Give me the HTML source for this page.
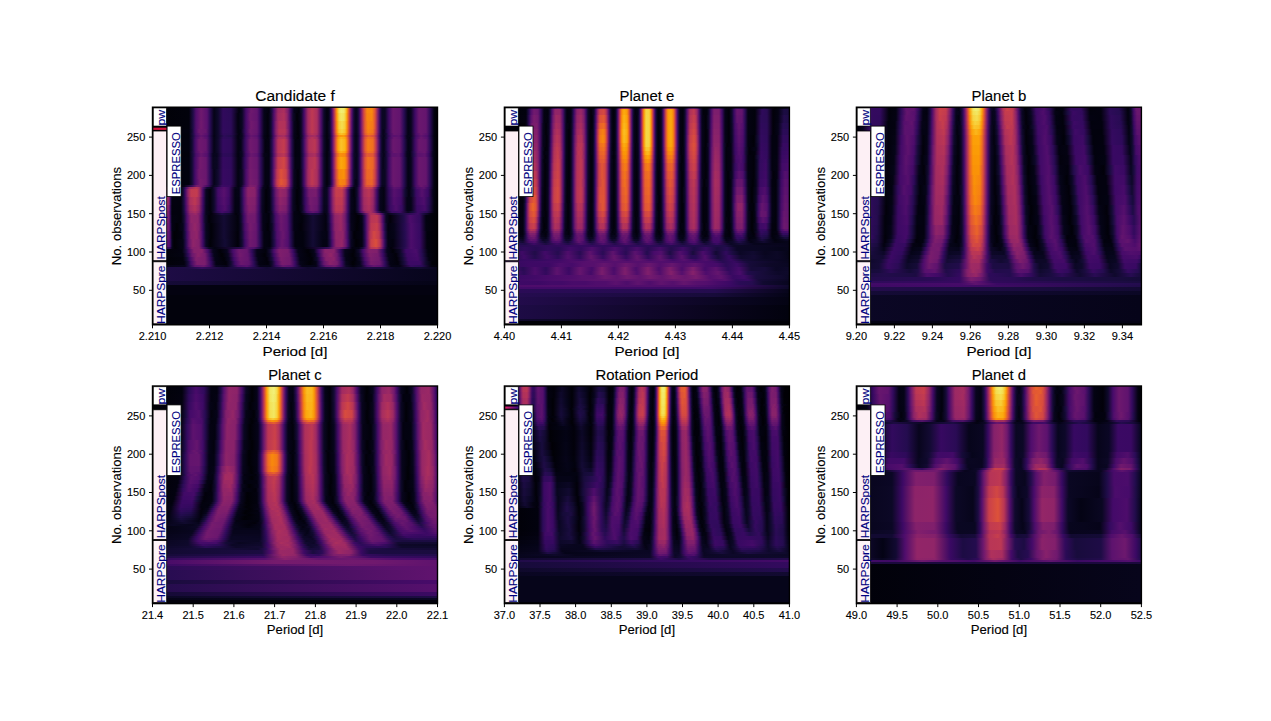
<!DOCTYPE html><html><head><meta charset="utf-8"><style>
html,body{margin:0;padding:0;background:#fff}
body{width:1271px;height:721px;position:relative;overflow:hidden}
.hm{position:absolute;overflow:hidden;background:#000}
.hm i{position:absolute;left:0;width:100%;display:block}
svg{position:absolute;left:0;top:0}
</style></head><body><div class="hm" style="left:152px;top:107px;width:285px;height:218px"><i style="top:0px;height:6px;background:linear-gradient(90deg,#010106 0px,#02020c 37px,#1e0c45 41px,#4f0d6c 44px,#6f196e 49px,#59116e 55px,#2a0b56 58px,#050417 62px,#0e092b 66px,#310a5c 71px,#2b0b57 79px,#02020e 87px,#0a0722 90px,#440a68 94px,#6e196e 99px,#62146e 105px,#390963 108px,#060419 112px,#030210 117px,#1e0c45 120px,#4e0d6c 122px,#9e2a63 126px,#ac2f5d 132px,#7b1d6d 136px,#310a5d 139px,#060419 142px,#02020c 147px,#140b34 150px,#420a68 152px,#a32c61 156px,#bf3952 160px,#a92e5e 165px,#4d0d6c 169px,#0d0829 172px,#02020e 175px,#07051b 177px,#290b55 179px,#4f0d6c 180px,#ab2f5d 182px,#f3771a 184px,#fca40a 185px,#f4df53 187px,#f1ef74 189px,#f2ea6a 192px,#f9c62e 194px,#fca208 195px,#d64a40 197px,#781c6d 199px,#4d0c6c 200px,#120a32 202px,#060419 204px,#110a30 206px,#450a69 208px,#912568 210px,#d74b3f 212px,#f8870e 215px,#f98a0c 220px,#e05437 223px,#781c6d 226px,#310a5c 228px,#0b0724 230px,#0a0722 233px,#400a67 237px,#6a176e 241px,#62146e 248px,#290b55 252px,#040314 256px,#08051d 259px,#3d0965 263px,#6a176e 267px,#64156e 274px,#2d0b59 278px,#040312 282px,#010108 284px)"></i><i style="top:6px;height:8px;background:linear-gradient(90deg,#010106 0px,#02020c 37px,#1e0c45 41px,#500d6c 44px,#6f196e 49px,#5a116e 55px,#2b0b57 58px,#050417 62px,#0e092b 66px,#310a5c 71px,#2c0b58 79px,#030210 86px,#0a0722 90px,#440a68 94px,#6d186e 98px,#62146e 105px,#390963 108px,#06051a 112px,#02020c 116px,#10092d 119px,#510e6c 122px,#a32c61 126px,#b0315b 132px,#922567 135px,#4d0d6c 138px,#0e092b 141px,#010108 145px,#09061f 149px,#420a68 152px,#a32c61 156px,#bf3952 160px,#a92e5e 165px,#4d0d6c 169px,#0d0829 172px,#02020e 175px,#07051b 177px,#290b54 179px,#4d0c6b 180px,#a82e5f 182px,#f1721e 184px,#fb9d07 185px,#f6d645 187px,#f2e763 189px,#f3e259 192px,#fbbe24 194px,#fb9b06 195px,#d34743 197px,#751b6e 199px,#4b0c6b 200px,#120a31 202px,#060419 204px,#110a30 206px,#440a69 208px,#902468 210px,#d54941 212px,#f78310 215px,#f8870e 220px,#de5238 223px,#771c6d 226px,#300a5b 228px,#0b0724 230px,#0a0722 233px,#400a67 237px,#6a176e 241px,#62146e 248px,#290b55 252px,#040314 256px,#08051d 259px,#3d0965 263px,#6a176e 267px,#64156e 274px,#2d0b59 278px,#040312 282px,#010108 284px)"></i><i style="top:14px;height:8px;background:linear-gradient(90deg,#010106 0px,#02020c 37px,#1e0c45 41px,#510e6c 44px,#71196e 49px,#5a116e 55px,#2b0b57 58px,#050417 62px,#0e092b 66px,#310a5d 71px,#2d0b59 79px,#030210 86px,#0a0722 90px,#450a69 94px,#71196e 99px,#64156e 105px,#3a0963 108px,#07051b 112px,#02020c 116px,#100a2e 119px,#390963 121px,#86216b 124px,#b2325a 127px,#b1325a 133px,#6b176e 137px,#360961 139px,#07051b 142px,#02010a 146px,#09061f 149px,#420a68 152px,#a32c61 156px,#bf3952 160px,#a92e5e 165px,#4d0d6c 169px,#0d0829 172px,#02020e 175px,#110a30 178px,#4b0c6b 180px,#a42c61 182px,#ee6b23 184px,#fa9407 185px,#f8cd36 187px,#f4de51 190px,#f8cc35 193px,#fa9207 195px,#cf4446 197px,#731a6e 199px,#490b6a 200px,#110a30 202px,#060419 204px,#110a30 206px,#440a68 208px,#8e2469 210px,#e75e2e 213px,#f8860e 216px,#f47819 221px,#dc503b 223px,#751b6e 226px,#2f0a5b 228px,#0b0724 230px,#0a0722 233px,#400a67 237px,#6a176e 241px,#62146e 248px,#290b55 252px,#040314 256px,#08051d 259px,#3d0965 263px,#6a176e 267px,#64156e 274px,#2d0b59 278px,#040312 282px,#010108 284px)"></i><i style="top:22px;height:4px;background:linear-gradient(90deg,#010106 0px,#02020e 37px,#110a30 40px,#420a68 43px,#6d186e 47px,#65156e 54px,#2b0b57 58px,#050417 62px,#0e092b 66px,#320a5e 71px,#2d0b59 79px,#030311 86px,#050417 89px,#340a5f 93px,#6f196e 98px,#64156e 105px,#3b0964 108px,#07051b 112px,#02020c 116px,#110a30 119px,#3b0964 121px,#89226a 124px,#b63457 127px,#b53458 133px,#86216b 136px,#380962 139px,#07051b 142px,#02010a 146px,#09061f 149px,#420a68 152px,#a32c61 156px,#bf3952 160px,#a92e5e 165px,#4d0d6c 169px,#0d0829 172px,#02020e 175px,#110a30 178px,#490b6a 180px,#a12b62 182px,#ec6727 184px,#f98e09 185px,#fac52c 187px,#f6d643 190px,#fac42b 193px,#f98c0a 195px,#cb4149 197px,#70196e 199px,#480b6a 200px,#110a30 202px,#060419 204px,#110a30 206px,#420a68 208px,#8c2369 210px,#e65c30 213px,#f78311 216px,#f2751b 221px,#bf3952 224px,#741a6e 226px,#2f0a5b 228px,#0b0724 230px,#060419 232px,#2f0a5b 236px,#6a176e 241px,#62146e 248px,#290b55 252px,#040314 256px,#08051d 259px,#3d0965 263px,#6a176e 267px,#64156e 274px,#2d0b59 278px,#040312 282px,#010108 284px)"></i><i style="top:26px;height:2px;background:linear-gradient(90deg,#010106 0px,#02020c 37px,#1d0c44 41px,#4d0d6c 44px,#6d186e 49px,#58106e 55px,#290b55 58px,#050417 62px,#0e092b 66px,#300a5b 71px,#2b0b57 79px,#02020e 87px,#0a0722 90px,#430a68 94px,#6e186e 99px,#61136e 105px,#380962 108px,#06051a 112px,#02020c 116px,#100a2e 119px,#390963 121px,#86216b 124px,#b3325a 127px,#b1325a 133px,#83206b 136px,#360960 139px,#06051a 142px,#010109 146px,#09061f 149px,#3e0966 152px,#9d2964 156px,#b93556 160px,#a52c60 165px,#4a0c6b 169px,#0d0827 172px,#02020d 175px,#0f092c 178px,#450a69 180px,#9a2865 182px,#e65d2f 184px,#fb9f09 186px,#fac42b 189px,#fbb318 193px,#fb9f09 194px,#e55c30 196px,#982765 198px,#440a68 200px,#10092d 202px,#050417 204px,#10092d 206px,#3f0a66 208px,#87216b 210px,#e05536 213px,#f47819 216px,#ee6b23 221px,#b83556 224px,#4c0c6b 227px,#160b38 229px,#060419 231px,#100a2e 234px,#3e0966 237px,#69176e 242px,#5f136e 248px,#280b53 252px,#040314 256px,#08051d 259px,#4a0c6b 264px,#6b176e 269px,#57106d 275px,#2a0b56 278px,#040312 282px,#010108 284px)"></i><i style="top:28px;height:2px;background:linear-gradient(90deg,#010106 0px,#02020c 37px,#190c3e 41px,#460b69 44px,#63146e 49px,#500d6c 55px,#240c4f 58px,#040314 62px,#120a32 67px,#2d0b59 72px,#210c4a 80px,#030210 86px,#09061f 90px,#3c0965 94px,#65156e 99px,#58106e 105px,#320a5e 108px,#050417 112px,#02010a 116px,#0e092b 119px,#4d0c6b 122px,#9c2964 126px,#a92e5f 132px,#791c6d 136px,#310a5c 139px,#060419 142px,#02010b 147px,#110a30 150px,#510e6d 153px,#9c2964 157px,#a62d60 163px,#731a6e 167px,#430a68 169px,#0b0724 172px,#02020c 175px,#0d0829 178px,#3e0966 180px,#8c2369 182px,#d74b3f 184px,#fa9307 187px,#fb9c07 192px,#eb6628 195px,#b3325a 197px,#61146e 199px,#3c0965 200px,#0d0829 202px,#040314 204px,#0d0829 206px,#380962 208px,#7b1d6d 210px,#d04545 213px,#e9622b 217px,#d64a40 222px,#88226a 225px,#440a69 227px,#120a32 229px,#050417 232px,#270b52 236px,#58106e 240px,#5d126e 247px,#320a5e 251px,#060419 255px,#07051b 259px,#430a68 264px,#61146e 269px,#4f0d6c 275px,#250c50 278px,#030210 282px,#010108 284px)"></i><i style="top:30px;height:2px;background:linear-gradient(90deg,#010106 0px,#02020c 37px,#1c0c43 41px,#4d0c6b 44px,#6c186e 49px,#56106d 55px,#290b54 58px,#050417 62px,#0e092a 66px,#2f0a5a 71px,#2b0b57 79px,#030210 86px,#0a0722 90px,#420a68 94px,#6c186e 99px,#60136e 105px,#380962 108px,#060419 112px,#02020c 116px,#100a2e 119px,#390963 121px,#86216b 124px,#b33359 127px,#b1325a 133px,#83206b 136px,#360960 139px,#06051a 142px,#010108 146px,#08061e 149px,#3d0965 152px,#9b2865 156px,#b63458 160px,#a22b62 165px,#490b6a 169px,#0d0827 172px,#02020c 175px,#0f092c 178px,#440a68 180px,#962766 182px,#e15734 184px,#fa9508 186px,#fbb81d 189px,#fca80f 193px,#fa9508 194px,#e05536 196px,#932667 198px,#420a68 200px,#0f092c 202px,#050417 204px,#0f092c 206px,#3e0965 208px,#84206b 210px,#dc503a 213px,#f1711f 216px,#eb6628 221px,#b43359 224px,#490b6a 227px,#140b36 229px,#060419 231px,#100a2e 234px,#3d0965 237px,#68166e 242px,#5d126e 248px,#380962 251px,#07051c 255px,#040314 258px,#190c3e 261px,#490b6a 264px,#69166e 269px,#56106d 275px,#290b55 278px,#040312 282px,#010108 284px)"></i><i style="top:32px;height:12px;background:linear-gradient(90deg,#010106 0px,#02020e 37px,#110a30 40px,#420a68 43px,#6e186e 47px,#66156e 54px,#2c0b57 58px,#050417 62px,#10092d 66px,#330a5f 71px,#2f0a5a 79px,#040312 86px,#050417 89px,#340a5f 93px,#70196e 98px,#66156e 105px,#290b55 109px,#030210 113px,#040312 117px,#240c4f 120px,#5b116e 122px,#b63458 126px,#c43c4e 132px,#a42c61 135px,#58106e 138px,#220c4b 140px,#030210 143px,#040312 148px,#270b53 151px,#5c126e 153px,#b1325a 157px,#bb3754 163px,#982766 166px,#4d0d6c 169px,#0d0829 172px,#02020e 175px,#060419 177px,#240c4e 179px,#460b69 180px,#9a2865 182px,#e65d2f 184px,#fc9f08 186px,#fac32a 189px,#fcb317 193px,#fb9e07 194px,#e55b31 196px,#982766 198px,#440a69 200px,#10092d 202px,#050417 204px,#10092d 206px,#400a67 208px,#89226a 210px,#e25734 213px,#f57c16 216px,#f06f20 221px,#bb3755 224px,#711a6e 226px,#2d0b59 228px,#0a0723 230px,#060419 232px,#2f0a5b 236px,#6a176e 241px,#62146e 248px,#290b55 252px,#040314 256px,#08051d 259px,#3d0965 263px,#6a176e 267px,#64156e 274px,#2d0b59 278px,#040312 282px,#010108 284px)"></i><i style="top:44px;height:2px;background:linear-gradient(90deg,#010106 0px,#02020d 37px,#1e0c45 41px,#510e6c 44px,#71196e 49px,#5b116e 55px,#2b0b57 58px,#050417 62px,#0f092c 66px,#330a5e 71px,#2e0a5a 79px,#030311 86px,#0a0723 90px,#460b69 94px,#721a6e 99px,#65156e 105px,#290b54 109px,#030210 113px,#040312 117px,#250c50 120px,#5c126e 122px,#b83556 126px,#c63e4d 132px,#a62d60 135px,#59106e 138px,#220c4b 140px,#030210 143px,#040312 148px,#260c51 151px,#5a116e 153px,#ad305c 157px,#b83556 163px,#962766 166px,#4c0c6b 169px,#0d0827 172px,#02020c 175px,#0e092b 178px,#430a68 180px,#942667 182px,#e05536 184px,#fa9108 186px,#fcb318 189px,#fca40a 193px,#fa8f09 194px,#de5338 196px,#912568 198px,#410a67 200px,#0f092c 202px,#050417 204px,#0f092c 206px,#3e0966 208px,#85216b 210px,#dd5139 213px,#f2741c 216px,#ec6726 221px,#b63458 224px,#4b0c6b 227px,#150b37 229px,#060419 231px,#110a30 234px,#3f0a66 237px,#6c186e 242px,#61136e 248px,#290b54 252px,#07051c 255px,#040314 258px,#2a0b56 262px,#61146e 266px,#69166e 273px,#3e0966 277px,#08051d 281px,#010108 284px)"></i><i style="top:46px;height:4px;background:linear-gradient(90deg,#010106 0px,#02020c 37px,#1b0c41 41px,#4a0c6b 44px,#68166e 49px,#540f6d 55px,#270b52 58px,#07051d 61px,#08061f 65px,#2e0a5a 71px,#2a0b55 79px,#030210 86px,#090621 90px,#400a67 94px,#6a176e 99px,#5d126e 105px,#350a60 108px,#060418 112px,#030311 117px,#210c4b 120px,#56106d 122px,#ad305c 126px,#bb3754 132px,#9c2964 135px,#530e6d 138px,#1f0c47 140px,#030210 143px,#030312 148px,#220c4b 151px,#530f6d 153px,#a12b62 157px,#ac2f5d 163px,#771c6d 167px,#460b69 169px,#0b0725 172px,#02020c 175px,#0d0827 178px,#3c0965 180px,#87216a 182px,#e75f2d 185px,#f9900a 188px,#f8870f 193px,#d04545 196px,#86216b 198px,#3a0963 200px,#0d0828 202px,#06051a 205px,#1d0c44 207px,#58106e 209px,#ba3655 212px,#e45b31 215px,#e05635 221px,#a82e5f 224px,#440a68 227px,#120a32 229px,#050417 232px,#290b54 236px,#5b126e 240px,#5f136e 247px,#350a5f 251px,#06051a 255px,#040313 258px,#260c51 262px,#5a116e 266px,#60136e 273px,#370961 277px,#07051c 281px,#010108 284px)"></i><i style="top:50px;height:12px;background:linear-gradient(90deg,#010106 0px,#02020e 37px,#120a32 40px,#430a68 43px,#731a6e 48px,#68166e 54px,#2d0b59 58px,#09061f 61px,#0a0722 65px,#350960 71px,#300a5c 79px,#040312 86px,#060419 89px,#360961 93px,#731a6e 98px,#68166e 105px,#2b0b56 109px,#040312 113px,#040312 117px,#280b54 120px,#63146e 122px,#c43c4f 126px,#d24744 132px,#b2325a 135px,#5f136e 138px,#260c50 140px,#040312 143px,#040312 148px,#270b53 151px,#5c126e 153px,#b1325a 157px,#bb3754 163px,#982766 166px,#4d0d6c 169px,#0d0829 172px,#02020c 175px,#0e092b 178px,#400a67 180px,#8f2468 182px,#db4f3c 184px,#f8870e 186px,#fca80d 189px,#fb9907 193px,#ee6b23 195px,#b73557 197px,#64156e 199px,#3f0966 200px,#0e092b 202px,#050417 204px,#0f092d 206px,#3e0966 208px,#84206b 210px,#dc503a 213px,#f1721e 216px,#eb6528 221px,#b43359 224px,#4a0c6b 227px,#150b37 229px,#060419 231px,#110a30 234px,#400a67 237px,#6a176e 241px,#62146e 248px,#290b55 252px,#040314 256px,#08051d 259px,#3d0965 263px,#6a176e 267px,#64156e 274px,#2d0b59 278px,#040312 282px,#010108 284px)"></i><i style="top:62px;height:10px;background:linear-gradient(90deg,#010106 0px,#02020e 37px,#120a32 40px,#440a69 43px,#71196e 47px,#69176e 54px,#2d0b59 58px,#060419 62px,#110a2f 66px,#370961 71px,#320a5d 79px,#040312 86px,#0b0724 90px,#4a0c6b 94px,#751b6e 98px,#6a176e 105px,#2b0b57 109px,#040312 113px,#040314 117px,#2c0b57 120px,#68166e 122px,#bd3853 125px,#dd513a 129px,#cb4149 134px,#84206b 137px,#450a69 139px,#09061f 142px,#02010a 146px,#09061f 149px,#420a68 152px,#a32c61 156px,#bf3952 160px,#a92e5e 165px,#4d0d6c 169px,#0d0829 172px,#02020c 175px,#0d0829 178px,#3d0965 180px,#88226a 182px,#d24743 184px,#f8890c 187px,#fa9208 192px,#e8602d 195px,#86216b 198px,#3b0964 200px,#0d0829 202px,#07051b 205px,#1f0c48 207px,#5d126e 209px,#c33b50 212px,#ec6627 215px,#ed6925 220px,#cc4149 223px,#6a176e 226px,#290b55 228px,#0a0722 230px,#0a0722 233px,#400a67 237px,#6a176e 241px,#62146e 248px,#290b55 252px,#040314 256px,#08051d 259px,#3d0965 263px,#6a176e 267px,#64156e 274px,#2d0b59 278px,#040312 282px,#010108 284px)"></i><i style="top:72px;height:6px;background:linear-gradient(90deg,#010106 0px,#02020e 37px,#120a32 40px,#450a69 43px,#751b6e 48px,#6a176e 54px,#2f0a5b 58px,#060419 62px,#110a30 66px,#380962 71px,#320a5e 79px,#040312 86px,#0b0724 90px,#4a0c6b 94px,#771c6d 98px,#6c186e 105px,#2c0b58 109px,#040312 113px,#040314 117px,#2e0a59 120px,#6d186e 122px,#c33b4f 125px,#e25734 129px,#d14644 134px,#89226a 137px,#480b6a 139px,#09061f 142px,#02010a 146px,#09061f 149px,#420a68 152px,#a32c61 156px,#bf3952 160px,#a92e5e 165px,#4d0d6c 169px,#0d0829 172px,#02020c 175px,#0d0828 178px,#3a0963 180px,#83206b 182px,#e35933 185px,#f8860e 188px,#f57d15 193px,#cb414a 196px,#5b116e 199px,#1c0c43 201px,#060419 203px,#07051b 205px,#1f0c47 207px,#5b116e 209px,#bf3952 212px,#e9622b 215px,#eb6429 220px,#c83f4b 223px,#68166e 226px,#280b53 228px,#0a0722 230px,#0a0722 233px,#400a67 237px,#6a176e 241px,#62146e 248px,#290b55 252px,#040314 256px,#08051d 259px,#3d0965 263px,#6a176e 267px,#64156e 274px,#2d0b59 278px,#040312 282px,#010108 284px)"></i><i style="top:78px;height:2px;background:linear-gradient(90deg,#010106 0px,#02010a 11px,#1d073c 15px,#180737 17px,#010108 20px,#040312 32px,#370d59 40px,#771c6d 45px,#731a6e 50px,#400b65 56px,#09061f 61px,#120a31 65px,#3b0a64 70px,#380962 78px,#030311 86px,#08061e 89px,#430a68 93px,#7e1e6c 98px,#761b6e 104px,#3d0965 108px,#06051a 112px,#02020c 116px,#150b37 119px,#480b6a 121px,#a22b61 124px,#d34843 127px,#d24743 133px,#9f2a63 136px,#440a68 139px,#08061e 142px,#010109 146px,#08061e 149px,#3d0965 152px,#982865 156px,#b33359 160px,#9f2a63 165px,#480b6a 169px,#0d0827 172px,#030311 175px,#150b37 178px,#470b69 180px,#ad305d 183px,#e9622b 186px,#f2741c 190px,#dc5239 194px,#8d2468 197px,#490c6a 199px,#090621 202px,#08051d 205px,#3e0a66 208px,#9f2a63 211px,#db4f3b 214px,#e05635 220px,#b83556 223px,#5a116e 226px,#200c49 228px,#08051d 230px,#090621 233px,#3e0966 237px,#69176e 242px,#5f136e 248px,#280b53 252px,#040314 256px,#08051d 259px,#4a0c6b 264px,#6b176e 269px,#57106d 275px,#2a0b56 278px,#040312 282px,#010108 284px)"></i><i style="top:80px;height:2px;background:linear-gradient(90deg,#010106 0px,#010108 10px,#040314 11px,#200c48 12px,#5e136d 13px,#8b2368 14px,#972864 16px,#85216a 17px,#530f6c 18px,#170b3b 19px,#03020f 20px,#02020e 29px,#190b3d 32px,#460c68 34px,#9a2963 38px,#b93755 44px,#a62d60 47px,#500d6c 51px,#10092e 55px,#06051a 60px,#3a0a63 66px,#550f6d 72px,#410a67 77px,#06051a 83px,#050416 87px,#210c4a 90px,#4c0c6b 92px,#88226a 96px,#8d2369 102px,#5b116e 106px,#310a5d 108px,#08051d 111px,#02010b 116px,#0e092b 119px,#4d0d6b 122px,#9e2a63 126px,#ac305d 132px,#7b1d6d 136px,#310a5d 139px,#06051a 142px,#02010a 147px,#0d0829 150px,#430a68 153px,#83206b 157px,#86216b 164px,#4c0c6b 168px,#090621 172px,#08061e 175px,#390a62 178px,#8e2469 181px,#ca404a 184px,#d44941 190px,#ac305c 193px,#59116c 196px,#130a34 199px,#030311 202px,#0d0829 205px,#4d0c6b 208px,#af315c 212px,#c83f4c 216px,#bc3854 220px,#69166e 224px,#310a5b 226px,#060419 229px,#040313 232px,#350a60 237px,#5d126e 242px,#530e6d 248px,#310a5c 251px,#06051a 255px,#040313 258px,#230c4c 262px,#4c0c6b 265px,#5d126e 272px,#320a5e 277px,#030311 282px,#010108 284px)"></i><i style="top:82px;height:8px;background:linear-gradient(90deg,#010106 0px,#010108 10px,#050416 11px,#280b53 12px,#6e186e 13px,#a32c61 14px,#b1325a 16px,#9c2964 17px,#62146e 18px,#1c0c43 19px,#030311 20px,#02010a 28px,#0f092c 31px,#390963 33px,#8d2369 36px,#c03a51 39px,#c33c4f 45px,#962766 48px,#440a69 51px,#090620 54px,#02010a 58px,#10092e 62px,#430a68 66px,#58106e 72px,#410a67 77px,#040314 83px,#050416 87px,#250c50 90px,#510e6d 92px,#8c2369 96px,#87216b 103px,#420a68 107px,#0d0828 110px,#010108 114px,#060419 118px,#2d0b58 121px,#6e196e 124px,#982766 128px,#8b236a 134px,#410a67 138px,#0b0725 141px,#010108 145px,#050417 149px,#3a0963 153px,#751b6e 157px,#781c6d 164px,#430a68 168px,#09061f 172px,#0a0722 175px,#430a68 178px,#972766 181px,#c63e4d 184px,#c53d4e 190px,#922567 193px,#3d0965 196px,#07051d 199px,#02020c 202px,#0e092b 205px,#4f0d6c 208px,#a82e5f 212px,#ba3655 217px,#9d2964 221px,#3c0965 225px,#08061e 228px,#040312 232px,#310a5c 237px,#57106d 242px,#460b69 249px,#130b34 253px,#030210 257px,#140b35 261px,#3a0964 264px,#56106d 270px,#3b0964 276px,#060419 281px,#010108 284px)"></i><i style="top:90px;height:8px;background:linear-gradient(90deg,#010106 0px,#010108 10px,#040314 11px,#220c4b 12px,#61146e 13px,#912568 14px,#9e2a63 16px,#8b236a 17px,#56106d 18px,#180c3d 19px,#030210 20px,#03020f 29px,#1d0c44 32px,#4f0d6c 34px,#aa2f5e 38px,#bd3853 43px,#a02b62 47px,#3e0966 51px,#08061f 54px,#02010a 58px,#0f092c 62px,#3f0a66 66px,#540f6d 72px,#3e0966 77px,#040314 83px,#040314 87px,#230c4d 90px,#4e0d6c 92px,#86216b 96px,#801f6c 103px,#3f0966 107px,#0c0826 110px,#010108 114px,#050417 118px,#290b54 121px,#67166e 124px,#8f2469 128px,#821f6c 134px,#3c0965 138px,#0a0723 141px,#010108 145px,#050417 149px,#360961 153px,#741b6e 158px,#6a176e 165px,#2c0b58 169px,#08061e 172px,#0a0722 175px,#400a67 178px,#922567 181px,#c13a51 184px,#bf3952 190px,#8e2469 193px,#3a0964 196px,#07051b 199px,#030210 203px,#1b0c42 206px,#4c0c6b 208px,#a22b62 212px,#b43359 217px,#972766 221px,#3a0963 225px,#08051d 228px,#040312 232px,#2e0a5a 237px,#530e6d 242px,#420a68 249px,#050417 255px,#050418 259px,#3f0a66 265px,#4e0d6c 272px,#290b55 277px,#030210 282px,#010108 284px)"></i><i style="top:98px;height:6px;background:linear-gradient(90deg,#010106 0px,#010108 10px,#040313 11px,#1c0c43 12px,#56106d 13px,#811f6c 14px,#8d2369 16px,#7b1d6d 17px,#4c0c6b 18px,#150b36 19px,#03020f 20px,#02020e 29px,#1a0c40 32px,#4a0c6b 34px,#9f2a63 38px,#b2325a 43px,#962766 47px,#3a0963 51px,#08051d 54px,#02010a 58px,#0e092b 62px,#3c0965 66px,#500d6c 73px,#2f0a5b 78px,#040312 83px,#040314 87px,#210c4b 90px,#5d126e 93px,#84206b 97px,#7b1d6d 103px,#3c0965 107px,#0b0724 110px,#010108 114px,#050417 118px,#250c50 121px,#61146e 124px,#86216b 128px,#7a1d6d 134px,#380962 138px,#0a0722 141px,#010108 146px,#0a0722 150px,#450a69 154px,#711a6e 159px,#65156e 165px,#290b54 169px,#08051d 172px,#090620 175px,#3e0966 178px,#8e2469 181px,#bb3755 184px,#b93656 190px,#89226a 193px,#380962 196px,#07051b 199px,#030210 203px,#1a0c40 206px,#490b6a 208px,#9d2964 212px,#af315c 217px,#932567 221px,#370962 225px,#08051d 228px,#030312 232px,#380962 238px,#500e6c 244px,#350a60 250px,#050417 255px,#050417 259px,#3a0963 265px,#460b69 273px,#250c50 277px,#03020e 282px,#010108 284px)"></i><i style="top:104px;height:2px;background:linear-gradient(90deg,#010106 0px,#040312 11px,#1a0c3f 12px,#510e6c 13px,#781c6d 14px,#83206b 16px,#731a6e 17px,#470b6a 18px,#140b34 19px,#02020e 20px,#02020e 29px,#180c3d 32px,#450a69 34px,#972766 38px,#a92e5f 43px,#8f2469 47px,#370961 51px,#07051c 54px,#02020c 59px,#290b54 65px,#450b69 70px,#320a5d 77px,#030311 83px,#040314 87px,#1f0c48 90px,#59116e 93px,#801f6c 97px,#771c6d 103px,#390963 107px,#0b0724 110px,#010108 114px,#0a0722 119px,#4a0c6b 123px,#7b1d6d 127px,#741a6e 134px,#340a5f 138px,#040314 142px,#02020d 148px,#1b0c41 152px,#480b69 155px,#62146e 161px,#4d0d6b 166px,#220c4b 169px,#06051a 172px,#09061f 175px,#3b0964 178px,#88226a 181px,#b43359 184px,#b3325a 190px,#6b176e 194px,#360960 196px,#06051a 199px,#02020d 203px,#140b36 206px,#510e6c 209px,#9b2964 214px,#a82e5f 219px,#741b6d 223px,#360b5d 226px,#0b0722 230px,#0b0724 234px,#3b0a63 240px,#3e0a65 248px,#09061f 256px,#170b3b 261px,#3e0966 266px,#2d0b58 275px,#02020d 282px,#010108 284px)"></i><i style="top:106px;height:2px;background:linear-gradient(90deg,#010106 0px,#030311 11px,#180c3d 12px,#4e0d6c 13px,#761b6e 14px,#82206c 16px,#721a6e 17px,#470b6a 18px,#140b34 19px,#02020e 20px,#02020e 29px,#160b38 32px,#3e0966 34px,#8b236a 38px,#9b2865 44px,#731a6e 48px,#310a5d 51px,#07051b 54px,#02010a 59px,#200b47 70px,#120a31 78px,#02010a 84px,#08051d 88px,#440a68 92px,#771c6d 96px,#721a6e 103px,#370961 107px,#050417 111px,#02020d 117px,#100a2e 120px,#420a68 123px,#721a6e 128px,#68166e 134px,#2e0a5a 138px,#040312 142px,#02020c 149px,#260b4e 158px,#1e0b44 166px,#03020f 173px,#0e092b 176px,#4b0c6b 179px,#982865 183px,#a52c60 189px,#751b6e 193px,#2f0a5a 196px,#050418 199px,#02010a 204px,#120930 209px,#62146e 214px,#a92e5e 218px,#b0325a 222px,#82206a 227px,#470c68 230px,#110a30 233px,#07051a 236px,#1e0c45 248px,#3f0a66 266px,#1d0c44 271px,#03020f 279px,#010106 284px)"></i><i style="top:108px;height:8px;background:linear-gradient(90deg,#010106 0px,#03020f 11px,#130a33 12px,#440a68 13px,#6e186e 14px,#7d1e6d 16px,#71196e 17px,#4a0c6b 18px,#170b3b 19px,#030311 20px,#02020c 29px,#130a33 32px,#4f0d6c 35px,#8e2469 39px,#8c2369 46px,#490b6a 50px,#0f092c 53px,#010108 57px,#140b34 72px,#02020c 86px,#0e092b 89px,#3f0a66 92px,#721a6e 96px,#70196e 103px,#380962 107px,#050417 111px,#02020c 117px,#1a0c3f 121px,#4c0c6b 124px,#6d186e 129px,#5a116e 135px,#2d0b59 138px,#040314 142px,#02020c 150px,#140b34 161px,#030210 174px,#180c3d 177px,#440a68 179px,#8f2469 183px,#9d2964 189px,#711a6e 193px,#2e0a5a 196px,#060419 199px,#010106 206px,#050417 210px,#300a5c 213px,#67166e 215px,#b93556 219px,#bf3952 225px,#972766 228px,#490b6a 231px,#0b0724 234px,#02010a 238px,#210c4a 252px,#4c0c6b 258px,#330a5e 268px,#030312 274px,#010106 284px)"></i><i style="top:116px;height:8px;background:linear-gradient(90deg,#010106 0px,#02010b 11px,#0b0725 12px,#330a5e 13px,#5f136e 14px,#731a6e 16px,#6c186e 17px,#4d0c6c 18px,#1c0c43 19px,#040315 20px,#010106 25px,#07051c 31px,#330a5e 34px,#801f6c 38px,#942667 43px,#811f6c 47px,#350960 51px,#08061e 54px,#010108 59px,#140b34 72px,#02020c 86px,#0c0826 89px,#4b0c6b 93px,#761b6e 98px,#66166e 104px,#3a0963 107px,#060419 111px,#010108 116px,#0c0827 120px,#470b6a 124px,#6b176e 129px,#5a116e 135px,#300a5b 138px,#040315 142px,#02010a 149px,#140b34 161px,#03020f 174px,#150b37 177px,#3e0965 179px,#8b236a 183px,#9b2964 189px,#741b6e 193px,#320a5e 196px,#07051b 199px,#010106 205px,#040315 210px,#2d0b59 213px,#66166e 215px,#bf3952 219px,#c93f4b 225px,#a42c61 228px,#530e6d 231px,#1d0c44 233px,#030210 236px,#060419 242px,#270b52 253px,#4d0d6c 259px,#350a60 268px,#040313 274px,#010106 284px)"></i><i style="top:124px;height:8px;background:linear-gradient(90deg,#010106 0px,#010109 11px,#07051b 12px,#500d6c 14px,#6a176e 16px,#4e0d6c 18px,#060519 20px,#010106 22px,#030210 30px,#1a0c40 33px,#440a69 35px,#87216b 39px,#902468 45px,#63146e 49px,#390963 51px,#090621 54px,#010108 59px,#140b34 72px,#02010a 86px,#140b34 90px,#460b69 93px,#721a6e 98px,#65156e 104px,#290b55 108px,#030311 112px,#03020f 118px,#210c4a 122px,#500e6c 125px,#6a176e 131px,#510e6c 136px,#210c4b 139px,#03020f 143px,#02020e 151px,#140b34 161px,#050417 170px,#040314 175px,#220c4b 178px,#4f0d6c 180px,#912568 184px,#902568 191px,#4d0d6c 195px,#110a30 198px,#010108 202px,#040313 210px,#2a0b56 213px,#65156e 215px,#b53458 218px,#d44842 222px,#c13a50 227px,#5d126e 231px,#240c4e 233px,#030312 236px,#050417 242px,#250c50 253px,#4d0d6c 259px,#360961 268px,#02020e 275px,#010106 284px)"></i><i style="top:132px;height:8px;background:linear-gradient(90deg,#010106 0px,#010108 11px,#040313 12px,#180c3c 13px,#410a67 14px,#5a116e 15px,#5e126e 17px,#4d0c6c 18px,#260c51 19px,#08061e 20px,#010106 22px,#050417 31px,#280b53 34px,#67166e 37px,#8f2469 41px,#82206c 47px,#3d0965 51px,#0b0724 54px,#010108 58px,#130b34 73px,#02010a 86px,#110a2f 90px,#400a67 93px,#6f196e 98px,#65156e 104px,#2b0b57 108px,#040312 112px,#02020e 118px,#1d0c45 122px,#4c0c6b 125px,#68166e 130px,#510e6d 136px,#240c4e 139px,#030210 143px,#02020e 151px,#130b34 161px,#040313 171px,#040313 175px,#1d0c45 178px,#490b6a 180px,#8d2369 184px,#952667 190px,#66156e 194px,#3a0964 196px,#090621 199px,#010106 204px,#040312 210px,#270b52 213px,#63146e 215px,#ca404a 219px,#db4f3b 224px,#bc3754 228px,#68166e 231px,#2c0b57 233px,#040314 236px,#030210 241px,#240c4e 253px,#4c0c6b 259px,#380962 268px,#03020f 275px,#010106 284px)"></i><i style="top:140px;height:2px;background:linear-gradient(90deg,#010106 0px,#02020d 12px,#350b5b 15px,#300b57 18px,#060419 20px,#010106 23px,#050418 31px,#380962 35px,#84206b 40px,#86216b 47px,#420c66 52px,#0b0723 57px,#030311 63px,#270a4b 89px,#5d126e 95px,#510f6b 102px,#270b4f 107px,#030210 112px,#07051a 118px,#3c0a63 123px,#6d186e 128px,#65156e 135px,#350a5e 139px,#050416 144px,#02020e 152px,#260948 171px,#370d59 177px,#771c6d 182px,#7e1e6c 187px,#53106a 193px,#250b4d 196px,#030210 200px,#040313 207px,#1a0a3e 211px,#510e6c 214px,#b83656 219px,#c33d4e 225px,#8f2467 229px,#400a66 232px,#090621 235px,#02010a 239px,#230c4c 252px,#4d0d6c 259px,#370961 268px,#030210 275px,#010106 284px)"></i><i style="top:142px;height:4px;background:linear-gradient(90deg,#010106 0px,#030210 30px,#1c0c42 34px,#4d0c6b 37px,#86216b 42px,#87216b 50px,#440b68 56px,#08051d 61px,#010108 68px,#07051d 75px,#460b69 81px,#6f196e 87px,#67166e 95px,#2f0a5a 100px,#060418 105px,#02020c 114px,#120a31 118px,#4a0c6b 122px,#7e1e6c 127px,#781c6d 136px,#3b0a64 141px,#060418 146px,#010107 156px,#06051a 162px,#400a67 167px,#88226a 173px,#89226a 182px,#3b0964 188px,#07051b 193px,#010109 202px,#0f092c 207px,#450a69 211px,#84206b 217px,#801f6c 225px,#340a5f 231px,#07051d 235px,#010108 241px,#0d0827 248px,#3e0966 254px,#4a0c6b 264px,#2b0b56 269px,#02020e 276px,#010106 284px)"></i><i style="top:146px;height:4px;background:linear-gradient(90deg,#010106 0px,#030311 31px,#2d0b59 36px,#6a176e 40px,#8a226a 46px,#761b6e 53px,#300a5b 58px,#06051a 62px,#010106 70px,#08061e 76px,#4b0c6b 82px,#721a6e 88px,#62146e 96px,#350a5f 100px,#060418 105px,#010108 113px,#0c0827 118px,#3e0a66 122px,#7e1e6c 128px,#741b6e 137px,#370961 142px,#050417 147px,#010107 158px,#07051c 163px,#340a5f 167px,#7d1e6d 172px,#922568 179px,#70196e 185px,#310a5c 189px,#06051a 193px,#010107 201px,#0a0723 207px,#4a0c6b 212px,#801f6c 218px,#761b6d 226px,#3b0964 231px,#060419 236px,#02010a 244px,#140b36 250px,#3e0965 255px,#470b6a 265px,#260c51 270px,#030311 276px,#010106 284px)"></i><i style="top:150px;height:4px;background:linear-gradient(90deg,#010106 0px,#02020d 31px,#150b37 35px,#400a67 38px,#811f6c 44px,#791c6d 53px,#3a0963 58px,#050417 63px,#010108 72px,#090621 77px,#400a67 82px,#6d186e 88px,#65156e 96px,#2f0a5b 101px,#050416 106px,#02010a 115px,#160b39 120px,#420a67 123px,#7b1d6d 129px,#70196e 138px,#310a5c 143px,#040314 148px,#010108 160px,#0e092b 165px,#470b6a 169px,#84206b 174px,#8a226a 182px,#5b126e 187px,#2a0b56 190px,#050417 194px,#010108 203px,#0b0725 208px,#4c0c6b 213px,#7c1e6d 219px,#721a6e 227px,#350a60 232px,#050416 237px,#02010a 245px,#160b38 251px,#3e0965 256px,#440a68 266px,#230c4c 271px,#030210 277px,#010106 284px)"></i><i style="top:154px;height:4px;background:linear-gradient(90deg,#010106 0px,#03020f 32px,#170b3a 36px,#420a67 39px,#7e1e6c 45px,#7a1d6d 53px,#340a5f 59px,#040314 64px,#02010a 74px,#110a30 79px,#410a67 83px,#6b176e 89px,#60136e 97px,#2a0b55 102px,#040313 107px,#02010b 116px,#0f092d 120px,#440a68 124px,#781c6d 130px,#71196e 138px,#3a0963 143px,#060519 148px,#010106 158px,#050416 164px,#280b53 168px,#65156e 172px,#8a226a 178px,#791c6d 185px,#350a60 190px,#08061e 194px,#010106 201px,#07051c 208px,#3e0a66 213px,#781c6d 219px,#6d186e 228px,#2f0a5b 233px,#040314 238px,#02010b 246px,#170b3b 252px,#3d0965 257px,#3d0965 268px,#100a2e 274px,#010108 280px,#010106 284px)"></i><i style="top:158px;height:2px;background:linear-gradient(90deg,#040312 0px,#07051b 33px,#280b53 38px,#60136e 43px,#6d186e 52px,#430a68 58px,#090621 64px,#050315 75px,#1f0c47 81px,#4e0d6b 86px,#5b116e 95px,#2b0b57 102px,#060418 108px,#060419 118px,#340a5f 124px,#67166e 131px,#56106d 140px,#2c0b58 144px,#050416 150px,#050418 164px,#2a0b56 169px,#63146e 174px,#71196d 183px,#410a67 189px,#0c0826 194px,#02020d 201px,#0a0723 209px,#460b69 215px,#66156e 222px,#57106d 229px,#2e0a59 233px,#040314 239px,#040314 248px,#370a60 259px,#2a0b56 270px,#030210 279px,#02010b 284px)"></i><i style="top:160px;height:2px;background:linear-gradient(90deg,#1b0c41 0px,#1e0c45 36px,#350b5d 50px,#160b38 72px,#2b0b55 95px,#120a32 115px,#2b0b54 136px,#0f092c 156px,#180c3c 169px,#290b51 181px,#0c0826 202px,#1f0b45 217px,#1a0b3f 231px,#090621 244px,#130a33 268px,#07051c 284px)"></i><i style="top:162px;height:12px;background:linear-gradient(90deg,#1f0c47 0px,#07051c 284px)"></i><i style="top:174px;height:4px;background:linear-gradient(90deg,#160b39 0px,#050417 284px)"></i><i style="top:178px;height:10px;background:#030210"></i><i style="top:188px;height:30px;background:#02020c"></i></div><div class="hm" style="left:504px;top:107px;width:285px;height:218px"><i style="top:0px;height:2px;background:linear-gradient(90deg,#010106 0px,#03020f 23px,#29094a 28px,#270948 35px,#010109 41px,#07051b 46px,#2d0a4c 49px,#451257 54px,#2e0b4d 58px,#030311 62px,#02020d 67px,#330d50 72px,#451257 77px,#19093a 82px,#02020d 85px,#040313 90px,#421256 94px,#631a5c 98px,#53165b 102px,#1c083e 105px,#02020c 108px,#060418 112px,#441257 115px,#8a2855 118px,#8d2b53 123px,#50165a 126px,#0a0620 129px,#010107 132px,#09061f 135px,#55175b 138px,#9a374b 141px,#99364b 146px,#751f5b 148px,#340d50 150px,#09061f 152px,#010107 155px,#0a0620 158px,#51165b 161px,#8d2b53 164px,#892855 169px,#431256 172px,#060418 175px,#010109 179px,#10082d 182px,#421256 185px,#59185c 189px,#441257 193px,#11082e 196px,#010109 199px,#03020f 204px,#310c4e 209px,#360e51 215px,#19093a 218px,#02010a 222px,#03020f 227px,#2a0a4a 232px,#260947 239px,#02020d 244px,#040312 253px,#130931 260px,#010106 271px,#0a0621 283px,#0a0620 284px)"></i><i style="top:2px;height:6px;background:linear-gradient(90deg,#010106 0px,#02020e 22px,#230c4d 25px,#520e6d 27px,#711a6e 30px,#69176e 34px,#300a5c 37px,#040313 40px,#02020e 44px,#140b35 46px,#4c0c6b 48px,#912568 51px,#912568 56px,#4e0d6c 59px,#150b36 61px,#02020e 63px,#040314 67px,#1e0c46 69px,#3c0965 70px,#8a226a 73px,#9a2865 77px,#781c6d 80px,#3e0966 82px,#0d0828 84px,#010108 87px,#0b0725 90px,#470b6a 92px,#9a2865 94px,#cd4348 96px,#d54a40 100px,#ba3655 102px,#711a6e 104px,#470b6a 105px,#0c0826 107px,#02010a 109px,#040314 111px,#0e092b 112px,#2d0b58 113px,#5e126e 114px,#972766 115px,#ce4347 116px,#ee6c23 117px,#fa9008 118px,#fcab10 120px,#fb9a06 123px,#de5338 125px,#741b6e 127px,#400a67 128px,#170c3b 129px,#02020e 131px,#060419 134px,#160b39 135px,#3e0966 136px,#771c6d 137px,#b83556 138px,#e9622b 139px,#fb9806 140px,#f6d643 142px,#f7d440 145px,#fac026 146px,#fb9806 147px,#e8602c 148px,#b63458 149px,#751b6e 150px,#3e0966 151px,#160b39 152px,#02020c 154px,#07051b 157px,#180c3c 158px,#400a67 159px,#751b6e 160px,#de5338 162px,#fb9806 164px,#fca80d 167px,#f98d0a 169px,#ed6826 170px,#952667 172px,#5b116e 173px,#2b0b57 174px,#040312 176px,#02020c 179px,#10092e 181px,#4e0d6c 183px,#ae305c 186px,#c13a51 190px,#982865 193px,#520e6d 195px,#120a32 197px,#02020c 199px,#02020e 203px,#110a30 205px,#420a68 207px,#7c1e6d 210px,#7c1d6d 215px,#3f0a66 218px,#060418 221px,#010108 225px,#10092d 228px,#380962 230px,#68166e 233px,#63146e 238px,#2d0b59 241px,#040312 244px,#02020c 251px,#2f0a5b 258px,#290b54 263px,#02010a 269px,#040312 274px,#1c0c43 280px,#1a0c40 284px)"></i><i style="top:8px;height:8px;background:linear-gradient(90deg,#010106 0px,#030210 22px,#2b0b56 25px,#5c126e 27px,#7a1d6d 30px,#6f196e 34px,#310a5c 37px,#040312 40px,#030210 44px,#160b3a 46px,#320a5d 47px,#711a6e 49px,#a12b62 52px,#992865 56px,#500e6c 59px,#150b37 61px,#02020e 63px,#040314 67px,#210c4b 69px,#410a67 70px,#922567 73px,#a22b62 77px,#7d1e6c 80px,#410a67 82px,#0d0829 84px,#010108 87px,#040314 89px,#270b52 91px,#500e6c 92px,#aa2f5e 94px,#dd5239 96px,#e45a31 100px,#ca404a 102px,#7b1d6d 104px,#4e0d6c 105px,#0d0827 107px,#02010b 109px,#040314 111px,#0f092c 112px,#2e0a5a 113px,#60136e 114px,#9a2865 115px,#d24644 116px,#f1711e 117px,#fb9706 118px,#fcb317 120px,#fca108 123px,#f78211 124px,#e15734 125px,#761b6d 127px,#410a67 128px,#180c3c 129px,#07051b 130px,#02020c 133px,#160b39 135px,#3e0966 136px,#771c6d 137px,#b93556 138px,#ea632a 139px,#fb9906 140px,#f6d746 142px,#f6d543 145px,#fac228 146px,#fb9906 147px,#e9612b 148px,#b73557 149px,#751b6e 150px,#3e0966 151px,#160b39 152px,#02020c 154px,#07051b 157px,#180c3c 158px,#400a67 159px,#751b6e 160px,#df5337 162px,#fb9906 164px,#fcaa0f 167px,#f98e09 169px,#ed6925 170px,#cb4149 171px,#952667 172px,#5c126e 173px,#2b0b57 174px,#040312 176px,#02020c 179px,#110a30 181px,#520e6d 183px,#b53458 186px,#c83f4b 190px,#b73557 192px,#560f6d 195px,#2f0a5b 196px,#060419 198px,#010108 202px,#120a31 205px,#450a69 207px,#811f6c 210px,#801f6c 215px,#420a68 218px,#060419 221px,#010108 225px,#0e092b 228px,#350960 230px,#64156e 233px,#60136e 238px,#2c0b58 241px,#040312 244px,#02020c 251px,#2d0b59 257px,#2b0b56 263px,#02010a 269px,#040314 274px,#230c4c 280px,#1f0c48 284px)"></i><i style="top:16px;height:6px;background:linear-gradient(90deg,#010106 0px,#02010a 21px,#0a0723 23px,#330a5e 25px,#751b6e 28px,#7d1e6c 33px,#4c0c6b 36px,#090620 39px,#010108 42px,#090621 45px,#380962 47px,#791c6d 49px,#a92e5e 52px,#9f2a63 56px,#530e6d 59px,#310a5c 60px,#07051b 62px,#02020c 66px,#0f092b 68px,#460b69 70px,#9a2865 73px,#a92e5e 77px,#83206b 80px,#440a68 82px,#0d0829 84px,#010108 87px,#040415 89px,#2c0b58 91px,#59116e 92px,#b93656 94px,#ea632a 96px,#ef6d22 100px,#d74b3f 102px,#85206b 104px,#540f6d 105px,#0e0829 107px,#02020c 109px,#040314 111px,#10092d 112px,#2f0a5b 113px,#61146e 114px,#9d2964 115px,#d44842 116px,#f3761b 117px,#fb9c06 118px,#fbb91e 120px,#fca70c 123px,#f8870e 124px,#e45a32 125px,#791c6d 127px,#420a68 128px,#190c3e 129px,#07051b 130px,#02020c 133px,#160b39 135px,#3e0966 136px,#771c6d 137px,#b93556 138px,#ea632a 139px,#fb9906 140px,#f6d746 142px,#f6d543 145px,#fac228 146px,#fb9906 147px,#e9612b 148px,#b73557 149px,#751b6e 150px,#3e0966 151px,#160b39 152px,#02020c 154px,#07051b 157px,#180c3c 158px,#400a67 159px,#751b6e 160px,#df5337 162px,#fb9906 164px,#fcaa0f 167px,#f98e09 169px,#ed6925 170px,#cb4149 171px,#952667 172px,#5c126e 173px,#2b0b57 174px,#040312 176px,#02020c 179px,#120a31 181px,#2e0a5a 182px,#550f6d 183px,#bc3754 186px,#cf4446 190px,#be3853 192px,#59116e 195px,#320a5d 196px,#06051a 198px,#010108 202px,#120a32 205px,#470b6a 207px,#84206b 210px,#83206b 215px,#440a69 218px,#060419 221px,#010108 225px,#0d0829 228px,#470b6a 231px,#65156e 235px,#520e6d 239px,#2b0b56 241px,#040312 244px,#02020c 251px,#2f0a5b 257px,#2c0b58 263px,#02010a 269px,#050416 274px,#260c51 279px,#250c50 284px)"></i><i style="top:22px;height:6px;background:linear-gradient(90deg,#010106 0px,#02020c 21px,#0d0828 23px,#3b0964 25px,#7d1e6d 28px,#83206b 33px,#4c0c6b 36px,#08061f 39px,#010108 42px,#0a0723 45px,#3c0965 47px,#9a2865 50px,#b1325a 53px,#a52c60 56px,#540f6d 59px,#310a5c 60px,#07051b 62px,#010108 65px,#050417 67px,#270b53 69px,#4a0c6b 70px,#a02a62 73px,#b0315b 77px,#87216b 80px,#460b69 82px,#0e092a 84px,#02020c 86px,#050417 89px,#120a31 90px,#320a5e 91px,#61146e 92px,#c63e4d 94px,#f2741c 96px,#f78410 99px,#f0701f 101px,#bf3952 103px,#58106e 105px,#0e092b 107px,#02020c 109px,#040314 111px,#10092d 112px,#300a5c 113px,#63146e 114px,#9f2a63 115px,#d64b40 116px,#f47a18 117px,#fca108 118px,#fbbf24 120px,#fcac11 123px,#f98b0b 124px,#e65d2f 125px,#7a1d6d 127px,#440a68 128px,#190c3e 129px,#07051c 130px,#02020c 133px,#160b39 135px,#3e0966 136px,#771c6d 137px,#b93556 138px,#ea632a 139px,#fb9906 140px,#f6d746 142px,#f6d543 145px,#fac228 146px,#fb9906 147px,#e9612b 148px,#b73557 149px,#751b6e 150px,#3e0966 151px,#160b39 152px,#02020c 154px,#07051b 157px,#180c3c 158px,#400a67 159px,#751b6e 160px,#df5337 162px,#fb9906 164px,#fcaa0f 167px,#f98e09 169px,#ed6925 170px,#cb4149 171px,#952667 172px,#5c126e 173px,#2b0b57 174px,#040312 176px,#02020c 179px,#120a32 181px,#300a5b 182px,#58106e 183px,#c13a51 186px,#d44842 190px,#c33b4f 192px,#5d126e 195px,#340a5f 196px,#07051b 198px,#010108 202px,#07051b 204px,#490b6a 207px,#88226a 210px,#86216b 215px,#460b69 218px,#060419 221px,#010108 225px,#0c0827 228px,#440a68 231px,#61146e 235px,#500d6c 239px,#290b55 241px,#040312 244px,#02020d 251px,#310a5d 257px,#2e0a59 263px,#02010a 269px,#050417 274px,#2b0b57 279px,#2a0b56 284px)"></i><i style="top:28px;height:8px;background:linear-gradient(90deg,#010106 0px,#02020d 21px,#100a2e 23px,#440a68 25px,#86216b 28px,#89226a 33px,#4c0c6b 36px,#07051d 39px,#02010a 43px,#0c0825 45px,#420a68 47px,#a12b62 50px,#b93656 53px,#ab2f5e 56px,#560f6d 59px,#310a5d 60px,#07051b 62px,#010108 65px,#060418 67px,#2b0b57 69px,#721a6e 71px,#b33359 74px,#b2325a 78px,#6c186e 81px,#480b6a 82px,#0e092b 84px,#02020c 86px,#050417 89px,#130b34 90px,#350a60 91px,#65156e 92px,#cb4149 94px,#f47b17 96px,#f98b0b 99px,#f3761b 101px,#c13a51 103px,#58106e 105px,#0e092a 107px,#02020c 109px,#040314 111px,#10092d 112px,#2f0a5b 113px,#62146e 114px,#9e2964 115px,#d54941 116px,#f3771a 117px,#fb9e07 118px,#fbbb21 120px,#fca90e 123px,#f8890c 124px,#e55b31 125px,#791c6d 127px,#430a68 128px,#190c3e 129px,#07051c 130px,#02020c 133px,#160b39 135px,#3e0966 136px,#771c6d 137px,#b93556 138px,#ea632a 139px,#fb9906 140px,#f6d746 142px,#f6d543 145px,#fac228 146px,#fb9906 147px,#e9612b 148px,#b73557 149px,#751b6e 150px,#3e0966 151px,#160b39 152px,#02020c 154px,#07051b 157px,#180c3c 158px,#400a67 159px,#751b6e 160px,#df5337 162px,#fb9906 164px,#fcaa0f 167px,#f98e09 169px,#ed6925 170px,#cb4149 171px,#952667 172px,#5c126e 173px,#2b0b57 174px,#040312 176px,#02020c 179px,#140b34 181px,#320a5d 182px,#86216b 184px,#c73e4c 186px,#da4e3c 190px,#c9404b 192px,#8b236a 194px,#360961 196px,#07051b 198px,#010108 202px,#07051b 204px,#4b0c6b 207px,#8b2369 210px,#8a226a 215px,#480b6a 218px,#06051a 221px,#010108 225px,#0b0725 228px,#400a67 231px,#5e126e 235px,#4d0c6b 239px,#280b53 241px,#040312 244px,#010108 250px,#150b36 254px,#330a5f 257px,#2f0a5b 263px,#030210 268px,#03020f 273px,#310a5d 279px,#310a5c 284px)"></i><i style="top:36px;height:4px;background:linear-gradient(90deg,#010106 0px,#02020e 21px,#140b34 23px,#4b0c6b 25px,#8e2469 28px,#8e2469 33px,#4b0c6b 36px,#07051b 39px,#02010a 43px,#0d0829 45px,#470b6a 47px,#a82e5f 50px,#bf3952 53px,#b0315b 56px,#57106e 59px,#320a5e 60px,#07051b 62px,#010108 65px,#060419 67px,#2e0a5a 69px,#781c6d 71px,#b93656 74px,#b73557 78px,#902468 80px,#4a0c6b 82px,#0e092b 84px,#02020c 86px,#050417 89px,#330a5e 91px,#62146e 92px,#c53d4e 94px,#f0701f 96px,#f47918 100px,#dc503a 102px,#86216b 104px,#540f6d 105px,#0d0829 107px,#02010a 109px,#040314 111px,#0e092b 112px,#2d0b59 113px,#5e136e 114px,#982766 115px,#ce4447 116px,#ef6d22 117px,#fa9108 118px,#fcad12 120px,#fb9c06 123px,#df5437 125px,#741b6e 127px,#400a67 128px,#180c3c 129px,#02020e 131px,#060419 134px,#160b39 135px,#3e0966 136px,#771c6d 137px,#b83557 138px,#e9622b 139px,#fb9806 140px,#f6d543 142px,#f7d441 145px,#fac026 146px,#fb9706 147px,#e8602c 148px,#b63458 149px,#751b6e 150px,#3e0966 151px,#160b38 152px,#02020c 154px,#07051b 157px,#180c3c 158px,#400a67 159px,#751b6e 160px,#de5238 162px,#fb9806 164px,#fca80d 167px,#f98d0a 169px,#ed6925 170px,#cb414a 171px,#952667 172px,#5b126e 173px,#2b0b57 174px,#040312 176px,#02020c 179px,#140b34 181px,#340a5f 182px,#8a226a 184px,#cb4149 186px,#de5238 190px,#cd4347 192px,#8f2469 194px,#380962 196px,#07051b 198px,#010108 202px,#150b36 205px,#4d0c6b 207px,#8e2469 210px,#8e2469 215px,#4a0c6b 218px,#120a32 220px,#010108 223px,#040314 227px,#3d0965 231px,#5b116e 235px,#4a0c6b 239px,#260c51 241px,#040312 244px,#02010a 250px,#0c0826 253px,#350960 257px,#310a5c 263px,#030210 268px,#030210 273px,#370961 279px,#360961 284px)"></i><i style="top:40px;height:4px;background:linear-gradient(90deg,#010106 0px,#030210 21px,#160b39 23px,#510e6c 25px,#932667 28px,#912568 33px,#4a0c6b 36px,#120a32 38px,#010108 41px,#040314 44px,#250c50 46px,#4a0c6b 47px,#ad305d 50px,#c33c4f 53px,#b43359 56px,#58106e 59px,#320a5e 60px,#07051b 62px,#010108 65px,#060419 67px,#2f0a5b 69px,#791c6d 71px,#af315b 73px,#bf3952 77px,#902568 80px,#4a0c6b 82px,#0e092b 84px,#02020c 86px,#050417 89px,#320a5e 91px,#60136e 92px,#c13a51 94px,#ed6925 96px,#f1711f 100px,#d74b3f 102px,#821f6c 104px,#500d6c 105px,#0c0826 107px,#02010a 109px,#040314 111px,#0e092b 112px,#2b0b57 113px,#5b126e 114px,#942667 115px,#ca404a 116px,#ec6727 117px,#f8890c 118px,#fca40a 120px,#fa9307 123px,#db4f3b 125px,#711a6e 127px,#3e0966 128px,#170b3b 129px,#02020d 131px,#060419 134px,#150b38 135px,#3c0965 136px,#731a6e 137px,#b2325a 138px,#e45a32 139px,#f98c0a 140px,#f9c62e 142px,#f9c62e 145px,#f98b0b 147px,#e35833 148px,#b0315b 149px,#711a6e 150px,#3b0964 151px,#150b36 152px,#02020c 154px,#07051b 157px,#170c3b 158px,#3e0966 159px,#711a6e 160px,#d94d3d 162px,#f98e09 164px,#fb9d07 167px,#f78311 169px,#e9612b 170px,#8f2468 172px,#59106e 173px,#0d0829 175px,#02010a 177px,#060419 180px,#330a5e 182px,#88226a 184px,#ca404a 186px,#dc503a 190px,#cb4149 192px,#8d2369 194px,#370961 196px,#07051b 198px,#010108 201px,#08051d 204px,#2f0a5b 206px,#6b176e 208px,#972766 211px,#8f2468 215px,#4b0c6b 218px,#130b34 220px,#02020e 222px,#040314 227px,#3b0964 231px,#58106e 235px,#480b6a 239px,#150b37 242px,#02010a 245px,#050417 252px,#360961 257px,#310a5d 263px,#030210 268px,#030210 273px,#330a5e 278px,#390963 284px)"></i><i style="top:44px;height:4px;background:linear-gradient(90deg,#010106 0px,#030210 21px,#190c3e 23px,#360961 24px,#8a226a 27px,#a02a63 31px,#82206c 34px,#4a0c6b 36px,#120a31 38px,#02020e 40px,#050416 44px,#270b52 46px,#4d0c6c 47px,#b1325a 50px,#c63d4d 54px,#a02a63 57px,#59106e 59px,#320a5e 60px,#07051b 62px,#010108 65px,#07051b 67px,#300a5c 69px,#7a1d6d 71px,#bc3754 74px,#b93556 78px,#6f196e 81px,#490b6a 82px,#0e092b 84px,#02020c 86px,#050417 89px,#310a5c 91px,#5e126e 92px,#bc3754 94px,#e9622b 96px,#ed6925 100px,#d14644 102px,#7c1e6d 104px,#4d0c6b 105px,#0b0725 107px,#02010a 110px,#0e092a 112px,#59116e 114px,#902468 115px,#e8612c 117px,#fa9407 119px,#fb9706 122px,#f06e21 124px,#d64a40 125px,#6f196e 127px,#3c0965 128px,#160b39 129px,#02020c 131px,#060418 134px,#140b35 135px,#390963 136px,#6d186e 137px,#a92e5e 138px,#dd5139 139px,#f67e14 140px,#fca209 141px,#fbb91e 143px,#fcb318 145px,#fca108 146px,#f57d15 147px,#dc503b 148px,#a82e5f 149px,#6c186e 150px,#380962 151px,#130b34 152px,#02020c 154px,#06051a 157px,#160b39 158px,#3b0964 159px,#6d186e 160px,#d34743 162px,#f78211 164px,#fa9008 167px,#f47819 169px,#e45932 170px,#8a226a 172px,#550f6d 173px,#270b52 174px,#0d0828 175px,#02010a 177px,#060419 180px,#320a5d 182px,#86216b 184px,#c63d4d 186px,#d94d3d 190px,#c83f4c 192px,#8a226a 194px,#360961 196px,#07051b 198px,#010108 201px,#08051d 204px,#2f0a5b 206px,#6d186e 208px,#992865 211px,#912568 215px,#4c0c6b 218px,#140b34 220px,#02020e 222px,#040312 227px,#390963 231px,#560f6d 235px,#460b6a 239px,#140b34 242px,#02010a 245px,#02020e 251px,#380962 257px,#320a5e 263px,#030210 268px,#030210 273px,#360961 278px,#3c0965 284px)"></i><i style="top:48px;height:4px;background:linear-gradient(90deg,#010106 0px,#02010a 20px,#0a0723 22px,#3b0964 24px,#8f2468 27px,#a42c61 31px,#84206b 34px,#490b6a 36px,#110a2f 38px,#010108 41px,#050417 44px,#290b55 46px,#4f0d6c 47px,#b33359 50px,#c83f4c 54px,#a02a63 57px,#57106e 59px,#310a5c 60px,#06051a 62px,#010108 65px,#07051b 67px,#310a5c 69px,#7b1d6d 71px,#b1325a 73px,#bf3952 77px,#902568 80px,#490b6a 82px,#0d0829 84px,#010108 87px,#050417 89px,#300a5b 91px,#5b126e 92px,#b83557 94px,#e55b31 96px,#e9612b 100px,#cb4149 102px,#781c6d 104px,#490b6a 105px,#0b0724 107px,#02010a 109px,#040312 111px,#0d0829 112px,#56106d 114px,#8c2369 115px,#e55b31 117px,#f98b0b 119px,#fa8f09 122px,#ed6826 124px,#d24743 125px,#6c186e 127px,#3a0964 128px,#150b38 129px,#02020c 131px,#050417 134px,#130a33 135px,#360961 136px,#68166e 137px,#a22b62 138px,#d54941 139px,#fa9108 141px,#fca60c 144px,#fa9108 146px,#d44842 148px,#a02a62 149px,#66166e 150px,#340a5f 151px,#120a32 152px,#02020c 154px,#060419 157px,#150b37 158px,#380962 159px,#68166e 160px,#cb4149 162px,#f3761a 164px,#f57e14 168px,#dd5139 170px,#84206b 172px,#510e6d 173px,#0c0826 175px,#010108 178px,#060419 180px,#310a5c 182px,#83206b 184px,#c33b4f 186px,#d64a40 190px,#c53c4e 192px,#5d126e 195px,#340a5f 196px,#07051b 198px,#010108 201px,#08051d 204px,#310a5c 206px,#6e186e 208px,#9c2964 211px,#942667 215px,#4d0d6c 218px,#140b34 220px,#02020e 222px,#040312 227px,#460b69 232px,#530e6d 237px,#360961 240px,#040312 244px,#02010a 250px,#180c3c 254px,#390963 257px,#330a5e 263px,#030210 268px,#030311 273px,#390963 278px,#3f0a66 284px)"></i><i style="top:52px;height:4px;background:linear-gradient(90deg,#010106 0px,#02010a 20px,#0c0827 22px,#400a67 24px,#952666 27px,#a82e5f 31px,#85216b 34px,#490b6a 36px,#10092d 38px,#02020c 40px,#050417 44px,#2b0b57 46px,#520e6d 47px,#b63458 50px,#c9404b 54px,#b93556 56px,#57106e 59px,#310a5c 60px,#060419 62px,#010108 65px,#07051b 67px,#320a5d 69px,#7c1d6d 71px,#b1325a 73px,#c03a51 77px,#ab2f5e 79px,#490b6a 82px,#0d0829 84px,#010108 87px,#050417 89px,#2e0a5a 91px,#59116e 92px,#b3325a 94px,#e05536 96px,#e45a31 100px,#c53d4e 102px,#731a6e 104px,#460b69 105px,#0a0722 107px,#02010a 110px,#0d0828 112px,#540f6d 114px,#bc3754 116px,#f1721e 118px,#f8880d 121px,#f47a17 123px,#cd4248 125px,#69166e 127px,#380962 128px,#060419 130px,#02020c 133px,#120a31 135px,#320a5e 136px,#63146e 137px,#cc4248 139px,#f68112 141px,#fa9507 144px,#f68113 146px,#cb4149 148px,#61146e 150px,#310a5c 151px,#050416 153px,#02020c 156px,#140b34 158px,#350a60 159px,#64156e 160px,#c43c4e 162px,#ee6b23 164px,#f1721e 168px,#d64a40 170px,#7f1f6c 172px,#4d0d6c 173px,#0b0725 175px,#010108 178px,#060419 180px,#2f0a5b 182px,#57106e 183px,#bf3952 186px,#d24644 190px,#c13a51 192px,#5b126e 195px,#330a5e 196px,#07051b 198px,#010108 201px,#08051d 204px,#310a5c 206px,#6f196e 208px,#9e2a63 211px,#952666 215px,#4f0d6c 218px,#140b34 220px,#02020e 222px,#040312 227px,#430a68 232px,#500e6c 237px,#350a60 240px,#040312 244px,#02010a 250px,#0d0829 253px,#320a5e 256px,#3b0964 262px,#1b0c41 265px,#030210 268px,#040312 273px,#3c0965 278px,#430a68 284px)"></i><i style="top:56px;height:8px;background:linear-gradient(90deg,#010106 0px,#02020c 20px,#0f092c 22px,#490b6a 24px,#a02b62 27px,#b1325a 31px,#89226a 34px,#480b6a 36px,#0f092b 38px,#010108 41px,#060419 44px,#2e0a5a 46px,#7d1e6c 48px,#ba3655 50px,#cc4248 54px,#ba3655 56px,#56106d 59px,#2f0a5b 60px,#060419 62px,#010108 65px,#07051b 67px,#330a5e 69px,#7e1e6c 71px,#b33359 73px,#c03a51 77px,#ab2f5e 79px,#470b6a 82px,#0d0829 84px,#010108 87px,#050417 89px,#2d0b59 91px,#57106d 92px,#ca404a 95px,#e15635 98px,#d34842 101px,#992865 103px,#410a67 105px,#090620 107px,#02010a 110px,#0c0826 112px,#500e6c 114px,#b53458 116px,#ec6826 118px,#f57d15 121px,#f06f20 123px,#c63e4d 125px,#64156e 127px,#350a60 128px,#060419 130px,#02020c 133px,#10092e 135px,#2e0a5a 136px,#5c126e 137px,#c03a51 139px,#ef6e21 141px,#f67f14 144px,#ef6d22 146px,#bf3952 148px,#5a116e 150px,#2c0b58 151px,#040314 153px,#02020c 156px,#120a32 158px,#310a5d 159px,#5e126e 160px,#ba3655 162px,#e65e2e 164px,#ea632a 168px,#cc4248 170px,#771c6d 172px,#490b6a 173px,#0a0723 175px,#02010a 177px,#050418 180px,#2d0b59 182px,#540f6d 183px,#ba3655 186px,#cd4248 190px,#bc3754 192px,#58106e 195px,#310a5d 196px,#060419 198px,#02010a 202px,#08051d 204px,#320a5e 206px,#721a6e 208px,#a12b62 211px,#982865 215px,#500e6c 218px,#150b37 220px,#02020e 222px,#040312 227px,#340a5f 231px,#500e6c 235px,#430a68 239px,#040312 244px,#02010a 250px,#0e092a 253px,#340a5f 256px,#3d0965 262px,#1c0c43 265px,#030210 268px,#040312 273px,#410a67 278px,#480b6a 284px)"></i><i style="top:64px;height:8px;background:linear-gradient(90deg,#010106 0px,#02020e 20px,#140b36 22px,#320a5d 23px,#7c1d6d 25px,#b1325a 27px,#bf3952 31px,#a92e5e 33px,#480b6a 36px,#0d0829 38px,#010108 41px,#06051a 44px,#330a5e 46px,#83206b 48px,#bf3952 50px,#cf4446 54px,#bc3754 56px,#550f6d 59px,#2e0a59 60px,#060418 62px,#010108 65px,#07051d 67px,#350a60 69px,#801f6c 71px,#b53358 73px,#c13a50 77px,#ab2f5e 79px,#470b6a 82px,#0d0829 84px,#010108 87px,#050417 89px,#2e0a5a 91px,#58106e 92px,#ca404a 95px,#e15635 98px,#d34743 101px,#972766 103px,#400a67 105px,#09061f 107px,#02010a 110px,#0c0826 112px,#4e0d6c 114px,#b1325a 116px,#e9622b 118px,#f3761a 121px,#e05536 124px,#942667 126px,#62146e 127px,#340a5f 128px,#060419 130px,#02010b 133px,#10092d 135px,#59116e 137px,#bb3755 139px,#ec6627 141px,#f1721e 145px,#db4f3b 147px,#89226a 149px,#57106e 150px,#2b0b56 151px,#0e092b 152px,#02010a 154px,#050417 157px,#2f0a5a 159px,#5a116e 160px,#b33359 162px,#e05536 164px,#e45a31 168px,#c53d4e 170px,#731a6e 172px,#450a69 173px,#0a0722 175px,#010108 178px,#050417 180px,#2a0b56 182px,#500e6c 183px,#b2325a 186px,#c53d4e 190px,#b43359 192px,#540f6d 195px,#2e0a5a 196px,#060419 198px,#02010a 202px,#09061f 204px,#340a5f 206px,#751b6e 208px,#a62d60 211px,#9d2964 215px,#530e6d 218px,#310a5c 219px,#08051d 221px,#010108 224px,#090721 228px,#3d0965 231px,#5d126e 235px,#4e0d6c 239px,#2b0b56 241px,#040314 244px,#02010a 250px,#0f092c 253px,#360961 256px,#3f0966 262px,#1c0c43 265px,#02010a 269px,#040313 273px,#380962 277px,#540f6d 281px,#4e0d6c 284px)"></i><i style="top:72px;height:8px;background:linear-gradient(90deg,#010106 0px,#030210 20px,#1b0c42 22px,#3e0a65 23px,#8d2369 25px,#c13a51 27px,#cb4149 31px,#b2325a 33px,#470b6a 36px,#0c0827 38px,#010108 41px,#07051c 44px,#370961 46px,#89226a 48px,#c43c4f 50px,#d34743 54px,#be3853 56px,#540f6d 59px,#110a30 61px,#02020c 63px,#02020e 66px,#170c3b 68px,#370961 69px,#82206c 71px,#b63457 73px,#c23b50 77px,#902568 80px,#460b69 82px,#0c0826 84px,#010108 87px,#050418 89px,#300a5c 91px,#5b116e 92px,#cc4248 95px,#e15734 99px,#d34743 101px,#972766 103px,#3e0966 105px,#09061f 107px,#02010a 110px,#0b0725 112px,#4d0c6b 114px,#ae305c 116px,#e75e2e 118px,#f1711f 121px,#dd5139 124px,#922568 126px,#60136e 127px,#320a5e 128px,#050417 130px,#02010a 133px,#0e092b 135px,#2b0b56 136px,#57106d 137px,#b83557 139px,#e9622b 141px,#ef6d21 145px,#d84c3e 147px,#87216b 149px,#560f6d 150px,#0e092b 152px,#02010a 154px,#050417 157px,#2d0b58 159px,#57106d 160px,#cb4149 163px,#e25833 166px,#d54941 169px,#9b2965 171px,#430a68 173px,#0a0722 175px,#010108 178px,#050417 180px,#280b53 182px,#4d0c6b 183px,#ab2f5d 186px,#be3952 190px,#962766 193px,#510e6c 195px,#110a30 197px,#010108 200px,#09061f 204px,#360961 206px,#771c6d 208px,#a92e5f 211px,#a02a63 215px,#540f6d 218px,#320a5e 219px,#08051d 221px,#010108 224px,#040314 227px,#300a5b 230px,#64156e 233px,#65156e 238px,#350a60 241px,#050417 244px,#010108 249px,#07051c 252px,#3a0963 256px,#420a68 262px,#1e0c45 265px,#030210 268px,#02020c 272px,#170c3b 275px,#3d0965 277px,#5a116e 281px,#540f6d 284px)"></i><i style="top:80px;height:8px;background:linear-gradient(90deg,#010106 0px,#02010a 19px,#0d0828 21px,#4b0c6b 23px,#9f2a63 25px,#d04545 27px,#d74b3f 31px,#ba3655 33px,#6f196e 35px,#450a69 36px,#0a0723 38px,#010108 41px,#08061e 44px,#3b0964 46px,#8e2469 48px,#c83f4c 50px,#d64a40 54px,#c03a51 56px,#530e6d 59px,#10092e 61px,#02020c 63px,#03020f 66px,#180c3d 68px,#380962 69px,#84206b 71px,#b83556 73px,#c33c4f 77px,#ab2f5e 79px,#450a69 82px,#0c0826 84px,#010108 87px,#060419 89px,#320a5e 91px,#5d126e 92px,#b33359 94px,#dd5139 96px,#df5337 100px,#bc3754 102px,#69176e 104px,#3d0965 105px,#08061e 107px,#02010a 110px,#0b0724 112px,#4b0c6b 114px,#ab2f5e 116px,#e45a32 118px,#ee6a24 122px,#da4e3d 124px,#8f2469 126px,#5e126e 127px,#310a5d 128px,#050417 130px,#02010a 133px,#0e092b 135px,#550f6d 137px,#b43359 139px,#e65e2e 141px,#ed6925 145px,#d54941 147px,#84206b 149px,#540f6d 150px,#0e092b 152px,#02010a 154px,#050416 157px,#2a0b56 159px,#530f6d 160px,#c53d4e 163px,#dd513a 166px,#cf4446 169px,#962766 171px,#400a67 173px,#090620 175px,#010108 178px,#0f092d 181px,#4b0c6b 183px,#a82e5f 186px,#ba3655 190px,#932667 193px,#4f0d6c 195px,#110a30 197px,#02020c 199px,#030210 203px,#180c3c 205px,#350a60 206px,#761b6d 208px,#a72d5f 211px,#9e2a63 215px,#540f6d 218px,#320a5d 219px,#08051d 221px,#010108 224px,#050416 227px,#380962 230px,#711a6e 233px,#741a6e 238px,#3e0a66 241px,#06051a 244px,#010106 248px,#090620 252px,#440a68 256px,#500d6c 261px,#340a5f 264px,#030312 268px,#02020c 272px,#190c3d 275px,#400a67 277px,#5e126e 281px,#57106e 284px)"></i><i style="top:88px;height:8px;background:linear-gradient(90deg,#010106 0px,#02020c 19px,#110a30 21px,#2f0a5a 22px,#59116e 23px,#ce4347 26px,#e45a32 30px,#d74b40 32px,#9c2964 34px,#420a68 36px,#090621 38px,#010108 41px,#09061f 44px,#3e0966 46px,#912568 48px,#c9404b 50px,#d64a40 54px,#bf3952 56px,#500d6c 59px,#0f092c 61px,#02010b 63px,#030210 66px,#190c3e 68px,#390963 69px,#84206b 71px,#b73557 73px,#c23b50 77px,#a92e5e 79px,#430a68 82px,#0b0725 84px,#010109 87px,#060419 89px,#340a5f 91px,#5f136e 92px,#b53458 94px,#de5338 96px,#e05536 100px,#bc3754 102px,#69166e 104px,#3d0965 105px,#08051d 107px,#02010a 110px,#0b0724 112px,#4a0c6b 114px,#a82d5f 116px,#e15635 118px,#eb6528 122px,#d74b40 124px,#8c2369 126px,#5c126e 127px,#300a5c 128px,#050417 130px,#02010a 133px,#0e092b 135px,#530f6d 137px,#b1325a 139px,#e45932 141px,#ea6429 145px,#d24644 147px,#821f6c 149px,#520e6d 150px,#0d0829 152px,#010108 155px,#040314 157px,#280b54 159px,#500e6c 160px,#bf3952 163px,#d74b3f 166px,#c93f4b 169px,#902568 171px,#3d0965 173px,#09061f 175px,#010108 178px,#0e092b 181px,#4a0b6b 183px,#a52c60 186px,#b73557 190px,#902568 193px,#4d0d6c 195px,#110a30 197px,#02020c 199px,#030210 203px,#180c3c 205px,#340a5f 206px,#751b6e 208px,#a52d60 211px,#9c2964 215px,#520e6d 218px,#310a5c 219px,#08051d 221px,#010108 224px,#050417 227px,#3e0966 230px,#7e1e6c 233px,#821f6c 238px,#480b6a 241px,#07051c 244px,#010106 248px,#0b0724 252px,#3e0a66 255px,#5c126e 259px,#4c0c6b 263px,#280b53 265px,#040312 268px,#02020c 272px,#1a0c3f 275px,#430a68 277px,#62146e 281px,#5b116e 284px)"></i><i style="top:96px;height:8px;background:linear-gradient(90deg,#010106 0px,#02020e 19px,#170b3a 21px,#3a0963 22px,#972766 24px,#da4e3c 26px,#eb6627 29px,#dc503a 32px,#9c2964 34px,#3f0966 36px,#08061e 38px,#010108 41px,#09061f 44px,#3d0965 46px,#8c2369 48px,#c03a51 50px,#cc4149 54px,#b33359 56px,#480b6a 59px,#0d0827 61px,#010108 64px,#09061f 67px,#370961 69px,#7f1f6c 71px,#b83556 74px,#b1325a 78px,#62146e 81px,#3e0966 82px,#0a0723 84px,#02010a 87px,#07051b 89px,#350960 91px,#8e2469 93px,#d04545 95px,#e25833 99px,#d24743 101px,#932667 103px,#3a0964 105px,#07051d 107px,#02010a 110px,#0a0723 112px,#470b6a 114px,#a32b61 116px,#dc503a 118px,#e75e2e 122px,#d14644 124px,#88226a 126px,#59116e 127px,#2e0a5a 128px,#050417 130px,#02010a 133px,#0e0829 135px,#510e6c 137px,#ac2f5d 139px,#df5437 141px,#e65d2f 145px,#cc4249 147px,#7d1e6c 149px,#4f0d6c 150px,#0d0828 152px,#02010a 154px,#040314 157px,#260c51 159px,#4c0c6b 160px,#b73557 163px,#cf4446 166px,#c13a50 169px,#62146e 172px,#3a0963 173px,#08061e 175px,#010108 178px,#040315 180px,#250c4f 182px,#480b6a 183px,#a22b62 186px,#b43359 190px,#8d2469 193px,#4c0c6b 195px,#10092d 197px,#02020c 199px,#030210 203px,#170b3a 205px,#330a5e 206px,#731a6e 208px,#a32c61 211px,#9b2865 215px,#510e6d 218px,#300a5c 219px,#08051d 221px,#010108 224px,#050417 227px,#250c4f 229px,#60136e 231px,#922568 234px,#8d2469 238px,#500d6c 241px,#170c3b 243px,#030210 245px,#02020c 250px,#1c0c43 253px,#470b6a 255px,#65156e 258px,#540f6d 263px,#2d0b59 265px,#040314 268px,#02020c 272px,#1b0c41 275px,#460b69 277px,#65156e 281px,#5e136e 284px)"></i><i style="top:104px;height:6px;background:linear-gradient(90deg,#010106 0px,#02020e 19px,#190c3e 21px,#3d0965 22px,#972766 24px,#d54a40 26px,#e45a31 30px,#d24644 32px,#8e2469 34px,#350a60 36px,#06051a 38px,#02010a 42px,#09061f 44px,#3b0964 46px,#86216b 48px,#b73557 50px,#c13a51 54px,#a72d5f 56px,#410a67 59px,#0b0724 61px,#010108 64px,#09061f 67px,#350960 69px,#7a1d6d 71px,#b0315b 74px,#a92e5f 78px,#5d126e 81px,#390963 82px,#090621 84px,#02010a 87px,#060419 89px,#310a5d 91px,#84206b 93px,#c33c4f 95px,#d64a40 99px,#c43c4e 101px,#5d126e 104px,#340a5f 105px,#07051b 107px,#02010a 110px,#090621 112px,#400a67 114px,#952667 116px,#cd4248 118px,#d94d3d 122px,#c23b50 124px,#510e6c 127px,#0f092c 129px,#02020c 131px,#040312 134px,#220c4c 136px,#490b6a 137px,#9d2964 139px,#d04545 141px,#d84c3e 145px,#bc3854 147px,#731a6e 149px,#480b6a 150px,#0c0826 152px,#010108 155px,#0d0828 158px,#470b6a 160px,#ac2f5d 163px,#c43c4f 166px,#b63458 169px,#5c126e 172px,#360960 173px,#08051d 175px,#010108 178px,#040314 180px,#240c4f 182px,#470b6a 183px,#9f2a63 186px,#b1325a 190px,#8b236a 193px,#4a0c6b 195px,#10092d 197px,#02020c 199px,#030210 203px,#160b39 205px,#320a5e 206px,#721a6e 208px,#a12b62 211px,#992865 215px,#510e6c 218px,#150b37 220px,#02020e 222px,#02020c 226px,#0f092b 228px,#400a67 230px,#85216b 233px,#8a226a 238px,#4e0d6c 241px,#09061f 244px,#010106 248px,#050417 251px,#350a60 254px,#65156e 257px,#62146e 262px,#2f0a5a 265px,#040314 268px,#02020c 272px,#1c0c43 275px,#480b6a 277px,#67166e 280px,#61146e 284px)"></i><i style="top:110px;height:6px;background:linear-gradient(90deg,#010106 0px,#030210 19px,#1b0c41 21px,#3e0966 22px,#922568 24px,#cc4149 26px,#d84d3e 30px,#c23b50 32px,#530e6d 35px,#10092d 37px,#02020c 39px,#030210 43px,#190c3f 45px,#3a0963 46px,#811f6c 48px,#b83556 51px,#af315b 55px,#60136e 58px,#3b0964 59px,#0a0722 61px,#010108 64px,#09061f 67px,#340a5f 69px,#761b6e 71px,#a92e5e 74px,#a12b62 78px,#58106e 81px,#360960 82px,#09061f 84px,#02010a 87px,#060419 89px,#2d0b59 91px,#540f6d 92px,#b53458 95px,#c73e4c 99px,#9d2964 102px,#540f6d 104px,#2e0a5a 105px,#060419 107px,#02010a 110px,#09061f 112px,#3a0963 114px,#88226a 116px,#bd3853 118px,#c93f4b 122px,#b2325a 124px,#490b6a 127px,#0e0829 129px,#010109 132px,#0b0724 135px,#420a68 137px,#8f2469 139px,#c03a51 141px,#c83f4c 145px,#ac305d 147px,#68166e 149px,#410a67 150px,#0a0723 152px,#010108 155px,#0c0826 158px,#420a68 160px,#a12b62 163px,#b93556 166px,#ab2f5e 169px,#560f6d 172px,#310a5d 173px,#07051b 175px,#010108 178px,#040314 180px,#230c4e 182px,#450a69 183px,#9c2964 186px,#af315c 190px,#89226a 193px,#490b6a 195px,#10092d 197px,#02020c 199px,#030210 203px,#160b39 205px,#320a5e 206px,#71196e 208px,#a02a63 211px,#972766 215px,#4f0d6c 218px,#07051b 221px,#010108 225px,#0d0829 228px,#3d0965 230px,#801f6c 233px,#85216b 238px,#4c0c6b 241px,#09061f 244px,#010106 248px,#040415 251px,#400a66 255px,#5b116e 259px,#4a0c6a 263px,#250c50 265px,#030312 268px,#02020c 272px,#1d0c45 275px,#4a0c6b 277px,#6a176e 280px,#63146e 284px)"></i><i style="top:116px;height:6px;background:linear-gradient(90deg,#010106 0px,#030210 19px,#1b0c41 21px,#3e0966 22px,#8c2369 24px,#c03951 26px,#ca414a 30px,#b1325a 32px,#470b6a 35px,#0d0827 37px,#010108 40px,#030312 43px,#190c3e 45px,#380962 46px,#7b1d6d 48px,#af315c 51px,#a52d60 55px,#59106e 58px,#360961 59px,#09061f 61px,#01010a 64px,#09061f 67px,#320a5d 69px,#721a6e 71px,#a22b62 74px,#9a2865 78px,#530e6d 81px,#320a5e 82px,#09061f 84px,#02010b 87px,#060419 89px,#2a0b55 91px,#711a6e 93px,#b33359 96px,#b2325a 100px,#6f196e 103px,#290b54 105px,#060419 107px,#02010b 110px,#08061e 112px,#330a5f 114px,#7a1d6d 116px,#b53458 119px,#b1325a 123px,#66156e 126px,#420a68 127px,#0c0827 129px,#02010a 132px,#0a0722 135px,#3b0964 137px,#811f6c 139px,#b63458 142px,#ae305c 146px,#5e126e 149px,#390963 150px,#090621 152px,#010109 155px,#0b0724 158px,#3d0965 160px,#972766 163px,#ad305d 167px,#8c2369 170px,#4f0d6c 172px,#130b34 174px,#02020e 176px,#040314 180px,#230c4c 182px,#440a69 183px,#9a2865 186px,#ac2f5d 190px,#86216b 193px,#480b6a 195px,#0f092d 197px,#010108 200px,#08051d 204px,#310a5c 206px,#70196e 208px,#9e2a63 211px,#952667 215px,#4f0d6c 218px,#140b35 220px,#02020e 222px,#02020c 226px,#0c0827 228px,#390963 230px,#7a1d6d 233px,#7f1f6c 238px,#490b6a 241px,#08061e 244px,#010106 248px,#090621 252px,#3e0a66 256px,#440a68 262px,#1c0c43 265px,#03020f 268px,#02020c 272px,#1e0c45 275px,#4c0c6b 277px,#6c186e 280px,#66156e 284px)"></i><i style="top:122px;height:2px;background:linear-gradient(90deg,#010106 0px,#030210 19px,#1a0c3f 21px,#390963 22px,#7f1e6c 24px,#b53458 27px,#ad305c 31px,#5e136e 34px,#3a0963 35px,#0a0723 37px,#010109 40px,#090621 44px,#330a5e 46px,#711a6e 48px,#9f2a63 51px,#962766 55px,#500d6c 58px,#160b38 60px,#030210 62px,#040312 66px,#140b36 68px,#4b0c6b 70px,#8b236a 73px,#8b236a 78px,#4b0c6b 81px,#140b36 83px,#02020c 86px,#060419 89px,#240c4f 91px,#440a69 92px,#922568 95px,#a12b62 99px,#7c1e6d 102px,#410a67 104px,#0e092a 106px,#02020c 109px,#07051c 112px,#2b0b57 114px,#6a176e 116px,#9e2a63 119px,#9a2865 123px,#59106e 126px,#380962 127px,#0b0724 129px,#02010a 132px,#09061f 135px,#310a5d 137px,#70196e 139px,#9f2a63 142px,#972766 146px,#510e6c 149px,#160b38 151px,#030210 153px,#040312 157px,#190c3e 159px,#350a60 160px,#85216b 163px,#992865 167px,#7c1e6d 170px,#460b69 172px,#100a2e 174px,#02010a 177px,#040314 180px,#1f0c47 182px,#3d0965 183px,#8c2369 186px,#9b2964 190px,#791c6d 193px,#3f0a66 195px,#0e092a 197px,#010108 200px,#07051c 204px,#480b6a 207px,#86216b 210px,#85216b 215px,#450b69 218px,#06051a 221px,#010108 225px,#0a0723 228px,#490b6a 231px,#731a6e 234px,#68166e 239px,#410a67 241px,#07051c 244px,#010106 248px,#08051d 252px,#340a5f 256px,#380962 262px,#02020e 268px,#02020c 272px,#190c3e 275px,#420a68 277px,#61136e 281px,#59116e 284px)"></i><i style="top:124px;height:2px;background:linear-gradient(90deg,#010106 0px,#030210 19px,#160b39 21px,#510e6d 23px,#972766 26px,#972766 31px,#510e6c 34px,#160b38 36px,#030210 38px,#030311 43px,#160b38 45px,#4b0c6b 47px,#88226a 50px,#86216b 55px,#460b69 58px,#07051c 61px,#02020c 65px,#120a31 68px,#410a67 70px,#7a1d6d 73px,#791c6d 78px,#3f0a66 81px,#07051c 84px,#030210 88px,#0e092a 90px,#3a0963 92px,#7f1e6c 95px,#88226a 100px,#520e6d 103px,#1c0c43 105px,#02020e 108px,#07051b 112px,#410a67 115px,#811f6c 118px,#84206b 123px,#4c0c6b 126px,#090621 129px,#02010b 132px,#08051d 135px,#460b69 138px,#82206c 141px,#82206c 146px,#450b69 149px,#07051c 152px,#02010a 155px,#08061e 158px,#480b6a 161px,#7f1e6c 164px,#7a1d6d 169px,#3b0964 172px,#050417 175px,#02020c 179px,#0a0723 181px,#330a5e 183px,#781c6d 186px,#83206b 191px,#510e6c 194px,#1b0c41 196px,#040313 198px,#02020e 203px,#0f092c 205px,#3b0964 207px,#70196e 210px,#70196e 215px,#380962 218px,#050417 221px,#02010a 226px,#140b36 229px,#3e0965 231px,#62146e 234px,#58106e 239px,#360a60 241px,#06051a 244px,#010108 249px,#0f092c 253px,#350a60 257px,#2a0b56 263px,#02020e 268px,#040312 273px,#3f0a66 278px,#470b69 284px)"></i><i style="top:126px;height:2px;background:linear-gradient(90deg,#010107 0px,#030210 19px,#130a33 21px,#460b69 23px,#82206c 26px,#801f6c 31px,#440a68 34px,#07051b 37px,#02020c 42px,#130a33 45px,#420a68 47px,#781c6d 50px,#771c6d 55px,#3d0965 58px,#07051b 61px,#02020d 65px,#10092d 68px,#380962 70px,#69176e 73px,#69166e 78px,#360960 81px,#07051b 84px,#030210 88px,#1a0c3f 91px,#490b6a 93px,#741a6e 96px,#69176e 101px,#2d0b59 104px,#050417 107px,#030311 111px,#1e0c45 114px,#4d0d6c 116px,#741a6e 119px,#66166e 124px,#3f0a66 126px,#09061f 129px,#02020d 133px,#100a2e 136px,#3a0963 138px,#6e186e 141px,#6e186e 146px,#380962 149px,#06051a 152px,#02020c 156px,#120a31 159px,#3c0964 161px,#6c186e 164px,#68166e 169px,#310a5c 172px,#040314 175px,#040312 180px,#290b55 183px,#57106d 185px,#721a6e 189px,#58106e 193px,#2b0b57 195px,#040312 198px,#02020e 203px,#190c3e 206px,#420a68 208px,#61136e 212px,#500d6c 216px,#2b0b57 218px,#040314 221px,#02010a 226px,#100a2e 229px,#420a68 232px,#530f6d 237px,#2a0b56 241px,#050417 244px,#02010a 250px,#2f0a5a 257px,#260c51 263px,#02020c 268px,#030210 273px,#340a5f 279px,#330a5e 284px)"></i><i style="top:128px;height:2px;background:linear-gradient(90deg,#03020f 0px,#040314 19px,#270b52 22px,#57106d 24px,#791c6d 27px,#731a6e 31px,#3d0965 34px,#09061f 37px,#030210 42px,#140b36 45px,#400a67 47px,#711a6e 50px,#6f196e 55px,#3a0964 58px,#09061f 61px,#050417 66px,#220c4b 69px,#4b0c6b 71px,#68166e 74px,#59106e 79px,#340a5f 81px,#09061f 84px,#040314 88px,#1a0c3f 91px,#440a68 93px,#69176e 96px,#61146e 101px,#2a0b56 104px,#06051a 107px,#08051d 112px,#320a5e 115px,#64156e 118px,#66166e 123px,#3b0964 126px,#0a0722 129px,#030311 133px,#110a30 136px,#4a0c6b 139px,#6a176e 143px,#59116e 147px,#340a5f 149px,#07051c 152px,#040314 157px,#230c4c 160px,#4c0c6b 162px,#67166e 166px,#530e6d 170px,#2d0b59 172px,#050418 175px,#050416 180px,#260c51 183px,#5c126e 186px,#64156e 191px,#3e0966 194px,#0a0722 197px,#02010b 201px,#050418 204px,#3a0964 208px,#530e6d 212px,#440a68 216px,#040314 221px,#02020c 226px,#0e092b 229px,#360960 232px,#420a68 238px,#230c4c 241px,#050417 244px,#02020d 250px,#280b53 257px,#1f0c48 263px,#02020e 268px,#050417 274px,#230c4c 279px,#220c4b 284px)"></i><i style="top:130px;height:2px;background:linear-gradient(90deg,#07051c 0px,#0a0722 12px,#07051b 19px,#260c51 22px,#60136e 25px,#6f196e 30px,#500d6c 33px,#0d0829 37px,#060419 42px,#180c3d 45px,#530e6d 48px,#711a6e 52px,#5f136e 56px,#3b0964 58px,#0c0826 61px,#07051b 65px,#180c3c 68px,#4d0d6c 71px,#69166e 75px,#59106e 79px,#230c4e 82px,#09061f 85px,#0b0724 89px,#450a69 93px,#69176e 97px,#5f136e 101px,#2e0a5a 104px,#0a0722 107px,#08051d 111px,#220c4b 114px,#57106e 117px,#67166e 122px,#3c0965 126px,#08051d 130px,#07051c 134px,#230c4e 137px,#58106e 140px,#65156e 145px,#360961 149px,#0b0724 152px,#050416 156px,#160b38 159px,#4b0c6b 162px,#65156e 166px,#520e6d 170px,#300a5b 172px,#08061e 175px,#040314 179px,#170b3b 182px,#4d0c6b 185px,#63146e 189px,#4d0d6c 193px,#170b3b 196px,#040313 199px,#08061e 204px,#440a68 209px,#480b6a 215px,#230c4c 218px,#050418 221px,#040314 227px,#350a60 233px,#310a5d 239px,#030210 245px,#040314 251px,#230c4c 258px,#190c3e 263px,#02020c 269px,#07051c 275px,#170b3b 281px,#140b36 284px)"></i><i style="top:132px;height:2px;background:linear-gradient(90deg,#0e092a 0px,#180c3c 9px,#0b0724 19px,#370961 23px,#61146e 27px,#58106e 32px,#290b55 35px,#0b0724 39px,#120a32 44px,#4d0c6b 48px,#65156e 52px,#56106d 56px,#270b52 59px,#0d0827 62px,#0f092c 66px,#3e0966 70px,#66166e 74px,#58106e 79px,#290b55 82px,#0b0725 86px,#180c3c 90px,#450a69 93px,#66166e 97px,#520e6d 102px,#230c4e 105px,#0d0827 108px,#120a31 112px,#470b6a 116px,#65156e 120px,#4d0d6c 125px,#0e092a 130px,#0c0826 134px,#380962 138px,#61146e 142px,#550f6d 147px,#280b53 150px,#0b0724 153px,#0b0724 157px,#480b6a 162px,#61136e 166px,#500d6c 170px,#210c4a 173px,#08061e 176px,#0a0722 180px,#480b6a 185px,#5d126e 190px,#3d0965 194px,#0a0723 198px,#08051d 203px,#430a68 209px,#460b69 215px,#250c50 218px,#050417 222px,#09061f 228px,#2e0a5a 234px,#1f0c48 240px,#040313 245px,#08051d 252px,#1b0c41 258px,#0a0723 265px,#02020e 271px,#0b0724 283px,#0a0722 284px)"></i><i style="top:134px;height:2px;background:linear-gradient(90deg,#160b38 0px,#220c4b 9px,#120a31 19px,#460b69 25px,#510e6c 31px,#220c4b 36px,#100a2f 41px,#1f0c47 45px,#4b0c6b 49px,#510e6c 55px,#1f0c48 60px,#140b35 64px,#310a5d 69px,#61146e 75px,#3e0966 81px,#160b38 86px,#220c4b 90px,#550f6d 95px,#5d126e 100px,#2d0b59 105px,#140b36 110px,#430a68 116px,#60136e 121px,#330a5e 127px,#120a32 132px,#2a0b56 137px,#5c126e 143px,#450a69 148px,#110a30 154px,#180c3c 158px,#4a0c6b 163px,#56106d 168px,#280b53 173px,#0d0829 178px,#1f0c47 182px,#4a0c6b 186px,#520e6d 191px,#230c4c 196px,#0b0724 200px,#190c3e 205px,#440a69 210px,#410a67 215px,#08061e 223px,#0d0829 229px,#230c4c 235px,#130a33 241px,#040314 247px,#120a31 260px,#040312 271px,#07051b 284px)"></i><i style="top:136px;height:2px;background:linear-gradient(90deg,#1d0c44 0px,#230c4e 11px,#1f0c48 21px,#3e0a65 30px,#1b0c41 42px,#400a66 53px,#200c49 64px,#4d0d6b 77px,#250c50 88px,#4e0d6c 99px,#240c4d 111px,#4d0c6b 122px,#210c4a 134px,#480b6a 145px,#1d0c44 156px,#450b69 167px,#190c3e 179px,#420a67 190px,#160b39 202px,#390a63 213px,#0a0723 227px,#150b37 237px,#07051c 250px,#08051d 265px,#07051b 284px)"></i><i style="top:138px;height:2px;background:linear-gradient(90deg,#240c4f 0px,#360960 72px,#2e0a5a 136px,#240c4f 182px,#240c4d 202px,#1f0c48 221px,#0c0826 230px,#08051d 284px)"></i><i style="top:140px;height:4px;background:linear-gradient(90deg,#2c0b57 0px,#250c50 9px,#310a5c 21px,#270b52 32px,#320a5d 44px,#290b55 55px,#410a67 66px,#320a5d 77px,#4d0d6b 88px,#300a5b 99px,#4b0c6b 111px,#2d0b59 122px,#4a0c6a 133px,#280b53 144px,#450b68 156px,#230c4c 167px,#3e0a65 179px,#1e0c46 190px,#380a61 202px,#1a0c3f 213px,#260c51 223px,#0b0725 233px,#0a0723 252px,#06051a 278px,#07051c 284px)"></i><i style="top:144px;height:4px;background:linear-gradient(90deg,#340a5f 0px,#1e0c45 8px,#3f0a66 18px,#200c48 31px,#420a68 41px,#250c4f 54px,#500d6c 64px,#280b53 76px,#5e126e 86px,#400a67 93px,#2a0b55 99px,#5f136e 109px,#3d0965 116px,#290b54 122px,#5b126e 131px,#490c6a 137px,#230c4e 143px,#480b6a 150px,#530f6d 157px,#1d0c45 166px,#510e6c 176px,#390963 183px,#180c3c 189px,#4b0c6b 199px,#310a5c 206px,#120a32 212px,#310a5d 222px,#1a0c3f 229px,#0b0725 236px,#110a30 249px,#09061f 261px,#0c0826 273px,#060519 284px)"></i><i style="top:148px;height:4px;background:linear-gradient(90deg,#370961 0px,#210c4b 8px,#400a67 20px,#240c4e 31px,#440a68 43px,#2c0b58 54px,#530f6d 64px,#300a5b 76px,#64156e 87px,#340a5f 99px,#66156e 110px,#340a5f 122px,#64156e 133px,#300a5b 144px,#5f136e 156px,#2a0b55 167px,#5a116e 178px,#290b54 187px,#2a0b55 192px,#530e6d 201px,#2c0b57 208px,#180c3c 214px,#360961 225px,#0f092d 237px,#130a33 250px,#0a0723 261px,#0c0826 274px,#07051b 284px)"></i><i style="top:152px;height:2px;background:linear-gradient(90deg,#360961 0px,#310a5c 12px,#390963 22px,#340a5f 35px,#3d0965 46px,#400a67 56px,#4d0c6b 66px,#410a67 77px,#5e136e 89px,#490b6a 101px,#63146e 111px,#480b6a 123px,#61146e 134px,#460b69 146px,#5d126e 157px,#420a68 169px,#57106e 180px,#390963 191px,#510e6c 202px,#210c4a 216px,#370961 227px,#160b38 239px,#0e092a 256px,#090621 278px,#08061e 284px)"></i><i style="top:154px;height:2px;background:linear-gradient(90deg,#360961 0px,#430a68 53px,#57106d 85px,#550f6d 144px,#4e0d6c 170px,#4c0c6b 189px,#430a68 209px,#270b52 219px,#370961 230px,#170b3b 243px,#09061f 284px)"></i><i style="top:156px;height:4px;background:linear-gradient(90deg,#350960 0px,#350a60 12px,#3e0965 26px,#3d0965 45px,#4e0d6c 56px,#460b6a 68px,#560f6d 79px,#56106d 90px,#65156e 100px,#550f6d 111px,#6b176e 122px,#56106d 134px,#69176e 145px,#530e6d 156px,#66166e 168px,#500e6c 179px,#61136e 191px,#480b6a 202px,#460b69 213px,#2c0b57 222px,#3c0a65 233px,#160b38 246px,#0d0827 267px,#0a0723 284px)"></i><i style="top:160px;height:4px;background:linear-gradient(90deg,#340a5f 0px,#460b69 9px,#290b54 19px,#4b0c6b 31px,#2f0a5b 42px,#5c126e 53px,#3a0963 65px,#65156e 76px,#450a69 88px,#781c6d 98px,#490b6a 110px,#7c1e6d 121px,#4b0c6b 132px,#7e1e6c 144px,#4b0c6b 155px,#7e1e6c 166px,#4c0c6b 178px,#7d1e6d 189px,#450a69 201px,#5d126e 212px,#2f0a5b 224px,#460b69 235px,#160b38 247px,#160b39 261px,#0b0725 272px,#0d0829 284px)"></i><i style="top:164px;height:4px;background:linear-gradient(90deg,#350a60 0px,#480b6a 9px,#2c0b58 20px,#4d0c6b 31px,#320a5d 42px,#5d126e 53px,#3c0965 65px,#66156e 76px,#430a68 87px,#7a1d6d 98px,#4b0c6b 110px,#7e1e6c 121px,#4e0d6c 133px,#801f6c 144px,#510e6c 156px,#84206b 167px,#540f6d 178px,#86216b 189px,#4d0c6c 202px,#64156e 214px,#350a60 226px,#4a0c6b 236px,#210c4b 244px,#1b0c41 252px,#140b34 263px,#0d0829 274px,#0e092a 284px)"></i><i style="top:168px;height:4px;background:linear-gradient(90deg,#380962 0px,#3c0965 13px,#3f0a66 26px,#490b6a 46px,#4d0c6b 56px,#4f0d6c 68px,#57106d 78px,#560f6d 90px,#6a176e 101px,#5c126e 113px,#6f196e 123px,#5f136e 136px,#721a6e 146px,#61146e 158px,#761b6d 169px,#68166e 181px,#781c6d 192px,#530e6d 206px,#5f136e 217px,#380962 229px,#400a67 240px,#1a0c3f 252px,#0f092c 279px,#0c0827 284px)"></i><i style="top:172px;height:2px;background:linear-gradient(90deg,#390963 0px,#470b6a 39px,#5e136e 101px,#5f136e 137px,#63146e 160px,#6c186e 181px,#61146e 201px,#500d6c 210px,#550f6d 221px,#320a5e 232px,#380962 244px,#160b38 255px,#0b0724 284px)"></i><i style="top:174px;height:4px;background:linear-gradient(90deg,#3a0963 0px,#3e0966 15px,#3d0965 35px,#430a68 47px,#420a68 58px,#490b6a 69px,#480b6a 81px,#4f0d6c 92px,#500d6c 102px,#5b116e 112px,#4d0d6b 123px,#5f136e 134px,#4f0d6c 146px,#60136e 157px,#540f6d 169px,#64156e 180px,#57106d 192px,#530e6d 203px,#470b69 214px,#3c0965 226px,#2a0b56 236px,#260c50 248px,#110a30 259px,#090620 284px)"></i><i style="top:178px;height:2px;background:linear-gradient(90deg,#4d0c6b 0px,#510e6c 141px,#510e6d 188px,#390963 227px,#0f092c 284px)"></i><i style="top:180px;height:2px;background:linear-gradient(90deg,#430a68 0px,#3e0a66 207px,#0d0829 284px)"></i><i style="top:182px;height:4px;background:linear-gradient(90deg,#2b0b57 0px,#240c4e 211px,#07051b 284px)"></i><i style="top:186px;height:4px;background:linear-gradient(90deg,#260c51 0px,#170b3a 211px,#050417 284px)"></i><i style="top:190px;height:8px;background:linear-gradient(90deg,#240c4e 0px,#08051d 247px,#040313 284px)"></i><i style="top:198px;height:14px;background:linear-gradient(90deg,#1f0c48 0px,#02020e 284px)"></i><i style="top:212px;height:2px;background:linear-gradient(90deg,#0f092c 0px,#02020c 284px)"></i><i style="top:214px;height:4px;background:#010107"></i></div><div class="hm" style="left:856px;top:107px;width:285px;height:218px"><i style="top:0px;height:4px;background:linear-gradient(90deg,#010106 0px,#050417 7px,#330a5e 14px,#340a5f 24px,#02020c 33px,#030311 40px,#2c0b57 45px,#61136e 50px,#5f136e 58px,#360961 62px,#050417 67px,#030210 71px,#180c3c 74px,#440a68 76px,#a52c60 80px,#cd4248 84px,#c53d4e 90px,#801f6c 94px,#340a5f 97px,#08051d 100px,#030312 103px,#190c3e 106px,#4f0d6c 108px,#9b2865 110px,#e35833 112px,#fca209 114px,#f2e55f 117px,#f1ef75 120px,#f2e763 123px,#fca70c 126px,#f78410 127px,#c93f4b 129px,#7a1d6d 131px,#360961 133px,#0e092b 135px,#06051a 138px,#250c50 141px,#560f6d 143px,#b2325a 147px,#ce4447 151px,#bf3952 157px,#540f6d 162px,#130a33 165px,#02010a 169px,#07051c 174px,#3c0965 180px,#4d0d6c 188px,#290b54 194px,#02020e 200px,#030312 207px,#340a5f 215px,#340a5f 225px,#02020c 234px,#030210 245px,#2d0b59 254px,#270b52 263px,#02020c 272px,#0d0828 275px,#340a5f 277px,#67166e 280px,#6b176e 284px)"></i><i style="top:4px;height:4px;background:linear-gradient(90deg,#010106 0px,#060419 7px,#340a5f 14px,#330a5e 24px,#02020c 33px,#040312 40px,#2e0a5a 45px,#64156e 51px,#550f6d 59px,#240c4f 63px,#040314 67px,#030210 71px,#190c3e 74px,#450a69 76px,#a52c60 80px,#cb4149 84px,#c23b50 90px,#7c1d6d 94px,#310a5c 97px,#07051c 100px,#060418 104px,#2f0a5b 107px,#71196e 109px,#bf3952 111px,#f47819 113px,#fb9c06 114px,#f4de51 117px,#f2e763 121px,#f7d23e 124px,#fca209 126px,#e45a31 128px,#771c6d 131px,#340a5f 133px,#07051c 136px,#090621 139px,#380962 142px,#83206b 145px,#c43c4e 149px,#c63d4d 156px,#89226a 160px,#3e0966 163px,#0a0723 166px,#02010a 170px,#0a0723 175px,#3a0963 180px,#4f0d6c 187px,#370961 193px,#050416 199px,#02020c 206px,#1c0c43 212px,#3b0964 217px,#310a5c 226px,#02020e 234px,#03020f 245px,#2d0b59 254px,#250c50 264px,#02020e 272px,#0c0826 275px,#470b6a 278px,#69176e 281px,#69176e 284px)"></i><i style="top:8px;height:6px;background:linear-gradient(90deg,#010106 0px,#060419 7px,#340a5f 14px,#310a5d 24px,#02020c 33px,#040314 40px,#320a5d 45px,#61136e 50px,#5a116e 58px,#2e0a5a 62px,#040313 67px,#040312 71px,#1b0c41 74px,#480b6a 76px,#a52c60 80px,#c93f4b 84px,#be3853 90px,#761b6d 94px,#2c0b58 97px,#06051a 100px,#030210 103px,#180c3c 106px,#4c0c6b 108px,#942667 110px,#dc503a 112px,#fa9307 114px,#f7d441 117px,#f4de51 121px,#f9c831 124px,#fb9806 126px,#e15635 128px,#741b6e 131px,#330a5e 133px,#07051b 136px,#08061e 139px,#310a5d 142px,#7c1e6d 145px,#c03a51 149px,#c53d4e 156px,#8c2369 160px,#420a68 163px,#0c0826 166px,#02010a 170px,#08061f 175px,#3f0a66 181px,#4e0d6c 189px,#310a5c 194px,#030312 200px,#02020d 207px,#370961 216px,#350a60 226px,#030211 234px,#02020e 245px,#310a5c 255px,#290b54 264px,#03020f 272px,#0a0723 275px,#430a68 278px,#65156e 281px,#66156e 284px)"></i><i style="top:14px;height:4px;background:linear-gradient(90deg,#010106 0px,#07051b 7px,#340a5f 14px,#310a5c 24px,#02020e 32px,#030210 39px,#270b52 44px,#550f6d 48px,#61136e 56px,#380962 61px,#060418 66px,#040312 71px,#1d0c44 74px,#4b0c6b 76px,#b43359 81px,#c73e4c 87px,#ae305c 91px,#57106e 95px,#280b53 97px,#050418 100px,#050417 104px,#2c0b58 107px,#6b176e 109px,#d84c3e 112px,#f98c0b 114px,#fbbc21 116px,#f7d340 119px,#f9ca33 123px,#fa9108 126px,#dd5139 128px,#711a6e 131px,#310a5d 133px,#06051a 136px,#06051a 139px,#2b0b56 142px,#741b6e 145px,#bc3754 149px,#c33c4f 156px,#8f2468 160px,#460b69 163px,#0e092a 166px,#02010a 170px,#07051c 175px,#3c0965 181px,#4f0d6c 188px,#350a60 194px,#040315 200px,#02020c 207px,#1d0c44 213px,#3e0966 218px,#330a5e 227px,#02020e 235px,#030210 246px,#310a5c 255px,#270b52 265px,#030311 272px,#090620 275px,#3e0966 278px,#62146e 281px,#63146e 284px)"></i><i style="top:18px;height:4px;background:linear-gradient(90deg,#010106 0px,#07051c 7px,#340a5f 14px,#340a5f 23px,#02020e 32px,#030210 39px,#290b55 44px,#5c126e 49px,#5b116e 57px,#340a5f 61px,#050416 66px,#040313 71px,#1f0c47 74px,#4c0c6b 76px,#b33359 81px,#c53d4e 87px,#aa2e5e 91px,#530f6d 95px,#140b35 98px,#030210 101px,#0a0723 105px,#480b6a 108px,#b2325a 111px,#ea6429 113px,#fb9d07 115px,#fac52c 118px,#fabf25 123px,#fca108 125px,#ed6925 127px,#932667 130px,#4d0c6b 132px,#0c0826 135px,#040312 138px,#150b37 141px,#3e0965 143px,#9b2865 147px,#c43c4f 151px,#bc3754 157px,#7b1d6d 161px,#310a5d 164px,#07051c 167px,#02010a 172px,#110a30 177px,#420a68 182px,#4c0c6b 191px,#230c4c 196px,#030210 201px,#02020e 208px,#390963 217px,#370961 227px,#030210 235px,#03020f 246px,#310a5c 255px,#2a0b55 265px,#030210 273px,#130a33 276px,#3a0964 278px,#5f136e 281px,#60136e 284px)"></i><i style="top:22px;height:6px;background:linear-gradient(90deg,#010106 0px,#08051d 7px,#340a5f 14px,#330a5e 23px,#02020e 32px,#040312 39px,#2d0b58 44px,#5c126e 49px,#59116e 57px,#300a5b 61px,#040314 66px,#040314 71px,#200c49 74px,#4e0d6c 76px,#b2325a 81px,#c03a51 88px,#932667 92px,#4e0d6c 95px,#120a31 98px,#02020e 101px,#0a0722 105px,#440a69 108px,#ab2f5e 111px,#f3761a 114px,#fca109 116px,#fbb71c 120px,#fca40b 124px,#f57b17 126px,#b1325a 129px,#490b6a 132px,#0c0826 135px,#030311 138px,#120a32 141px,#4f0d6c 144px,#b2325a 149px,#bf3952 156px,#932667 160px,#4e0d6c 163px,#110a30 166px,#02010a 170px,#08061e 176px,#400a67 182px,#4f0d6c 190px,#280b53 196px,#040313 201px,#02020c 208px,#1f0c47 214px,#400a67 219px,#340a5f 228px,#02020e 236px,#02020d 246px,#340a5f 256px,#2e0a5a 265px,#030312 273px,#110a2f 276px,#360961 278px,#5b116e 281px,#5d126e 284px)"></i><i style="top:28px;height:10px;background:linear-gradient(90deg,#010106 0px,#090620 7px,#360960 14px,#310a5c 23px,#02020c 32px,#050415 39px,#3f0966 45px,#60136e 51px,#4d0c6b 58px,#1c0c42 62px,#02020c 67px,#050416 71px,#240c4e 74px,#520e6d 76px,#b0315b 81px,#ba3655 88px,#8b236a 92px,#460b69 95px,#0e092b 98px,#02020c 102px,#090721 105px,#410a67 108px,#a42c61 111px,#ef6c23 114px,#fc9f07 117px,#fca108 123px,#f0701f 126px,#ab2f5e 129px,#460b69 132px,#0b0724 135px,#03020f 138px,#0e082a 141px,#440a69 144px,#aa2e5e 149px,#be3853 155px,#a62d60 159px,#540f6d 163px,#150b37 166px,#02010a 170px,#060419 176px,#3b0964 182px,#510e6c 189px,#3a0963 195px,#050418 201px,#01010a 208px,#100a2f 213px,#3a0963 218px,#3f0a66 227px,#1a0c3f 232px,#02020d 237px,#03020f 247px,#350a60 256px,#2e0a5a 266px,#040415 273px,#0e092a 276px,#410a67 279px,#58106e 283px,#58106e 284px)"></i><i style="top:38px;height:10px;background:linear-gradient(90deg,#010106 0px,#0a0723 7px,#320a5d 13px,#2e0a5a 23px,#02010b 32px,#060519 39px,#440a68 45px,#5e126e 52px,#460b69 58px,#150b37 62px,#02010a 67px,#060419 71px,#290b54 74px,#6d186e 77px,#ad305c 81px,#b33359 88px,#801f6c 92px,#3c0965 95px,#0b0724 98px,#02020c 102px,#09061f 105px,#400a67 108px,#a22b62 111px,#ed6825 114px,#fb9b06 117px,#fb9c06 123px,#ef6c22 126px,#a82e5f 129px,#450a69 132px,#0b0724 135px,#03020f 139px,#120a33 142px,#4e0d6c 145px,#aa2f5e 150px,#b53358 157px,#87216b 161px,#440a69 164px,#0e092a 167px,#010109 171px,#06051b 177px,#3e0966 183px,#510e6d 191px,#2e0a59 197px,#030210 203px,#040312 211px,#3c0965 219px,#420a67 228px,#1b0c41 233px,#02020e 238px,#030210 248px,#390963 257px,#360960 266px,#050418 274px,#160b39 277px,#450a69 280px,#510e6d 284px)"></i><i style="top:48px;height:10px;background:linear-gradient(90deg,#010106 0px,#0c0826 7px,#320a5e 13px,#2b0b57 23px,#02020d 31px,#050415 38px,#3d0965 44px,#5c126e 50px,#480b6a 57px,#190c3e 61px,#02020c 66px,#07051c 71px,#2e0a5a 74px,#711a6e 77px,#ac2f5d 81px,#ad305c 88px,#771c6d 92px,#340a5f 95px,#08061f 98px,#02010a 102px,#09061f 105px,#3f0966 108px,#a02a62 111px,#eb6528 114px,#fb9606 117px,#fb9706 123px,#ed6925 126px,#a62d60 129px,#440a68 132px,#0a0723 135px,#02020d 139px,#0e0829 142px,#420a68 145px,#a32c61 150px,#b53458 156px,#9d2964 160px,#4e0d6c 164px,#090621 168px,#010108 173px,#0d0829 179px,#400a67 184px,#520e6d 192px,#2c0b57 198px,#03020e 204px,#040312 212px,#3e0966 220px,#440a68 229px,#1c0c43 234px,#02020e 239px,#030312 249px,#380962 257px,#380962 267px,#07051c 275px,#2f0a5b 279px,#4a0c6b 283px,#4a0c6b 284px)"></i><i style="top:58px;height:10px;background:linear-gradient(90deg,#010106 0px,#0e0829 7px,#320a5e 13px,#280b54 23px,#02020c 31px,#060519 38px,#410a67 44px,#59116e 50px,#420a67 57px,#06051a 63px,#02010a 68px,#110a30 72px,#4a0c6b 75px,#a32c61 80px,#ae305c 87px,#82206c 91px,#420a68 94px,#0e0829 97px,#02010a 101px,#09061f 105px,#3e0966 108px,#9e2a63 111px,#e9622b 114px,#fa9207 117px,#fa9307 123px,#dc503b 127px,#82206c 130px,#430a68 132px,#0a0722 135px,#02020c 139px,#130b34 143px,#4f0d6c 146px,#a72d5f 151px,#b0315b 158px,#82206c 162px,#410a67 165px,#0d0828 168px,#010108 172px,#050416 178px,#430a68 185px,#530e6d 193px,#2a0b55 199px,#040313 204px,#02020d 212px,#250c4f 218px,#4a0c6b 224px,#3b0964 232px,#040314 239px,#02010a 248px,#1b0c41 254px,#400a67 259px,#3a0963 268px,#090621 275px,#1b0c41 278px,#400a67 281px,#470b6a 284px)"></i><i style="top:68px;height:10px;background:linear-gradient(90deg,#010108 0px,#0a0722 6px,#320a5e 13px,#2b0b57 22px,#02010a 31px,#050415 37px,#440a69 44px,#560f6d 52px,#2e0a5a 58px,#040315 63px,#03020f 69px,#140b36 72px,#4f0d6c 75px,#a32c61 80px,#a92e5e 87px,#791c6d 91px,#390963 94px,#0b0724 97px,#02010a 101px,#09061f 105px,#3d0965 108px,#9c2964 111px,#e75f2d 114px,#fa9307 118px,#f7850f 124px,#d94d3d 127px,#801f6c 130px,#420a68 132px,#0a0722 135px,#02010a 139px,#0e092a 143px,#440a68 146px,#a12b62 151px,#b2325a 157px,#982865 161px,#4a0c6b 165px,#110a30 168px,#02010a 172px,#060418 179px,#3c0965 185px,#550f6d 192px,#3e0a66 198px,#06051a 204px,#010108 211px,#0b0725 216px,#3a0963 221px,#4d0c6b 229px,#290b55 235px,#03020f 241px,#03020f 250px,#400a67 259px,#420a67 268px,#180c3c 273px,#0d0828 276px,#410a67 281px,#490b6a 284px)"></i><i style="top:78px;height:10px;background:linear-gradient(90deg,#010108 0px,#0b0725 6px,#2f0a5b 12px,#280b54 22px,#02020d 30px,#030312 36px,#330a5e 42px,#540f6d 48px,#450a69 55px,#1a0c40 59px,#02020c 64px,#06051a 70px,#290b54 73px,#69176e 76px,#a22b62 80px,#a42c61 87px,#711a6e 91px,#310a5d 94px,#08061f 97px,#02010a 102px,#120a32 106px,#3c0965 108px,#9a2865 111px,#e55c30 114px,#f98e09 118px,#f68013 124px,#d74b3f 127px,#7e1e6c 130px,#410a67 132px,#0a0722 135px,#02010a 139px,#0a0722 143px,#4f0d6c 147px,#a52c60 152px,#ad305d 159px,#7e1e6c 163px,#3d0965 166px,#0c0826 169px,#010108 173px,#06051a 180px,#3f0a66 186px,#550f6d 193px,#3d0965 199px,#050418 205px,#02010a 213px,#130a33 218px,#3c0964 222px,#4f0d6c 230px,#2b0b57 236px,#03020f 242px,#030210 251px,#3e0966 259px,#480b6a 268px,#220c4b 273px,#110a2f 276px,#420a68 281px,#4c0c6b 284px)"></i><i style="top:88px;height:10px;background:linear-gradient(90deg,#010108 0px,#0d0828 6px,#2f0a5b 12px,#250c50 22px,#02020c 30px,#050415 36px,#400a67 43px,#500e6c 51px,#290b54 57px,#02020e 63px,#040313 69px,#2e0a5a 73px,#6d186e 76px,#a02b62 80px,#9f2a63 87px,#540f6d 92px,#180c3d 95px,#030311 98px,#040312 104px,#220c4b 107px,#57106d 109px,#b63458 112px,#ee6a24 115px,#f98a0c 119px,#f47a17 124px,#d34842 127px,#7b1d6d 130px,#3f0a66 132px,#090721 135px,#02010a 140px,#0f092b 144px,#440a68 147px,#9f2a63 152px,#ad305d 159px,#85206b 163px,#460b69 166px,#10092d 169px,#010109 173px,#040314 180px,#420a68 187px,#57106d 194px,#3b0964 200px,#050416 206px,#02010a 214px,#130b34 219px,#3d0965 223px,#510e6c 231px,#2d0b59 237px,#03020f 243px,#030312 252px,#420a68 260px,#4b0c6b 269px,#230c4d 274px,#170b3b 277px,#440a68 281px,#4e0d6c 284px)"></i><i style="top:98px;height:10px;background:linear-gradient(90deg,#010108 0px,#140b36 7px,#320a5d 13px,#230c4c 22px,#02010a 30px,#060419 36px,#3a0963 42px,#4e0d6c 50px,#2c0b58 56px,#030210 62px,#02020e 68px,#120a32 71px,#490b6a 74px,#982766 79px,#9f2a63 86px,#741a6e 90px,#370961 93px,#050417 97px,#02020c 103px,#100a2f 106px,#530e6d 109px,#af315c 112px,#e8602d 115px,#f57d15 119px,#f06f20 124px,#cc4248 127px,#761b6e 130px,#3c0965 132px,#09061f 135px,#010108 140px,#0a0723 144px,#4f0d6c 148px,#a22b62 153px,#a92e5e 160px,#791c6d 164px,#390963 167px,#0a0723 170px,#010108 175px,#050416 181px,#450a69 188px,#57106d 196px,#2e0a5a 202px,#040315 207px,#02010a 215px,#140b35 220px,#3f0a66 224px,#540f6d 231px,#3a0963 237px,#050417 243px,#02010a 251px,#150b36 256px,#410a67 260px,#550f6d 268px,#300a5b 274px,#1d0c45 277px,#4d0c6b 282px,#510e6d 284px)"></i><i style="top:108px;height:10px;background:linear-gradient(90deg,#010108 0px,#170b3a 7px,#310a5c 13px,#260c50 21px,#02020c 29px,#040315 35px,#3c0964 42px,#490b6a 51px,#240c4f 56px,#030312 61px,#030210 68px,#150b37 71px,#4d0c6c 74px,#972766 79px,#9a2865 86px,#58106e 91px,#1c0c43 94px,#040313 97px,#02020c 103px,#10092d 106px,#4f0d6c 109px,#a72d5f 112px,#e15635 115px,#f1711f 120px,#e35933 125px,#ac2f5d 128px,#540f6d 131px,#110a30 134px,#02010a 138px,#040313 143px,#1b0c42 146px,#5a116e 149px,#9d2964 153px,#a92e5e 160px,#801f6c 164px,#430a68 167px,#0e092a 170px,#010109 174px,#050418 182px,#3e0966 188px,#59106e 195px,#430a68 201px,#07051c 207px,#010107 214px,#0c0827 220px,#400a67 225px,#560f6d 232px,#3c0964 238px,#050417 244px,#02010b 252px,#180c3c 257px,#470b6a 261px,#5b116e 268px,#3d0a65 274px,#290b54 278px,#540f6d 284px)"></i><i style="top:118px;height:10px;background:linear-gradient(90deg,#01010a 0px,#180c3d 7px,#310a5c 13px,#230c4d 21px,#02020c 29px,#060419 35px,#3d0965 42px,#440a69 51px,#1d0c45 56px,#03020f 61px,#030210 68px,#250c50 72px,#5e126e 75px,#8f2468 80px,#85206b 87px,#370961 92px,#060419 96px,#02010a 102px,#0e092b 106px,#4b0c6b 109px,#9f2a63 112px,#d94d3d 115px,#ea6429 121px,#ce4347 126px,#6b176e 130px,#350960 132px,#08051d 135px,#010108 140px,#0b0724 145px,#4e0d6c 149px,#9d2964 154px,#a22b62 161px,#721a6e 165px,#340a5f 168px,#050415 172px,#010109 180px,#130a33 185px,#410a67 189px,#59116e 196px,#410a67 202px,#06051a 208px,#010108 216px,#0d0827 221px,#420a68 226px,#58106e 233px,#3e0a65 239px,#050418 245px,#010109 252px,#120a31 257px,#430a68 261px,#60136e 267px,#4b0c6b 274px,#320a5d 278px,#57106e 284px)"></i><i style="top:128px;height:4px;background:linear-gradient(90deg,#02010a 0px,#1f0c48 8px,#300a5c 16px,#1b0c41 22px,#02010a 29px,#07051d 35px,#380962 41px,#440a69 50px,#210c4a 55px,#02020c 61px,#040312 68px,#260c50 72px,#5a116e 75px,#84206b 80px,#771c6d 87px,#3f0a66 91px,#090620 95px,#010108 101px,#07051b 105px,#2f0a5b 108px,#7c1e6d 111px,#d14644 115px,#e45932 121px,#c63d4d 126px,#66166e 130px,#320a5e 132px,#08051d 135px,#010108 141px,#08061e 145px,#440a68 149px,#962766 154px,#9f2a63 161px,#761b6d 165px,#3b0964 168px,#060419 172px,#010108 179px,#08061e 184px,#3b0964 189px,#5a116e 195px,#480b6a 202px,#190c3e 206px,#02010b 211px,#03020f 219px,#230c4d 224px,#4d0d6c 228px,#530e6d 237px,#300a5b 241px,#050416 246px,#02010a 253px,#0d0829 257px,#3e0966 261px,#63146e 266px,#530e6d 274px,#3a0963 278px,#5a116e 284px)"></i><i style="top:132px;height:4px;background:linear-gradient(90deg,#02010a 0px,#2d0b59 12px,#1f0c47 21px,#02010b 29px,#0e092b 35px,#380962 40px,#410a67 49px,#1d0c44 54px,#02010b 60px,#030311 67px,#210c4b 71px,#540f6d 74px,#7e1e6c 79px,#731a6e 86px,#3e0a65 90px,#0a0722 94px,#010109 100px,#07051c 105px,#2d0b59 108px,#7a1d6d 111px,#cc4248 115px,#df5437 121px,#c13a51 126px,#64156e 130px,#320a5e 132px,#08061e 135px,#010109 141px,#090620 146px,#430b68 150px,#922567 155px,#9b2965 162px,#721a6e 166px,#390a62 169px,#060419 173px,#010108 181px,#0e092b 186px,#450b69 191px,#58106e 199px,#310a5c 205px,#030210 211px,#030210 220px,#260b51 225px,#540f6d 230px,#4b0c6b 239px,#200c48 243px,#02020e 248px,#03020f 255px,#270b52 260px,#57106e 264px,#62146e 272px,#460b69 279px,#5d126e 284px)"></i><i style="top:136px;height:4px;background:linear-gradient(90deg,#02010b 0px,#250c50 12px,#1a0c3f 21px,#030210 28px,#0d0829 33px,#3a0963 39px,#350a60 49px,#040312 57px,#03020f 65px,#160b39 69px,#440a68 72px,#781c6d 77px,#6f196e 85px,#3c0a64 89px,#060519 94px,#030311 103px,#10092d 106px,#450a69 109px,#a52d60 113px,#d54941 117px,#d04545 124px,#932567 128px,#490b6a 131px,#110a30 134px,#03020f 138px,#050417 146px,#2a0b54 150px,#62146e 153px,#952667 158px,#89226a 165px,#3b0a63 170px,#07051c 174px,#010109 181px,#0d0828 187px,#400a67 192px,#550f6d 200px,#310a5c 206px,#030312 212px,#02020e 220px,#1c0c42 225px,#460b69 229px,#510e6c 238px,#270b52 243px,#040313 248px,#030311 256px,#280b53 261px,#59106e 266px,#540f6d 275px,#4d0c6b 279px,#61136e 284px)"></i><i style="top:140px;height:4px;background:linear-gradient(90deg,#030210 0px,#200c49 13px,#130a33 22px,#060519 28px,#3b0964 38px,#360961 47px,#040314 56px,#06051a 65px,#370a61 70px,#731a6e 75px,#761b6e 83px,#3d0965 88px,#09061f 93px,#06051a 103px,#1f0c47 107px,#5b116e 110px,#bc3754 115px,#cd4248 122px,#b1325b 126px,#490b6a 131px,#0d0828 135px,#040313 144px,#100a2e 149px,#4b0c6b 153px,#8a226a 158px,#86216b 166px,#3f0a66 171px,#0b0724 175px,#02020e 182px,#0e092a 188px,#3d0965 193px,#530e6d 200px,#3d0965 206px,#050417 213px,#040312 221px,#1e0c45 226px,#450a69 230px,#4d0d6c 239px,#240c4f 244px,#050416 249px,#050416 257px,#350a60 263px,#59116e 269px,#550f6d 280px,#5c126e 284px)"></i><i style="top:144px;height:4px;background:linear-gradient(90deg,#050416 0px,#1a0c40 14px,#0d0828 28px,#3b0964 36px,#320a5e 46px,#050418 55px,#090621 64px,#3c0a64 69px,#781c6d 75px,#6f196e 83px,#300a5c 88px,#0a0723 93px,#0d0828 104px,#330a5e 108px,#84206b 112px,#b93656 116px,#ba3655 124px,#71196e 129px,#350a60 132px,#0d0827 136px,#0a0723 148px,#270b52 152px,#66166e 156px,#8b236a 161px,#7b1d6d 168px,#310a5c 173px,#06051a 178px,#07051b 187px,#430a68 195px,#4d0d6c 204px,#2a0b55 209px,#050417 215px,#07051c 223px,#3d0965 230px,#4d0d6c 238px,#2c0b58 244px,#050418 250px,#06051a 258px,#470b6a 266px,#510e6d 275px,#4d0c6b 284px)"></i><i style="top:148px;height:4px;background:linear-gradient(90deg,#07051b 0px,#160b38 17px,#130a33 27px,#3c0965 35px,#2e0a59 45px,#08061e 53px,#0d0829 63px,#4e0d6c 69px,#791c6d 74px,#70196e 82px,#340a5f 87px,#0f092c 92px,#140b35 104px,#3d0965 108px,#932667 113px,#b73557 118px,#a52d60 125px,#440a68 131px,#120a31 136px,#110a30 150px,#440b68 155px,#83206b 161px,#781c6d 169px,#360a60 174px,#090621 179px,#09061f 188px,#400a67 196px,#4c0c6b 205px,#2c0b58 210px,#07051c 216px,#0a0722 224px,#430a68 232px,#410a67 242px,#06051a 251px,#08061f 259px,#440a68 267px,#4a0c6b 281px,#3d0a65 284px)"></i><i style="top:152px;height:4px;background:linear-gradient(90deg,#090621 0px,#150b37 25px,#3b0964 33px,#2f0a5b 43px,#0a0723 52px,#110a2f 62px,#4f0d6c 68px,#781c6d 74px,#6d186e 81px,#360a60 86px,#140b34 91px,#1c0c42 104px,#66166e 110px,#a62d60 115px,#a92e5e 123px,#60136e 129px,#1f0c48 134px,#120a31 145px,#180c3d 152px,#5b116e 158px,#7e1e6c 164px,#6b176e 171px,#390962 175px,#0d0827 180px,#0d0827 190px,#430a68 198px,#440a68 208px,#150b38 214px,#06051a 220px,#150b37 227px,#410a67 233px,#3e0966 243px,#08061e 252px,#0a0723 260px,#410a67 268px,#3f0a66 281px,#2c0b58 284px)"></i><i style="top:156px;height:6px;background:linear-gradient(90deg,#0e0829 0px,#150b37 23px,#390962 32px,#2b0b56 42px,#0e092b 51px,#150b37 61px,#4c0c6b 67px,#6e196e 73px,#5e126e 81px,#1b0c41 89px,#210c4a 103px,#5d126e 109px,#9f2a63 115px,#9d2964 123px,#3d0965 131px,#1c0c43 137px,#1c0c42 153px,#5b116e 160px,#70196e 167px,#59116e 173px,#210c4a 178px,#0c0826 184px,#110a30 192px,#3f0a66 199px,#3e0966 210px,#0b0725 219px,#0e092b 226px,#3d0965 234px,#3a0964 244px,#090621 254px,#10092e 262px,#3c0964 269px,#390963 280px,#1d0c44 284px)"></i><i style="top:162px;height:4px;background:linear-gradient(90deg,#140b36 0px,#180c3d 23px,#2e0a59 35px,#140b36 54px,#1f0c47 62px,#58106e 69px,#60136e 79px,#200c48 90px,#300a5b 104px,#801f6c 111px,#a12b62 117px,#912568 124px,#3d0965 131px,#210c4a 139px,#230c4e 154px,#5b126e 162px,#56106d 172px,#240c4e 178px,#100a2e 184px,#180c3c 194px,#3d0965 202px,#310a5c 212px,#0d0829 221px,#1a0c3f 229px,#380962 237px,#260c51 247px,#0c0826 255px,#170b3a 264px,#360a61 272px,#260c51 282px,#1c0c42 284px)"></i><i style="top:166px;height:4px;background:linear-gradient(90deg,#1a0c3f 0px,#220c4b 29px,#1c0c42 60px,#4c0c6b 71px,#410a67 82px,#230c4c 92px,#340a5f 104px,#87216a 112px,#982766 120px,#721a6e 126px,#2e0a5a 133px,#230c4e 154px,#4a0c6a 165px,#320a5d 175px,#140b35 184px,#1b0c41 195px,#2e0a59 206px,#110a2f 224px,#2a0b55 239px,#0f092c 259px,#270b52 275px,#180c3c 284px)"></i><i style="top:170px;height:4px;background:linear-gradient(90deg,#220c4b 0px,#280b53 65px,#2d0b58 84px,#360961 104px,#7b1d6d 115px,#6d186e 124px,#2d0b58 134px,#2a0b55 159px,#200c48 177px,#1d0c45 198px,#1a0c40 232px,#180c3c 267px,#150b38 284px)"></i><i style="top:174px;height:2px;background:linear-gradient(90deg,#2d0b59 0px,#360960 103px,#67166e 116px,#530e6d 126px,#300a5b 137px,#190c3e 284px)"></i><i style="top:176px;height:2px;background:linear-gradient(90deg,#400a67 0px,#460b69 105px,#5f136e 120px,#3b0964 141px,#230c4e 284px)"></i><i style="top:178px;height:2px;background:linear-gradient(90deg,#3e0a65 0px,#440b68 111px,#210c4a 283px,#210c4a 284px)"></i><i style="top:180px;height:4px;background:linear-gradient(90deg,#240c4d 0px,#190c3e 187px,#130a33 284px)"></i><i style="top:184px;height:4px;background:linear-gradient(90deg,#150b37 0px,#0b0725 284px)"></i><i style="top:188px;height:26px;background:linear-gradient(90deg,#0b0725 0px,#060419 284px)"></i><i style="top:214px;height:2px;background:#050415"></i><i style="top:216px;height:2px;background:#010108"></i></div><div class="hm" style="left:152px;top:386px;width:285px;height:218px"><i style="top:0px;height:8px;background:linear-gradient(90deg,#010106 0px,#02020e 30px,#2a0b56 37px,#480b6a 44px,#310a5d 52px,#030311 59px,#030210 65px,#200c48 69px,#56106d 72px,#912568 77px,#8c2369 85px,#460b69 90px,#0b0724 94px,#010106 100px,#060419 105px,#330a5e 108px,#771c6d 110px,#c73e4d 112px,#f78212 114px,#fca70c 115px,#f2e865 118px,#f2f17a 122px,#f5db4c 125px,#fca70c 127px,#f78311 128px,#c73e4c 130px,#771c6d 132px,#340a5f 134px,#060419 137px,#050416 141px,#2a0b55 144px,#66166e 146px,#d04545 149px,#fb9706 152px,#fbbe24 155px,#fbb91d 160px,#fb9b06 162px,#d54941 165px,#6c186e 168px,#2e0a5a 170px,#050417 173px,#02010a 178px,#130b34 182px,#4a0c6b 185px,#a22b61 190px,#b2325a 197px,#952667 201px,#480b6a 205px,#090621 209px,#010106 215px,#08061f 221px,#3f0a66 225px,#8d2469 230px,#9c2964 237px,#731a6e 242px,#3e0965 245px,#08061e 249px,#010108 255px,#0c0826 260px,#4a0c6b 264px,#932667 269px,#9a2865 277px,#5c126e 282px,#360960 284px)"></i><i style="top:8px;height:8px;background:linear-gradient(90deg,#010106 0px,#03020f 30px,#300a5c 37px,#4c0c6b 44px,#3b0964 51px,#030210 59px,#040313 65px,#260c50 69px,#5c126e 72px,#922568 77px,#88226a 85px,#3e0966 90px,#08061f 94px,#010106 100px,#060419 105px,#320a5e 108px,#751b6e 110px,#c53d4e 112px,#f67f13 114px,#fca40a 115px,#f3e55e 118px,#f1ee73 121px,#f3e55e 124px,#fca40a 127px,#f68013 128px,#c63d4d 130px,#761b6d 132px,#330a5e 134px,#060419 137px,#040314 141px,#250c50 144px,#60136e 146px,#ca404a 149px,#fa9008 152px,#fbba1f 155px,#fbb61b 160px,#fb9b06 162px,#d84c3f 165px,#70196e 168px,#310a5d 170px,#060419 173px,#02010a 178px,#140b34 182px,#4d0d6c 185px,#af315c 190px,#c33b4f 196px,#a52d60 201px,#550f6d 205px,#0c0827 209px,#010108 214px,#040314 220px,#2e0a5a 224px,#6a176e 227px,#a42c61 232px,#9f2a63 239px,#59106e 244px,#1e0c46 247px,#02020e 251px,#030210 258px,#210c4a 262px,#5a116e 265px,#9a2865 270px,#962766 278px,#4e0d6c 283px,#3a0963 284px)"></i><i style="top:16px;height:8px;background:linear-gradient(90deg,#010106 0px,#030210 30px,#350960 37px,#510e6c 44px,#3d0965 51px,#050416 58px,#03020f 64px,#1c0c42 68px,#510e6d 71px,#8e2469 76px,#8c2369 84px,#490b6a 89px,#0d0827 93px,#010108 98px,#050418 105px,#320a5e 108px,#741b6e 110px,#c43c4f 112px,#f57d15 114px,#fca108 115px,#f3e157 118px,#f2ea6a 122px,#f7d441 125px,#fca108 127px,#e45932 129px,#9d2964 131px,#520e6d 133px,#0d0827 136px,#02020d 139px,#08061e 142px,#3c0964 145px,#7c1e6d 147px,#df5437 150px,#f98a0c 152px,#fcb51a 155px,#fcb318 160px,#fb9a06 162px,#da4e3d 165px,#741b6e 168px,#350a60 170px,#06051a 173px,#02010a 178px,#120a32 182px,#500d6c 185px,#ba3655 190px,#d14644 196px,#b63457 201px,#61146e 205px,#310a5c 207px,#08051d 210px,#010108 216px,#09061f 221px,#460b69 225px,#9f2a63 230px,#b3325a 236px,#962766 241px,#4c0c6b 245px,#0a0723 249px,#010108 254px,#050416 259px,#300a5b 263px,#7a1d6d 267px,#a22b62 272px,#902568 279px,#3e0966 284px)"></i><i style="top:24px;height:8px;background:linear-gradient(90deg,#010106 0px,#02020e 29px,#1b0c41 34px,#440a69 38px,#530f6d 47px,#290b54 53px,#03020e 59px,#060419 65px,#330a5e 69px,#811f6c 74px,#942667 81px,#731a6e 86px,#2f0a5a 90px,#050417 94px,#010108 102px,#0c0826 106px,#500e6c 109px,#9b2865 111px,#e15734 113px,#fb9d07 115px,#f4dd50 118px,#f2e762 122px,#f8d03b 125px,#fb9e07 127px,#e25834 129px,#9b2964 131px,#510e6c 133px,#0c0826 136px,#02020e 140px,#0f092c 143px,#550f6d 146px,#bd3853 149px,#f78311 152px,#fca70c 154px,#fcb519 159px,#fb9906 162px,#dc503b 165px,#791c6d 168px,#390963 170px,#07051c 173px,#02010a 178px,#120a31 182px,#4f0d6c 185px,#b1325b 189px,#d84c3e 193px,#ce4347 200px,#85216b 204px,#390963 207px,#090621 210px,#010108 215px,#09061f 221px,#480b6a 225px,#a62d60 230px,#bb3755 236px,#9f2a63 241px,#510e6d 245px,#0c0826 249px,#010108 254px,#08061e 260px,#400a67 264px,#922568 269px,#a22b62 276px,#7a1d6d 281px,#430a68 284px)"></i><i style="top:32px;height:2px;background:linear-gradient(90deg,#010106 0px,#02020e 29px,#290b54 35px,#530e6d 40px,#4d0d6c 49px,#280b53 53px,#040314 58px,#040312 64px,#250c50 68px,#5b116e 71px,#902568 76px,#8d2369 83px,#3d0965 89px,#08061e 93px,#010106 99px,#050417 105px,#2d0b59 108px,#6c186e 110px,#d74b3f 113px,#f8880e 115px,#fbb61b 117px,#f8cc37 121px,#fbb61b 125px,#f8880e 127px,#d84c3e 129px,#6d186e 132px,#2d0b59 134px,#050417 137px,#030210 141px,#1a0c3f 144px,#4d0c6b 146px,#af315b 149px,#f06f20 152px,#fb9809 155px,#fa9309 161px,#e75f2e 164px,#741a6e 168px,#380962 170px,#07051c 173px,#02010a 178px,#0f092c 182px,#450a69 185px,#a02a62 189px,#ca404a 193px,#c03a51 200px,#7d1e6d 204px,#370961 207px,#090621 210px,#010108 215px,#08051d 221px,#430a68 225px,#9d2964 230px,#b2325a 236px,#982766 241px,#4e0d6c 245px,#0b0725 249px,#010108 254px,#08051d 260px,#3e0966 264px,#922568 269px,#a32c61 276px,#7c1d6d 281px,#450a69 284px)"></i><i style="top:34px;height:2px;background:linear-gradient(90deg,#010106 0px,#02020e 29px,#2a0b56 35px,#57106e 41px,#490b6a 50px,#1d0c44 54px,#02020e 59px,#040312 64px,#270b52 68px,#5d126e 71px,#902568 76px,#84206b 84px,#3b0964 89px,#08051d 93px,#010106 100px,#040314 105px,#240c4f 108px,#5c126e 110px,#bc3854 113px,#f1731d 116px,#f9920c 120px,#f68112 125px,#d64b3f 128px,#7c1e6d 131px,#3e0a66 133px,#090621 136px,#02020c 140px,#0a0723 143px,#400a67 146px,#972766 149px,#db503b 152px,#f1721e 157px,#e8612c 162px,#bb3754 165px,#65156e 168px,#2e0a5a 170px,#06051a 173px,#02010a 178px,#0d0829 182px,#400a67 185px,#952667 189px,#bd3853 193px,#b53458 200px,#60136e 205px,#330a5e 207px,#09061f 210px,#010108 216px,#08051d 221px,#3f0a66 225px,#972766 230px,#ab2f5e 236px,#922568 241px,#4b0c6b 245px,#0b0724 249px,#010108 254px,#08051d 260px,#3d0965 264px,#912568 269px,#a52c60 275px,#8b236a 280px,#470b6a 284px)"></i><i style="top:36px;height:2px;background:linear-gradient(90deg,#010106 0px,#03020f 29px,#2b0b57 35px,#58106e 41px,#490b6a 50px,#1c0c43 54px,#02020e 59px,#040314 64px,#290b54 68px,#5e136e 71px,#902568 76px,#84206b 84px,#380962 89px,#07051c 93px,#010106 100px,#07051c 106px,#310a5d 109px,#82206c 112px,#d64b40 116px,#e65f2e 122px,#c9404b 127px,#66166e 131px,#320a5e 133px,#07051c 136px,#02010a 140px,#10092d 144px,#4b0c6b 147px,#ab2f5d 151px,#d54a40 155px,#cc4248 162px,#88226a 166px,#3c0964 169px,#0a0723 172px,#010108 177px,#0b0725 182px,#4f0d6c 186px,#a52c60 191px,#b3325a 198px,#932567 202px,#440a69 206px,#09061f 210px,#010108 216px,#07051b 221px,#3c0965 225px,#9a2865 231px,#9d2964 239px,#5c126e 244px,#210c4a 247px,#030210 251px,#040312 259px,#290b54 263px,#64156e 266px,#a02a63 271px,#972766 279px,#480b6a 284px)"></i><i style="top:38px;height:16px;background:linear-gradient(90deg,#010106 0px,#030311 29px,#320a5e 35px,#5d126e 41px,#520e6d 49px,#280b53 53px,#040312 58px,#030210 63px,#1f0c47 67px,#540f6d 70px,#8d2369 75px,#87216b 83px,#430a68 88px,#0a0723 92px,#010106 98px,#060419 106px,#280b53 109px,#6e186e 112px,#ba3655 116px,#cc4149 123px,#ad305d 127px,#560f6d 131px,#280b53 133px,#060419 136px,#02020c 141px,#160b38 145px,#520e6d 148px,#ae305c 153px,#bd3853 160px,#9e2964 164px,#4c0c6b 168px,#0a0722 172px,#010108 177px,#090621 182px,#460b69 186px,#9a2865 191px,#aa2f5e 198px,#7f1e6c 203px,#300a5c 207px,#050415 211px,#02020c 219px,#160b39 223px,#4b0c6b 226px,#942667 231px,#992865 239px,#5b116e 244px,#220c4b 247px,#030210 251px,#030311 259px,#250c50 263px,#60136e 266px,#a02a63 271px,#992865 279px,#4d0c6b 284px)"></i><i style="top:54px;height:10px;background:linear-gradient(90deg,#010106 0px,#03020e 28px,#210c4b 33px,#520e6d 37px,#65156e 45px,#400a67 51px,#050418 57px,#03020e 62px,#190c3f 66px,#4d0c6b 69px,#8a226a 74px,#88226a 82px,#370961 88px,#07051b 92px,#010106 100px,#060419 106px,#280b54 109px,#6f196e 112px,#bd3853 116px,#ce4447 123px,#af315b 127px,#57106d 131px,#290b54 133px,#060419 136px,#03020e 142px,#130a33 145px,#4c0c6b 148px,#ab2f5e 153px,#bf3952 159px,#a12b62 164px,#510e6d 168px,#0b0825 172px,#010108 177px,#07051d 182px,#3f0a66 186px,#972766 191px,#ab2f5e 197px,#922568 202px,#4b0c6b 206px,#0b0725 210px,#010108 215px,#060419 221px,#350a60 225px,#7d1e6d 229px,#9f2a63 234px,#932667 240px,#4a0c6b 245px,#0c0826 249px,#010108 254px,#050417 260px,#330a5e 264px,#7f1f6c 268px,#a62d60 273px,#952667 280px,#540f6d 284px)"></i><i style="top:64px;height:2px;background:linear-gradient(90deg,#010106 0px,#030210 28px,#190c3e 32px,#4d0c6b 36px,#69166e 42px,#56106d 49px,#250c50 53px,#050417 57px,#030210 62px,#1d0c44 66px,#510e6d 69px,#8a226a 74px,#86216b 82px,#430a68 87px,#0b0724 91px,#010106 97px,#040312 105px,#1b0c42 108px,#4b0c6b 110px,#9d2964 113px,#d74b3f 116px,#e75f2d 122px,#d74b3f 126px,#83206b 130px,#320a5e 133px,#07051c 136px,#02010a 141px,#120a31 145px,#490b6a 148px,#a92e5e 153px,#bf3952 159px,#a22b62 164px,#540f6d 168px,#180c3c 171px,#030210 174px,#040312 181px,#180c3c 184px,#510e6c 187px,#9f2a63 192px,#a92e5e 199px,#751b6e 204px,#390963 207px,#060419 211px,#010108 218px,#140b34 223px,#470b6a 226px,#922568 231px,#9d2964 238px,#70196e 243px,#380962 246px,#07051b 250px,#010108 257px,#090621 261px,#450a69 265px,#982766 270px,#a72d5f 277px,#7c1d6d 282px,#57106e 284px)"></i><i style="top:66px;height:2px;background:linear-gradient(90deg,#010106 0px,#030210 28px,#270b52 33px,#58106e 37px,#69176e 45px,#400a67 51px,#050417 57px,#030210 62px,#1f0c47 66px,#530e6d 69px,#8c2369 74px,#85216b 82px,#410a67 87px,#0a0722 91px,#010106 97px,#040312 105px,#200c49 108px,#520e6d 110px,#ab2f5e 113px,#e45a31 116px,#f2731d 121px,#e45a31 126px,#ac2f5d 129px,#520e6d 132px,#110a30 135px,#02020c 138px,#040314 143px,#1f0c47 146px,#5f136e 149px,#a92e5e 153px,#bf3952 159px,#a32c61 164px,#550f6d 168px,#0d0829 172px,#02010a 176px,#07051b 182px,#3b0964 186px,#952667 191px,#ab2f5e 197px,#952667 202px,#3b0964 207px,#07051b 211px,#010108 218px,#0b0724 222px,#470b6a 226px,#922568 231px,#9d2964 238px,#71196e 243px,#380962 246px,#07051b 250px,#010108 257px,#09061f 261px,#440a68 265px,#972766 270px,#a82e5f 277px,#7d1e6d 282px,#59106e 284px)"></i><i style="top:68px;height:12px;background:linear-gradient(90deg,#010106 0px,#030312 28px,#2b0b57 33px,#63146e 38px,#65156e 47px,#310a5d 52px,#040315 57px,#040313 62px,#240c4e 66px,#5a116e 69px,#8d2469 74px,#83206b 82px,#3c0964 87px,#08061e 91px,#010106 97px,#040314 105px,#230c4d 108px,#59116e 110px,#b83557 113px,#ee6b24 116px,#f8890c 120px,#f47918 125px,#d14644 128px,#791c6d 131px,#3d0965 133px,#09061f 136px,#02010a 141px,#10092e 145px,#460b69 148px,#a72d5f 153px,#bf3952 159px,#a52c60 164px,#410a67 169px,#0e092a 172px,#02010a 176px,#060419 182px,#380962 186px,#84206b 190px,#ab2f5e 195px,#a02a63 201px,#530e6d 206px,#0e092b 210px,#02010a 214px,#050417 221px,#320a5d 225px,#7a1d6d 229px,#9f2a63 234px,#952667 240px,#3a0963 246px,#07051b 250px,#010108 257px,#08061e 261px,#410a67 265px,#962766 270px,#a92e5f 277px,#811f6c 282px,#5c126e 284px)"></i><i style="top:80px;height:6px;background:linear-gradient(90deg,#010106 0px,#040312 28px,#2b0b57 33px,#5f136e 38px,#5e136e 47px,#2a0b56 52px,#040312 57px,#050417 62px,#310a5d 66px,#781c6d 70px,#9d2964 75px,#8a226a 82px,#390963 87px,#07051b 91px,#010106 99px,#040314 105px,#220c4b 108px,#57106d 110px,#b33359 113px,#eb6528 116px,#f78212 120px,#f1731d 125px,#ce4347 128px,#761b6e 131px,#3b0964 133px,#08061f 136px,#02010a 141px,#0e092b 145px,#420a68 148px,#a52c60 153px,#bf3952 158px,#a72d60 164px,#450a69 169px,#10092d 172px,#02010a 176px,#050417 182px,#330a5e 186px,#811f6c 190px,#ab2f5e 195px,#992865 202px,#430a68 207px,#08061f 211px,#010108 217px,#0a0722 222px,#440a68 226px,#902568 231px,#9f2a63 238px,#731a6e 243px,#3c0965 246px,#07051c 250px,#010107 256px,#07051b 261px,#3d0965 265px,#952667 270px,#ab2f5e 276px,#932567 281px,#61146e 284px)"></i><i style="top:86px;height:2px;background:linear-gradient(90deg,#010106 0px,#040312 28px,#2b0b57 33px,#5f136e 39px,#530e6d 48px,#260c51 52px,#030311 57px,#06051a 62px,#380962 66px,#8e2469 71px,#a42c61 77px,#8f2469 82px,#380962 87px,#060419 91px,#010106 100px,#07051c 106px,#320a5e 109px,#84206b 112px,#da4e3c 116px,#ea632a 122px,#cd4348 127px,#69166e 131px,#320a5e 133px,#07051c 136px,#02010a 141px,#0d0829 145px,#3f0a66 148px,#a22b62 153px,#bd3853 158px,#a62d60 164px,#470b6a 169px,#10092d 172px,#010108 177px,#050416 182px,#310a5c 186px,#7f1e6c 190px,#aa2f5e 195px,#9a2865 202px,#450a69 207px,#09061f 211px,#010108 217px,#09061f 222px,#420a68 226px,#902568 231px,#9f2a63 238px,#741a6e 243px,#3d0965 246px,#08051d 250px,#010106 256px,#07051b 261px,#3b0964 265px,#942667 270px,#ab2f5e 276px,#942667 281px,#64156e 284px)"></i><i style="top:88px;height:2px;background:linear-gradient(90deg,#010106 0px,#02020e 27px,#1e0c45 32px,#4d0c6b 36px,#60136e 44px,#3e0966 50px,#050417 56px,#040312 61px,#270b52 65px,#63146e 68px,#a22b62 73px,#a22b62 80px,#61136e 85px,#240c4f 88px,#030210 92px,#02020c 104px,#0d0827 107px,#440a68 110px,#a62d60 114px,#d54a40 118px,#d04545 125px,#8f2468 129px,#440a69 132px,#0d0829 135px,#02010a 139px,#07051b 144px,#290b54 147px,#6a176e 150px,#ad305d 154px,#ba3655 161px,#982766 165px,#470b6a 169px,#09061f 173px,#010108 179px,#09061f 183px,#440a69 187px,#992865 192px,#a92e5f 199px,#7f1e6c 204px,#310a5c 208px,#050416 212px,#02010a 219px,#110a30 223px,#420a68 226px,#8f2469 231px,#9d2964 238px,#731a6e 243px,#3d0965 246px,#08051d 250px,#010106 256px,#060419 261px,#390963 265px,#932567 270px,#aa2f5e 276px,#932667 281px,#64156e 284px)"></i><i style="top:90px;height:4px;background:linear-gradient(90deg,#010106 0px,#030210 27px,#2e0a5a 33px,#5b116e 39px,#520e6d 47px,#2a0b55 51px,#040313 56px,#040314 61px,#2a0b56 65px,#67166e 68px,#a42c61 73px,#a22b62 80px,#5e136e 85px,#220c4c 88px,#050418 91px,#010106 100px,#060418 106px,#250c50 109px,#530e6d 111px,#b43359 116px,#c63d4d 123px,#a72d60 127px,#530e6d 131px,#0b0725 135px,#010108 140px,#0c0826 145px,#520e6d 149px,#aa2f5e 154px,#b83556 161px,#972766 165px,#470b6a 169px,#09061f 173px,#010108 179px,#08061e 183px,#410a67 187px,#952667 192px,#a62d60 199px,#7e1e6c 204px,#310a5c 208px,#050417 212px,#02010a 219px,#10092e 223px,#3f0a66 226px,#8c2369 231px,#9a2865 238px,#711a6e 243px,#3c0965 246px,#08051d 250px,#010106 256px,#060419 261px,#360961 265px,#811f6c 269px,#a62d60 274px,#9b2865 280px,#63146e 284px)"></i><i style="top:94px;height:4px;background:linear-gradient(90deg,#010106 0px,#030210 26px,#2c0b58 32px,#57106d 38px,#4d0d6c 46px,#270b51 50px,#040313 55px,#02020e 60px,#1b0c42 64px,#550f6d 67px,#9c2964 72px,#9e2a63 80px,#58106e 85px,#1e0c45 88px,#02020e 92px,#030210 105px,#150b37 108px,#510e6c 111px,#b0315b 116px,#c33c4f 122px,#a42c61 127px,#510e6c 131px,#0b0724 135px,#010108 140px,#0b0725 145px,#4f0d6c 149px,#a72d5f 154px,#b63458 161px,#972766 165px,#470b6a 169px,#09061f 173px,#010108 179px,#07051d 183px,#3e0966 187px,#912568 192px,#a32c61 199px,#7c1e6d 204px,#320a5e 208px,#050417 212px,#02010a 219px,#0f092c 223px,#500d6c 227px,#902468 232px,#8f2469 240px,#4d0d6c 245px,#0e092b 249px,#02010a 253px,#050417 261px,#320a5e 265px,#7c1d6d 269px,#a12b62 274px,#8e2469 281px,#61146e 284px)"></i><i style="top:98px;height:4px;background:linear-gradient(90deg,#010106 0px,#030210 25px,#2b0b57 31px,#530e6d 37px,#420a67 46px,#060418 53px,#02010a 59px,#110a30 63px,#430a68 66px,#922568 71px,#a02a62 78px,#761b6e 83px,#3e0966 86px,#08061e 90px,#010106 97px,#050417 106px,#240c4f 109px,#67166e 112px,#ae305c 116px,#c13a51 122px,#a22b62 127px,#500e6c 131px,#0b0724 135px,#010108 140px,#0a0723 145px,#4d0c6b 149px,#a42c61 154px,#b43359 161px,#952667 165px,#480b6a 169px,#090620 173px,#010108 178px,#07051b 183px,#3a0964 187px,#952666 193px,#992865 201px,#59106e 206px,#1f0c48 209px,#050417 212px,#02010a 219px,#0e092b 223px,#4d0c6b 227px,#8c2369 232px,#8c2369 240px,#4c0c6b 245px,#0e092b 249px,#02010a 253px,#050416 261px,#2f0a5a 265px,#761b6d 269px,#9c2964 274px,#8b236a 281px,#60136e 284px)"></i><i style="top:102px;height:4px;background:linear-gradient(90deg,#010106 0px,#030210 24px,#330a5e 31px,#500d6c 37px,#3d0965 45px,#050416 52px,#02010b 59px,#130a33 63px,#440a69 66px,#8f2468 71px,#982766 79px,#5e136e 84px,#260c50 87px,#030312 91px,#02010a 104px,#140b35 108px,#4f0d6c 111px,#ac2f5d 116px,#bf3952 122px,#a02a63 127px,#4f0d6c 131px,#0b0724 135px,#010108 140px,#0a0722 145px,#490b6a 149px,#a12b62 154px,#b2325a 161px,#942667 165px,#490b6a 169px,#0a0722 173px,#010108 178px,#060519 183px,#370961 187px,#88226a 192px,#9c2964 199px,#791c6d 204px,#320a5e 208px,#050417 212px,#02010a 219px,#0d0829 223px,#4a0c6b 227px,#88226a 232px,#88226a 240px,#4b0c6b 245px,#0e092b 249px,#02010a 253px,#040314 261px,#2b0b56 265px,#62146e 268px,#942667 273px,#8f2469 280px,#5f136e 284px)"></i><i style="top:106px;height:4px;background:linear-gradient(90deg,#010106 0px,#030210 23px,#410a67 32px,#450a69 42px,#1c0c43 47px,#02010b 53px,#030210 60px,#210c4a 64px,#59106e 67px,#932667 72px,#8d2369 80px,#460b69 85px,#0b0724 89px,#010106 95px,#030210 105px,#140b34 108px,#4d0d6c 111px,#ab2f5e 116px,#bc3754 123px,#9e2a63 127px,#4e0d6c 131px,#0b0724 135px,#010108 140px,#090621 145px,#460b6a 149px,#9e2a63 154px,#af315c 161px,#932667 165px,#490b6a 169px,#0a0722 173px,#010108 178px,#060418 183px,#330a5e 187px,#781c6d 191px,#982766 196px,#84206b 203px,#450a69 207px,#0b0724 211px,#010108 216px,#07051b 222px,#350a60 226px,#84206b 232px,#85216b 240px,#380962 246px,#08051d 250px,#010107 257px,#07051d 262px,#390963 266px,#84206b 271px,#8f2468 279px,#5d126e 284px)"></i><i style="top:110px;height:4px;background:linear-gradient(90deg,#010106 0px,#030210 22px,#3e0966 31px,#410a67 41px,#190c3e 46px,#02010b 52px,#030311 60px,#230c4c 64px,#59106e 67px,#8f2468 72px,#88226a 80px,#400a67 85px,#090621 89px,#010106 95px,#03020f 105px,#140b34 108px,#4d0c6b 111px,#a92e5f 116px,#ba3655 123px,#9c2964 127px,#4d0d6c 131px,#0b0724 135px,#010108 140px,#09061f 145px,#440a69 149px,#9b2865 154px,#ad305d 161px,#83206b 166px,#340a5f 170px,#050417 174px,#02010b 181px,#120a31 185px,#420a68 188px,#89226a 193px,#8f2468 201px,#57106e 206px,#210c4a 209px,#030210 213px,#040312 221px,#220c4b 225px,#540f6d 228px,#85216b 233px,#7b1d6d 241px,#370961 246px,#08051d 250px,#010106 257px,#07051b 262px,#350960 266px,#86216b 272px,#87216b 280px,#5b116e 284px)"></i><i style="top:114px;height:2px;background:linear-gradient(90deg,#010106 0px,#03020f 21px,#390963 30px,#3e0966 40px,#190c3e 45px,#02010b 51px,#040313 60px,#260c51 64px,#5b116e 67px,#8d2369 72px,#83206b 80px,#3b0964 85px,#08061e 89px,#010106 95px,#02020e 105px,#130a33 108px,#4b0c6b 111px,#a72d5f 116px,#b93556 123px,#9b2964 127px,#4e0d6c 131px,#0b0724 135px,#010108 140px,#07051c 145px,#400a67 149px,#a02a62 155px,#a52c60 163px,#60136e 168px,#230c4e 171px,#060419 174px,#02010a 181px,#100a2e 185px,#4f0d6c 189px,#8b236a 194px,#88226a 202px,#360960 208px,#07051b 212px,#010109 219px,#0a0723 223px,#400a67 227px,#7c1e6d 232px,#801f6c 240px,#380962 246px,#08061e 250px,#010106 256px,#060419 262px,#310a5d 266px,#791c6d 271px,#89226a 278px,#69176e 283px,#5b116e 284px)"></i><i style="top:116px;height:2px;background:linear-gradient(90deg,#010106 0px,#02020e 20px,#3b0964 30px,#3a0964 40px,#02020d 50px,#040312 59px,#240c4d 63px,#56106d 66px,#8a226a 71px,#84206b 79px,#420a68 84px,#0b0724 88px,#010106 94px,#02020e 105px,#1e0c45 109px,#5c126e 112px,#ac2f5d 117px,#b2325a 125px,#6d186e 130px,#2e0a59 133px,#040314 137px,#02010b 143px,#120a31 147px,#440b68 150px,#972766 155px,#a92e5e 162px,#83206b 167px,#380a62 171px,#07051b 175px,#010109 181px,#120a32 186px,#400a67 189px,#8a226a 195px,#87216b 203px,#370a61 209px,#08051d 213px,#010108 219px,#0c0826 224px,#420a67 228px,#7b1d6d 233px,#7e1e6c 241px,#3a0a63 247px,#050418 252px,#010108 259px,#090621 263px,#4d0c6b 268px,#82206c 273px,#801f6c 281px,#61146e 284px)"></i><i style="top:118px;height:2px;background:linear-gradient(90deg,#010106 0px,#030311 20px,#380962 29px,#360960 40px,#030210 49px,#02020e 57px,#180c3c 61px,#470b69 64px,#88226a 70px,#82206c 78px,#340a5f 84px,#07051b 88px,#010106 96px,#040313 106px,#2b0b57 110px,#69166e 113px,#a82e5f 117px,#b63458 124px,#8c2369 129px,#3d0965 133px,#07051c 137px,#010109 143px,#090621 147px,#430a68 151px,#9e2a63 157px,#a32c61 165px,#67166e 170px,#2f0a5a 173px,#050417 177px,#02020c 183px,#120a31 187px,#4d0d6b 191px,#87216b 196px,#87216b 204px,#3f0a66 210px,#060419 215px,#02010a 221px,#130a33 226px,#4c0c6b 230px,#7c1e6d 235px,#7a1d6d 243px,#330a5e 249px,#040314 254px,#02020e 261px,#160b38 265px,#430a68 268px,#811f6c 274px,#7c1d6d 282px,#6a176e 284px)"></i><i style="top:120px;height:2px;background:linear-gradient(90deg,#010106 0px,#030311 19px,#380962 29px,#310a5d 40px,#02020e 49px,#030210 56px,#1a0c3f 60px,#480b6a 63px,#811f6c 68px,#811f6c 77px,#370961 83px,#09061f 87px,#010106 94px,#040312 106px,#250c50 110px,#62146e 113px,#ac2f5d 118px,#b0315b 126px,#741a6e 131px,#380962 134px,#07051b 138px,#010109 144px,#110a30 149px,#400a67 152px,#9b2865 158px,#a32c61 166px,#6e186e 171px,#380a61 174px,#07051c 178px,#02020c 184px,#110a30 188px,#4a0c6b 192px,#84206b 197px,#82206c 206px,#370a61 212px,#050416 217px,#02020d 223px,#1c0c42 228px,#480b6a 231px,#7d1e6d 237px,#741b6e 245px,#3b0a64 250px,#06051a 255px,#02020c 261px,#1b0c41 266px,#490b6a 269px,#801f6c 275px,#781c6d 283px,#71196e 284px)"></i><i style="top:122px;height:2px;background:linear-gradient(90deg,#010106 0px,#040313 19px,#310a5d 28px,#2f0a5a 39px,#02010a 50px,#060419 56px,#390a63 61px,#801f6c 67px,#801f6c 76px,#390963 82px,#050418 87px,#010106 98px,#060419 107px,#330a5e 111px,#801f6c 115px,#b2325a 120px,#a62d60 128px,#460b69 134px,#0b0724 138px,#010108 143px,#090621 149px,#510e6c 154px,#982765 159px,#a32c61 167px,#741b6e 172px,#2e0a59 176px,#050418 180px,#030210 186px,#270b52 191px,#65156e 195px,#89226a 201px,#7c1e6d 208px,#3e0a65 213px,#07051b 218px,#02020d 224px,#10092d 228px,#430a68 232px,#7a1d6d 238px,#70196e 247px,#340a5f 252px,#050418 257px,#03020f 262px,#160b39 266px,#4e0d6c 270px,#7e1e6c 276px,#741b6e 284px)"></i><i style="top:124px;height:2px;background:linear-gradient(90deg,#010106 0px,#040312 18px,#300a5b 29px,#280b53 39px,#02020c 49px,#06051a 55px,#3a0963 60px,#7e1e6c 66px,#7f1e6c 75px,#3d0965 81px,#07051b 86px,#010106 94px,#030210 106px,#1d0c44 110px,#540f6d 113px,#a22b62 118px,#b3325a 126px,#89226a 131px,#400a67 135px,#0a0722 139px,#010108 145px,#0a0722 150px,#4f0d6c 155px,#9d2964 161px,#9a2865 170px,#480b6a 176px,#08051d 181px,#02020d 186px,#0f092c 190px,#440a69 194px,#82206c 200px,#7d1e6d 209px,#350a5f 215px,#050418 220px,#030210 226px,#240c4d 231px,#59116e 235px,#7b1d6d 241px,#6a176e 249px,#2d0b58 254px,#050416 259px,#06051a 264px,#370961 269px,#761b6e 275px,#771c6d 284px)"></i><i style="top:126px;height:2px;background:linear-gradient(90deg,#010106 0px,#030210 17px,#290b55 29px,#210c4a 39px,#02020c 49px,#07051c 54px,#4a0c6b 60px,#801f6c 66px,#781c6d 75px,#3f0a66 80px,#08051d 85px,#010106 93px,#040314 107px,#280b53 111px,#61136e 114px,#a62d60 119px,#ad305d 128px,#731a6e 133px,#3b0964 136px,#09061f 140px,#010108 146px,#0a0722 151px,#4d0d6b 156px,#9b2865 162px,#9b2964 171px,#510e6c 177px,#0b0724 182px,#02020e 187px,#0f092c 191px,#410a67 195px,#801f6c 201px,#7e1e6c 210px,#3d0a65 216px,#07051c 221px,#03020f 227px,#200c49 232px,#550f6d 236px,#791c6d 242px,#6d186e 250px,#360a60 255px,#07051c 260px,#060419 264px,#2f0a5a 269px,#71196e 275px,#771c6d 284px)"></i><i style="top:128px;height:2px;background:linear-gradient(90deg,#010106 0px,#040312 17px,#240c4f 29px,#1b0c41 39px,#02020d 49px,#0e092a 54px,#4b0c6b 59px,#7d1e6d 65px,#761b6e 74px,#330a5e 80px,#050418 85px,#010106 97px,#040313 107px,#230c4e 111px,#5a116e 114px,#a22b62 119px,#b1325a 127px,#8c2369 132px,#360a60 137px,#08051d 141px,#010108 147px,#0a0722 152px,#4c0c6b 157px,#972766 163px,#9b2964 172px,#58106d 178px,#250b4f 181px,#050417 185px,#050417 190px,#300a5b 195px,#6f196e 200px,#84206b 208px,#5e136e 215px,#260b51 219px,#040312 224px,#040314 229px,#2a0b56 234px,#65156e 239px,#781c6d 247px,#550f6d 254px,#220c4b 258px,#07051c 262px,#0b0725 266px,#420a68 271px,#741b6e 277px,#771c6d 284px)"></i><i style="top:130px;height:2px;background:linear-gradient(90deg,#010106 0px,#040314 17px,#1e0c45 28px,#150b37 39px,#03020f 49px,#180c3c 54px,#4c0c6b 58px,#7c1d6d 64px,#751b6e 73px,#350a60 79px,#06051a 84px,#010106 93px,#040312 107px,#1f0c47 111px,#540f6d 114px,#a62d60 120px,#ab2f5e 129px,#781c6d 134px,#310a5c 138px,#07051b 142px,#02010a 149px,#100a2f 154px,#4a0c6b 158px,#962766 164px,#9c2964 173px,#5e136e 179px,#2c0b57 182px,#040314 187px,#08061e 192px,#490c6a 198px,#7d1e6d 204px,#791c6d 213px,#3b0a64 219px,#08061e 224px,#030210 229px,#1b0c41 234px,#4d0c6b 238px,#751b6e 245px,#69166e 253px,#350a60 258px,#0a0723 263px,#10092d 267px,#460b69 272px,#741b6e 279px,#741b6e 284px)"></i><i style="top:132px;height:2px;background:linear-gradient(90deg,#010106 0px,#050416 17px,#190c3e 29px,#0e092a 40px,#030311 48px,#190c3e 53px,#4c0c6b 57px,#7c1d6d 64px,#6d186e 73px,#380962 78px,#08051d 83px,#010106 92px,#030311 107px,#1b0c42 111px,#4d0d6c 114px,#a12b62 120px,#ad305d 129px,#811f6c 134px,#3e0a66 138px,#0b0724 142px,#010108 148px,#0a0722 154px,#480b6a 159px,#932567 165px,#9c2964 174px,#65156e 180px,#250b4f 184px,#060419 188px,#08051d 193px,#460b69 199px,#7d1e6d 206px,#741a6e 215px,#330a5e 221px,#06051a 226px,#040313 231px,#2e0a59 237px,#67166e 243px,#6c186e 253px,#2e0a59 260px,#0d0827 265px,#1b0c42 269px,#530e6d 274px,#71196e 281px,#71196e 284px)"></i><i style="top:134px;height:2px;background:linear-gradient(90deg,#010107 0px,#050418 17px,#140b36 30px,#040314 47px,#1b0c41 52px,#4c0c6b 56px,#7a1d6d 63px,#6d186e 72px,#2e0a5a 78px,#040312 84px,#02020d 106px,#10092d 110px,#480b6a 114px,#9e2a63 120px,#ad305d 129px,#89226a 134px,#390963 139px,#060419 144px,#02020e 152px,#1b0c41 157px,#480b6a 160px,#922568 166px,#9d2964 175px,#6b176e 181px,#2e0a59 185px,#060419 190px,#0d0829 195px,#440a68 200px,#7a1d6d 207px,#6d186e 217px,#390a63 222px,#090621 227px,#050416 232px,#2a0b56 238px,#61146e 244px,#65156e 255px,#340a5f 261px,#120a31 266px,#200c49 270px,#540f6d 275px,#6d186e 283px,#6d186e 284px)"></i><i style="top:136px;height:2px;background:linear-gradient(90deg,#010109 0px,#08051d 18px,#100a2e 33px,#07051b 47px,#360a60 53px,#741b6e 60px,#6e186e 71px,#310a5d 77px,#050417 83px,#02010a 103px,#09061f 109px,#440a69 114px,#a12b62 121px,#ac2f5d 130px,#781c6d 136px,#360a60 140px,#06051a 145px,#030210 153px,#1b0c42 158px,#57106d 162px,#982766 168px,#972766 178px,#460b69 185px,#0c0826 190px,#090621 195px,#4d0d6c 202px,#791c6d 209px,#6f196e 218px,#330a5e 224px,#06051a 230px,#0a0722 235px,#470b6a 242px,#69176e 250px,#540f6d 259px,#180c3d 267px,#3a0964 273px,#68166e 281px,#69176e 284px)"></i><i style="top:138px;height:2px;background:linear-gradient(90deg,#02010b 0px,#0a0723 21px,#07051c 40px,#0c0826 47px,#440a69 53px,#771c6d 60px,#6e186e 70px,#360960 76px,#07051b 82px,#02010b 97px,#060419 108px,#300a5b 113px,#70196e 117px,#a92e5e 123px,#a62d60 132px,#64156e 138px,#240c4f 142px,#050416 147px,#050418 155px,#2a0b55 160px,#65156e 164px,#9c2964 170px,#9a2865 179px,#5e136e 185px,#230c4c 189px,#090621 193px,#0f092c 197px,#4a0c6b 203px,#781c6d 210px,#6a176e 220px,#2e0a59 226px,#07051b 232px,#0e092b 237px,#440a68 243px,#65156e 251px,#550f6d 260px,#1f0c48 269px,#5a116e 278px,#65156e 284px)"></i><i style="top:140px;height:2px;background:linear-gradient(90deg,#02020e 0px,#08061e 36px,#0b0724 45px,#470b6a 52px,#761b6e 59px,#6f196e 69px,#390963 75px,#08061e 81px,#02020e 96px,#06051a 108px,#2c0b58 113px,#6b176e 117px,#a72d5f 123px,#a42c61 133px,#510e6c 140px,#100a2f 145px,#030210 151px,#0e092b 158px,#480b6a 163px,#982766 170px,#9d2964 180px,#58106d 187px,#170b3b 192px,#0b0724 196px,#320a5e 202px,#731a6e 210px,#6c186e 221px,#350a60 227px,#090621 233px,#0e092b 238px,#470b6a 245px,#61146e 254px,#490b6a 263px,#280b53 270px,#61136e 282px,#61146e 284px)"></i><i style="top:142px;height:2px;background:linear-gradient(90deg,#030210 0px,#090621 43px,#3d0965 50px,#761b6e 58px,#6a176e 69px,#310a5c 75px,#060419 82px,#050417 107px,#1e0c45 112px,#57106d 116px,#a62d60 123px,#a72d5f 133px,#5c126e 140px,#220c4b 144px,#050418 149px,#07051c 157px,#2c0b58 162px,#721a6e 167px,#a12b62 173px,#952667 183px,#430a68 190px,#100a2f 195px,#120a31 199px,#510e6c 206px,#761b6e 214px,#67166e 223px,#300a5b 229px,#0a0722 235px,#140b34 240px,#430a68 246px,#5e136e 255px,#460b69 265px,#310a5d 272px,#5e136e 284px)"></i><i style="top:144px;height:2px;background:linear-gradient(90deg,#040312 0px,#08061e 41px,#340a5f 48px,#731a6e 56px,#6a176e 68px,#340a5f 74px,#07051b 81px,#07051c 108px,#350a60 114px,#89226a 120px,#ad305c 127px,#9f2a63 135px,#490b6a 142px,#0b0724 148px,#050417 156px,#180c3c 161px,#490c6a 165px,#982766 172px,#a12b62 182px,#67166e 189px,#240c4e 194px,#100a2e 198px,#270b52 203px,#60136e 209px,#741b6e 219px,#530e6d 227px,#210c4a 232px,#0b0725 237px,#180c3d 242px,#460b69 248px,#59116e 259px,#380962 273px,#59116e 284px)"></i><i style="top:146px;height:2px;background:linear-gradient(90deg,#040314 0px,#09061f 40px,#370961 47px,#731a6e 55px,#6b176e 67px,#2d0b59 74px,#07051b 81px,#08051d 108px,#330a5e 114px,#85216b 120px,#ab2f5e 126px,#a22b62 135px,#470b6a 143px,#100a2f 148px,#050417 155px,#120a32 161px,#4a0c6b 166px,#982766 173px,#a02a62 184px,#61136e 191px,#220c4b 196px,#130a33 200px,#4d0c6b 208px,#731a6e 216px,#64156e 226px,#310a5c 232px,#0e092b 238px,#200c49 244px,#4b0c6b 251px,#470b6a 266px,#3b0964 275px,#520e6d 284px)"></i><i style="top:148px;height:2px;background:linear-gradient(90deg,#050417 0px,#0a0722 39px,#430a68 47px,#741b6e 55px,#6b176e 66px,#310a5c 73px,#09061f 80px,#09061f 108px,#310a5c 114px,#741b6e 119px,#a72d5f 125px,#a62d60 135px,#60136e 142px,#1f0c47 147px,#06051a 153px,#0f092c 161px,#4a0c6b 167px,#9e2a63 175px,#9f2a63 186px,#4e0d6c 194px,#1b0c41 199px,#1a0c3f 203px,#530e6d 210px,#711a6e 219px,#59116e 229px,#240c4f 235px,#130a33 240px,#420a68 252px,#380962 268px,#400a67 280px,#450b69 284px)"></i><i style="top:150px;height:2px;background:linear-gradient(90deg,#060419 0px,#0a0722 37px,#3b0964 45px,#741a6e 54px,#6b176e 65px,#340a5f 72px,#0a0723 79px,#090621 108px,#2e0a5a 114px,#711a6e 119px,#a92e5f 126px,#9e2a63 137px,#410a67 145px,#0d0829 151px,#09061f 159px,#250c50 165px,#65156e 170px,#a22b62 177px,#9c2964 188px,#3d0a65 197px,#1a0c3f 202px,#410a67 209px,#6e186e 218px,#61136e 229px,#2b0b57 236px,#170b3b 242px,#380962 255px,#310a5c 278px,#380962 284px)"></i><i style="top:152px;height:2px;background:linear-gradient(90deg,#07051b 0px,#0b0724 36px,#380962 44px,#6d186e 53px,#61146e 65px,#2c0b58 72px,#0a0722 79px,#0a0723 108px,#2c0b58 114px,#6d186e 119px,#a72d5f 126px,#a12b62 137px,#3f0a66 146px,#0e092a 152px,#0b0724 161px,#330a5e 167px,#7d1e6c 173px,#a72d5f 180px,#9b2865 190px,#450b69 198px,#1e0c45 203px,#380962 209px,#6b176e 218px,#62146e 230px,#2a0b55 238px,#1a0c3f 244px,#2a0b55 262px,#280b53 281px,#2a0b55 284px)"></i><i style="top:154px;height:2px;background:linear-gradient(90deg,#08051d 0px,#0e092a 36px,#470b6a 46px,#60136e 57px,#450b69 67px,#0d0829 77px,#0a0722 107px,#210c4a 113px,#5d126e 118px,#a12b62 125px,#a72d5f 136px,#70196e 143px,#310a5d 148px,#0c0826 154px,#0f092c 163px,#400a67 169px,#9e2a63 178px,#a62d60 189px,#71196e 196px,#230c4c 204px,#380962 210px,#69176e 220px,#5c126e 232px,#220c4b 241px,#1a0c3f 250px,#1c0c43 284px)"></i><i style="top:156px;height:2px;background:linear-gradient(90deg,#09061f 0px,#0e092b 36px,#450b69 48px,#450b69 64px,#140b36 74px,#09061f 87px,#0e092a 109px,#340a5f 115px,#88226a 122px,#ab2f5e 129px,#9c2964 139px,#480b6a 147px,#120a32 153px,#0c0826 162px,#350a60 169px,#88226a 176px,#ab2f5e 184px,#9b2865 193px,#3e0a66 202px,#290b54 208px,#5c126e 221px,#480b6a 234px,#120a31 246px,#110a30 284px)"></i><i style="top:158px;height:2px;background:linear-gradient(90deg,#0a0723 0px,#0f092c 36px,#3c0964 51px,#2c0b58 67px,#0b0725 80px,#0f092c 109px,#3e0966 116px,#9b2964 125px,#a82e5f 136px,#7f1e6c 143px,#3a0963 149px,#0e092b 156px,#120a32 165px,#4d0d6c 172px,#a22b62 181px,#a12b62 193px,#3e0a66 204px,#2d0b59 210px,#480b6a 226px,#280b53 238px,#0d0827 248px,#0b0725 284px)"></i><i style="top:160px;height:2px;background:linear-gradient(90deg,#0c0826 0px,#120a32 38px,#2c0b58 54px,#1e0c45 69px,#0d0827 84px,#140b34 110px,#480b6a 117px,#9b2964 126px,#a22b62 138px,#65156e 146px,#260c51 152px,#0f092c 159px,#190c3e 167px,#59106e 174px,#9d2964 182px,#9f2a63 194px,#3e0965 206px,#2e0a5a 214px,#2d0b59 234px,#0e092b 250px,#0e092b 284px)"></i><i style="top:162px;height:2px;background:linear-gradient(90deg,#0e092a 0px,#160b39 43px,#160b39 70px,#100a2e 106px,#290b55 114px,#70196e 121px,#a12b62 129px,#952667 141px,#430a68 150px,#160b39 157px,#190c3e 167px,#58106e 175px,#9c2964 184px,#992865 196px,#410a67 207px,#230c4c 215px,#170b3b 241px,#130a33 284px)"></i><i style="top:164px;height:4px;background:linear-gradient(90deg,#110a30 0px,#1b0c41 110px,#4d0c6b 118px,#992865 128px,#972766 141px,#3e0a65 152px,#1a0c3f 161px,#2b0b56 170px,#6e186e 178px,#9c2964 187px,#8c2369 199px,#3a0963 209px,#1b0c42 218px,#1a0c3f 284px)"></i><i style="top:168px;height:2px;background:linear-gradient(90deg,#140b36 0px,#270b52 111px,#721a6e 122px,#9d2964 131px,#902568 143px,#390963 155px,#2d0b59 167px,#7e1e6c 182px,#85216b 197px,#360960 211px,#250c50 235px,#230c4e 284px)"></i><i style="top:170px;height:2px;background:linear-gradient(90deg,#1c0c42 0px,#3a0a63 112px,#902568 130px,#85216b 144px,#410a67 159px,#540f6d 174px,#781c6d 189px,#5e136e 204px,#390a62 219px,#300a5b 284px)"></i><i style="top:172px;height:2px;background:linear-gradient(90deg,#300a5b 0px,#57106d 113px,#8a226a 133px,#771c6d 149px,#61146e 167px,#6e186e 199px,#4f0d6c 242px,#460b69 284px)"></i><i style="top:174px;height:4px;background:linear-gradient(90deg,#430a68 0px,#761b6d 125px,#70196e 222px,#5f136e 284px)"></i><i style="top:178px;height:2px;background:linear-gradient(90deg,#380962 0px,#6d186e 196px,#61136e 284px)"></i><i style="top:180px;height:4px;background:linear-gradient(90deg,#2a0b55 0px,#5c126e 249px,#5f136e 284px)"></i><i style="top:184px;height:10px;background:linear-gradient(90deg,#250c50 0px,#60136e 284px)"></i><i style="top:194px;height:4px;background:linear-gradient(90deg,#170c3b 0px,#480b6a 284px)"></i><i style="top:198px;height:8px;background:linear-gradient(90deg,#230c4c 0px,#56106d 284px)"></i><i style="top:206px;height:4px;background:linear-gradient(90deg,#130a34 0px,#3b0a63 284px)"></i><i style="top:210px;height:2px;background:linear-gradient(90deg,#0a0723 0px,#1e0c45 284px)"></i><i style="top:212px;height:2px;background:linear-gradient(90deg,#050417 0px,#0a0722 284px)"></i><i style="top:214px;height:4px;background:#02010b"></i></div><div class="hm" style="left:504px;top:386px;width:285px;height:218px"><i style="top:0px;height:6px;background:linear-gradient(90deg,#010005 0px,#02020c 12px,#160b39 14px,#370961 15px,#85216b 17px,#b63458 19px,#bb3754 23px,#972766 25px,#390963 28px,#300a5b 30px,#63146e 34px,#550f6d 39px,#2d0b59 41px,#030210 44px,#02010a 50px,#0d0827 58px,#010108 68px,#120a32 75px,#08061f 81px,#010106 87px,#1b0c42 95px,#140b36 100px,#010108 105px,#03020f 109px,#180c3d 111px,#500d6c 113px,#7f1f6c 116px,#781c6d 120px,#380962 123px,#0b0724 125px,#02010a 128px,#0a0722 130px,#420a68 132px,#a62d60 135px,#ba3655 138px,#a22b62 141px,#62146e 143px,#3b0964 144px,#08051d 146px,#02010a 149px,#040314 150px,#130a33 151px,#3d0965 152px,#7a1d6d 153px,#c03a51 154px,#f1731d 155px,#fcb216 156px,#f5dc4d 157px,#f1ed6f 158px,#f1ee73 160px,#f3e45c 161px,#fac42a 162px,#f98a0b 163px,#d74b3f 164px,#932567 165px,#510e6c 166px,#1e0c45 167px,#08051d 168px,#030311 170px,#0a0722 171px,#200c49 172px,#4c0c6b 173px,#ae305c 175px,#e25833 177px,#e75e2e 181px,#c23b50 183px,#64156e 185px,#350a60 186px,#120a32 187px,#02010a 189px,#02020d 192px,#150b37 194px,#4e0d6c 196px,#87216a 199px,#85216b 203px,#460b69 206px,#10092e 208px,#02010b 210px,#02020c 213px,#130a33 215px,#2e0a5a 216px,#6f196e 218px,#9d2964 221px,#8d2369 225px,#380a62 228px,#08061f 230px,#010005 233px,#03020e 237px,#2a0b55 240px,#62146e 243px,#62146e 248px,#420a68 250px,#07051d 253px,#010005 257px,#040315 261px,#220c4b 263px,#59116e 265px,#7f1f6c 268px,#721a6e 272px,#480b6a 274px,#06051a 277px,#010005 281px,#010005 284px)"></i><i style="top:6px;height:6px;background:linear-gradient(90deg,#010005 0px,#02020c 12px,#150b37 14px,#350a60 15px,#801f6c 17px,#af315b 19px,#b43359 23px,#912568 25px,#350a60 28px,#2c0b57 30px,#61136e 34px,#550f6d 39px,#2f0a5b 41px,#040312 44px,#02010a 50px,#0f092c 57px,#010108 68px,#150b38 75px,#0b0724 81px,#010106 86px,#07051c 90px,#250c50 95px,#1b0c41 100px,#010108 105px,#030312 109px,#1e0c45 111px,#3b0964 112px,#7e1e6c 115px,#84206b 119px,#540f6d 122px,#360961 123px,#090621 125px,#02010a 128px,#0c0827 130px,#4a0c6b 132px,#ad305c 135px,#bd3853 139px,#a32c61 141px,#60136e 143px,#380962 144px,#07051b 146px,#02010a 149px,#040314 150px,#140b34 151px,#3e0966 152px,#7b1d6d 153px,#c13a50 154px,#f1731d 155px,#fcb015 156px,#f5d949 157px,#f2e967 158px,#f2eb6b 160px,#f4e055 161px,#fbbf25 162px,#f8850f 163px,#d34743 164px,#8f2468 165px,#4e0d6c 166px,#1c0c43 167px,#07051c 168px,#03020f 170px,#07051d 171px,#1a0c40 172px,#430a68 173px,#a22b61 175px,#dd5139 177px,#e55b31 181px,#c33c4f 183px,#6a176e 185px,#3b0964 186px,#160b39 187px,#02010b 189px,#040314 193px,#210c4a 195px,#5a116e 197px,#83206b 200px,#781c6d 204px,#4e0d6c 206px,#08051d 209px,#010106 212px,#0c0826 215px,#430a68 217px,#962766 220px,#a22b62 224px,#6d186e 227px,#4c0c6b 228px,#0f092d 230px,#02010a 232px,#02020c 237px,#110a30 239px,#400a67 241px,#6f196e 244px,#6d186e 248px,#360a61 251px,#040313 254px,#010109 260px,#0b0725 262px,#3a0963 264px,#7b1d6d 267px,#781c6d 272px,#330a5e 275px,#09061f 277px,#010006 280px,#010005 284px)"></i><i style="top:12px;height:6px;background:linear-gradient(90deg,#010005 0px,#02020c 12px,#140b34 14px,#310a5d 15px,#7a1d6d 17px,#a72d5f 19px,#ad305d 23px,#6c186e 26px,#300a5c 28px,#270b53 30px,#5f136e 34px,#550f6d 39px,#310a5d 41px,#040313 44px,#010106 49px,#110a30 57px,#06051a 63px,#010108 68px,#190c3e 76px,#0d0829 81px,#010106 86px,#0a0722 90px,#2e0a5a 94px,#220c4b 100px,#010108 105px,#040415 109px,#240c4f 111px,#61136e 113px,#8c2369 116px,#801f6c 120px,#330a5f 123px,#08061e 125px,#02010a 128px,#0f092c 130px,#520e6d 132px,#b43359 135px,#c13a50 139px,#a52c60 141px,#5d126e 143px,#350a60 144px,#060419 146px,#02010a 149px,#140b36 151px,#3f0a66 152px,#7d1e6d 153px,#c33b4f 154px,#f1731d 155px,#fcb014 156px,#f6d745 157px,#f2e762 158px,#f2e864 160px,#f5dc4e 161px,#fbba1f 162px,#f68112 163px,#d04545 164px,#8b236a 165px,#4b0c6b 166px,#1b0c41 167px,#07051b 168px,#02020d 170px,#150b37 172px,#380962 173px,#67166e 174px,#bf3952 176px,#e15635 178px,#da4e3d 182px,#a02a63 184px,#410a67 186px,#1a0c3f 187px,#02020c 189px,#03020e 193px,#160b38 195px,#4b0c6b 197px,#7b1d6d 200px,#761b6d 204px,#390963 207px,#0b0725 209px,#010106 212px,#07051b 215px,#340a5f 217px,#791c6d 219px,#a32c61 221px,#a42c61 225px,#801f6c 227px,#3c0a64 229px,#090621 231px,#010005 234px,#040314 238px,#3c0965 241px,#751b6e 244px,#771c6d 248px,#450b69 251px,#06051a 254px,#010005 258px,#030210 261px,#190c3f 263px,#360961 264px,#7c1d6d 267px,#7e1e6c 272px,#3b0964 275px,#0b0725 277px,#010106 280px,#010005 284px)"></i><i style="top:18px;height:2px;background:linear-gradient(90deg,#010005 0px,#02010a 12px,#100a2e 14px,#4b0c6b 16px,#932667 19px,#982865 23px,#5e136e 26px,#290b55 28px,#230c4e 30px,#540f6d 33px,#5d126e 38px,#320a5e 41px,#040314 44px,#010106 49px,#130a33 57px,#07051b 63px,#010108 68px,#1b0c42 76px,#10092d 81px,#010106 86px,#050417 89px,#2e0a5a 93px,#310a5c 99px,#02020e 104px,#02020c 108px,#110a30 110px,#490b6a 112px,#8b236a 115px,#8c2369 119px,#520e6d 122px,#320a5e 123px,#08051d 125px,#02010b 128px,#110a30 130px,#2e0a5a 131px,#56106d 132px,#a22b62 134px,#c43c4f 136px,#ba3655 140px,#84206b 142px,#320a5e 144px,#050418 146px,#02010a 149px,#150b37 151px,#400a67 152px,#7d1e6d 153px,#c33b4f 154px,#f1731d 155px,#fcaf13 156px,#f6d543 157px,#f3e55d 158px,#f2e661 160px,#f5d949 161px,#fbb71c 162px,#f57d15 163px,#cd4248 164px,#89226a 165px,#490b6a 166px,#190c3e 167px,#07051b 168px,#02020c 170px,#120a31 172px,#320a5e 173px,#60136e 174px,#b83556 176px,#de5338 178px,#d94d3d 182px,#a22b62 184px,#450a69 186px,#1c0c43 187px,#02020e 189px,#02020c 193px,#100a2e 195px,#410a67 197px,#761b6e 200px,#741b6e 204px,#3e0966 207px,#050416 210px,#02010a 214px,#100a2e 216px,#4f0d6c 218px,#a22b62 221px,#aa2f5e 225px,#8c2369 227px,#4a0c6b 229px,#0e092a 231px,#010109 233px,#040312 238px,#1c0c43 240px,#380962 241px,#781c6d 244px,#761b6e 249px,#310a5d 252px,#08061e 254px,#010005 258px,#08051d 262px,#320a5e 264px,#7c1d6d 267px,#88226a 271px,#5d126e 274px,#230c4c 276px,#040314 278px,#010005 284px)"></i><i style="top:20px;height:2px;background:linear-gradient(90deg,#010005 0px,#02010a 12px,#0e092a 14px,#410a67 16px,#811f6c 19px,#85216b 23px,#520e6d 26px,#230c4e 28px,#1b0c42 29px,#530e6d 33px,#5d126e 38px,#340a5f 41px,#040314 44px,#010106 49px,#140b34 57px,#08051d 63px,#010108 68px,#1b0c42 75px,#160b39 80px,#010106 86px,#050418 89px,#310a5d 93px,#330a5e 99px,#030210 104px,#02020c 108px,#120a32 110px,#4d0c6b 112px,#8c2369 115px,#8e2469 119px,#510e6d 122px,#160b38 124px,#02020e 126px,#050417 129px,#310a5c 131px,#83206b 133px,#bb3755 135px,#c63d4d 139px,#a52c60 141px,#5a116e 143px,#310a5d 144px,#050417 146px,#02010a 149px,#150b37 151px,#400a67 152px,#7f1e6c 153px,#c43c4e 154px,#f1731d 155px,#fcae12 156px,#f6d543 157px,#f2e661 159px,#f6d847 161px,#fbb61a 162px,#f57c16 163px,#cc4248 164px,#88226a 165px,#490b6a 166px,#190c3e 167px,#060419 168px,#02020c 170px,#100a2e 172px,#300a5b 173px,#5d126e 174px,#b53458 176px,#dc503a 178px,#d84c3e 182px,#a32c61 184px,#480b6a 186px,#1e0c45 187px,#09061f 188px,#010106 191px,#050416 194px,#3c0965 197px,#731a6e 200px,#6a176e 205px,#410a67 207px,#050418 210px,#010106 213px,#040313 215px,#250c50 217px,#4a0c6b 218px,#a22b62 221px,#ad305c 225px,#922568 227px,#510e6c 229px,#100a2e 231px,#02010a 233px,#030210 238px,#1b0c41 240px,#370961 241px,#791c6d 244px,#791c6d 249px,#370961 252px,#0a0723 254px,#010106 257px,#02020e 261px,#160b38 263px,#310a5c 264px,#69166e 266px,#8a226a 269px,#761b6e 273px,#440a69 275px,#0f092c 277px,#010106 280px,#010005 284px)"></i><i style="top:22px;height:2px;background:linear-gradient(90deg,#010005 0px,#02010a 12px,#0b0725 14px,#370961 16px,#70196e 19px,#6b176e 24px,#2f0a5a 27px,#180c3d 29px,#520e6d 33px,#5d126e 38px,#340a5f 41px,#050416 44px,#010106 49px,#140b36 57px,#0d0827 62px,#010106 67px,#0e092b 72px,#1e0c45 77px,#0b0724 82px,#010108 86px,#060419 89px,#350a60 93px,#370961 99px,#030210 104px,#02020c 108px,#140b34 110px,#4f0d6c 112px,#8f2468 115px,#8f2468 119px,#510e6c 122px,#310a5c 123px,#07051b 125px,#02020c 128px,#140b34 130px,#330a5e 131px,#86216b 133px,#bd3853 135px,#c63e4d 139px,#a52c60 141px,#59116e 143px,#310a5c 144px,#050417 146px,#02010a 149px,#150b37 151px,#420a68 152px,#7f1e6c 153px,#c43c4e 154px,#f2731d 155px,#fcae12 156px,#f7d340 157px,#f3e35a 158px,#f3e45b 160px,#f6d746 161px,#fcb418 162px,#f57b17 163px,#cb4149 164px,#87216b 165px,#480b6a 166px,#190c3e 167px,#060419 168px,#02010a 170px,#0f092c 172px,#2c0b58 173px,#59116e 174px,#b2325a 176px,#db4f3b 178px,#d84c3e 182px,#a52c60 184px,#490b6a 186px,#1f0c48 187px,#02020e 189px,#02010a 193px,#0b0725 195px,#370961 197px,#70196e 200px,#6a176e 205px,#430a68 207px,#06051a 210px,#010108 214px,#0b0725 216px,#440a69 218px,#a12b62 221px,#b0315b 225px,#7c1d6d 228px,#320a5e 230px,#06051a 232px,#010106 236px,#09061f 239px,#340a5f 241px,#7b1d6d 244px,#7e1e6c 249px,#3c0965 252px,#0b0725 254px,#010106 257px,#02020d 261px,#140b36 263px,#4d0d6c 265px,#87216b 268px,#85216b 272px,#460b69 275px,#100a2e 277px,#02010b 279px,#010005 284px)"></i><i style="top:24px;height:2px;background:linear-gradient(90deg,#010005 0px,#030210 13px,#2c0b58 16px,#5e136e 19px,#5a116e 24px,#260c51 27px,#160b38 29px,#510e6c 33px,#5d126e 38px,#340a5f 41px,#050417 44px,#010106 49px,#150b37 57px,#09061f 63px,#010108 68px,#1e0c45 75px,#180c3d 80px,#010108 86px,#07051b 89px,#380962 93px,#3a0964 99px,#030210 104px,#02020d 108px,#150b37 110px,#310a5c 111px,#70196e 113px,#962766 116px,#84206b 120px,#510e6c 122px,#2f0a5b 123px,#07051b 125px,#010108 127px,#060419 129px,#350a60 131px,#88226a 133px,#bf3952 135px,#c83f4c 139px,#a62d60 141px,#59106e 143px,#2f0a5b 144px,#050417 146px,#02010a 149px,#050417 150px,#160b38 151px,#420a68 152px,#7f1e6c 153px,#c43c4e 154px,#f2741c 155px,#fcae12 156px,#f7d340 157px,#f3e55d 159px,#f6d543 161px,#fcb216 162px,#f47918 163px,#ca404a 164px,#85216b 165px,#470b6a 166px,#180c3c 167px,#060419 168px,#02010a 170px,#0e092a 172px,#550f6d 174px,#af315c 176px,#d94d3d 178px,#d74b3f 182px,#a62d60 184px,#4b0c6b 186px,#0a0723 188px,#010108 190px,#030311 194px,#320a5e 197px,#6d186e 200px,#69166e 205px,#440a69 207px,#07051c 210px,#010106 213px,#090621 216px,#3f0a66 218px,#a02a63 221px,#b2325a 225px,#9d2964 227px,#5f136e 229px,#390963 230px,#07051c 232px,#010005 235px,#08061e 239px,#320a5e 241px,#7c1d6d 244px,#88226a 248px,#5d126e 251px,#410a67 252px,#0e092a 254px,#010106 257px,#02020c 261px,#140b34 263px,#4c0c6b 265px,#87216b 268px,#87216b 272px,#490b6a 275px,#120a31 277px,#010106 280px,#010005 284px)"></i><i style="top:26px;height:2px;background:linear-gradient(90deg,#010005 0px,#02020e 13px,#220c4b 16px,#440a69 18px,#500d6c 23px,#2e0a5a 26px,#140b36 28px,#1b0c42 30px,#500d6c 33px,#5d126e 38px,#360961 41px,#050417 44px,#010106 49px,#160b39 57px,#090621 63px,#010108 68px,#1f0c48 75px,#1a0c3f 80px,#02010a 85px,#07051b 89px,#3c0965 93px,#3e0966 99px,#030210 104px,#02020e 108px,#160b39 110px,#330a5e 111px,#711a6e 113px,#982766 116px,#85216b 120px,#4f0d6c 122px,#140b34 124px,#02020c 126px,#06051a 129px,#380962 131px,#8b236a 133px,#c13a50 135px,#c93f4b 139px,#a62d60 141px,#57106e 143px,#2e0a5a 144px,#040314 146px,#02010a 149px,#050417 150px,#160b39 151px,#420a68 152px,#801f6c 153px,#c43c4e 154px,#f2741c 155px,#fcae12 156px,#f7d23e 157px,#f4e156 158px,#f4e156 160px,#f7d340 161px,#fcb014 162px,#f37819 163px,#c83f4b 164px,#84206b 165px,#450a69 166px,#180c3c 167px,#060419 168px,#02010a 170px,#0d0827 172px,#510e6d 174px,#aa2f5e 176px,#d74b3f 178px,#d64a40 182px,#a62d60 184px,#4d0d6c 186px,#0b0724 188px,#010106 191px,#03020f 194px,#2d0b59 197px,#69176e 200px,#69166e 205px,#2d0b59 208px,#03020f 211px,#02020d 215px,#180c3d 217px,#390963 218px,#83206b 220px,#ae305c 222px,#b0315b 226px,#88226a 228px,#400a67 230px,#090621 232px,#010106 235px,#07051c 239px,#4f0d6c 242px,#88226a 245px,#84206b 249px,#460b69 252px,#100a2e 254px,#02010b 256px,#02020c 261px,#120a32 263px,#4b0c6b 265px,#88226a 268px,#88226a 272px,#4d0c6b 275px,#140b34 277px,#02020c 279px,#010005 284px)"></i><i style="top:28px;height:2px;background:linear-gradient(90deg,#010005 0px,#02020c 13px,#340a5f 18px,#380962 24px,#10092d 28px,#190c3e 30px,#4f0d6c 33px,#5d126e 38px,#360961 41px,#050417 44px,#010106 49px,#160b39 57px,#0a0722 63px,#010108 68px,#210c4a 76px,#150b37 81px,#02010a 85px,#08051d 89px,#3e0966 93px,#450a69 98px,#220c4b 101px,#030210 104px,#02020e 108px,#180c3c 110px,#360961 111px,#88226a 114px,#982766 118px,#6d186e 121px,#2c0b58 123px,#060419 125px,#02020c 128px,#160b39 130px,#390963 131px,#8c2369 133px,#c23b50 135px,#c83f4b 139px,#a42c61 141px,#550f6d 143px,#2c0b58 144px,#040314 146px,#02010a 149px,#050417 150px,#160b39 151px,#420a68 152px,#801f6c 153px,#c43c4f 154px,#f1721e 155px,#fcaa0f 156px,#f8cf3a 157px,#f4df53 159px,#f8cf3a 161px,#fcac11 162px,#f2741c 163px,#c63e4d 164px,#82206c 165px,#440a69 166px,#170b3b 167px,#060419 168px,#030210 171px,#230c4e 173px,#4e0d6c 174px,#a62d60 176px,#d44842 178px,#d54941 182px,#a72d5f 184px,#4f0d6c 186px,#0c0826 188px,#010108 190px,#02020e 194px,#130a33 196px,#430a68 198px,#6d186e 201px,#68166e 205px,#300a5b 208px,#030210 211px,#02020c 215px,#150b37 217px,#340a5f 218px,#7e1e6c 220px,#ad305d 222px,#b1325a 226px,#8d2369 228px,#470b6a 230px,#0b0725 232px,#010106 235px,#06051a 239px,#2d0b59 241px,#68166e 243px,#8c2369 246px,#7a1d6d 250px,#490b6a 252px,#120a31 254px,#010106 257px,#02020c 261px,#110a30 263px,#480b6a 265px,#88226a 268px,#88226a 272px,#4f0d6c 275px,#07051b 278px,#010005 282px,#010005 284px)"></i><i style="top:30px;height:2px;background:linear-gradient(90deg,#010005 0px,#02010b 13px,#2a0b56 19px,#210c4a 25px,#0c0826 28px,#170b3b 30px,#4d0d6c 33px,#5e136e 37px,#490b6a 40px,#1f0c48 42px,#02020c 45px,#02020e 51px,#140b36 57px,#09061f 63px,#010108 68px,#1f0c47 76px,#140b34 81px,#010108 86px,#07051c 89px,#3c0965 93px,#3c0965 99px,#030210 104px,#02020e 108px,#180c3c 110px,#350a60 111px,#85216b 114px,#932567 118px,#67166e 121px,#290b54 123px,#050417 125px,#02020c 128px,#160b39 130px,#380962 131px,#88226a 133px,#ba3655 135px,#c03a51 139px,#9b2964 141px,#4f0d6c 143px,#0e092a 145px,#02010a 147px,#050417 150px,#150b37 151px,#3f0a66 152px,#7c1d6d 153px,#bf3952 154px,#ed6a24 155px,#fc9f08 156px,#f8ce39 158px,#f8ce39 160px,#fc9f08 162px,#ee6b24 163px,#bf3952 164px,#7c1e6d 165px,#410a67 166px,#160b38 167px,#050417 168px,#010109 170px,#0a0723 172px,#480b6a 174px,#9f2a63 176px,#ce4447 178px,#cf4446 182px,#a32c61 184px,#4e0d6c 186px,#0c0826 188px,#010108 190px,#02020c 194px,#230c4e 197px,#530e6d 199px,#6d186e 203px,#5c126e 206px,#310a5d 208px,#030311 211px,#02010a 215px,#100a2e 217px,#500d6c 219px,#a32c61 222px,#aa2f5e 226px,#8c2369 228px,#490b6a 230px,#0d0829 232px,#010109 234px,#02010b 238px,#100a2e 240px,#450a69 242px,#811f6c 245px,#82206c 249px,#490b6a 252px,#06051a 255px,#010005 259px,#050416 262px,#420a68 265px,#801f6c 268px,#83206b 272px,#4d0c6b 275px,#07051b 278px,#010005 282px,#010005 284px)"></i><i style="top:32px;height:2px;background:linear-gradient(90deg,#010005 0px,#030210 14px,#200c49 19px,#1f0c47 24px,#0a0722 28px,#140b36 30px,#4a0c6b 33px,#59106e 38px,#340a5f 41px,#050418 44px,#010005 48px,#120a31 58px,#040314 64px,#02010a 69px,#1b0c42 76px,#120a31 81px,#010108 86px,#07051b 89px,#370961 93px,#370961 99px,#02020e 104px,#02020e 108px,#180c3c 110px,#330a5e 111px,#7f1e6c 114px,#8b236a 118px,#60136e 121px,#440a68 122px,#0e092b 124px,#02010a 126px,#07051b 129px,#350a60 131px,#801f6c 133px,#b0315b 135px,#b43359 139px,#902568 141px,#480b6a 143px,#0c0826 145px,#010108 147px,#050417 150px,#140b36 151px,#3e0966 152px,#761b6e 153px,#b63457 154px,#e75f2d 155px,#f98e09 156px,#fbbb20 158px,#fcae13 161px,#f98e09 162px,#e75e2e 163px,#751b6e 165px,#3c0965 166px,#140b36 167px,#02010a 169px,#02020e 171px,#1d0c44 173px,#430a68 174px,#962766 176px,#c53d4e 178px,#c83f4c 182px,#9f2a63 184px,#4d0c6b 186px,#0c0826 188px,#010108 190px,#050416 195px,#380962 198px,#67166e 201px,#5c126e 206px,#340a5f 208px,#040313 211px,#010109 215px,#0d0827 217px,#440a69 219px,#972766 222px,#a12b62 226px,#87216b 228px,#4a0c6b 230px,#0e092b 232px,#02010a 234px,#02010a 238px,#0e092a 240px,#3e0965 242px,#781c6d 245px,#7b1d6d 249px,#480b6a 252px,#07051b 255px,#010005 259px,#040313 262px,#3b0964 265px,#781c6d 268px,#721a6e 273px,#490b6a 275px,#07051b 278px,#010005 282px,#010005 284px)"></i><i style="top:34px;height:2px;background:linear-gradient(90deg,#010005 0px,#030210 14px,#210c4a 20px,#180c3c 25px,#0a0723 29px,#410a67 33px,#500d6c 38px,#2f0a5a 41px,#050417 44px,#010106 49px,#0f092c 58px,#010106 68px,#180c3d 76px,#100a2e 81px,#010108 86px,#06051a 89px,#320a5e 93px,#310a5d 99px,#02020e 104px,#02020e 108px,#160b39 110px,#4e0d6c 112px,#801f6c 115px,#7c1e6d 119px,#3d0965 122px,#0d0827 124px,#010108 127px,#060419 129px,#310a5d 131px,#781c6d 133px,#a52c60 135px,#a82e5f 139px,#85216b 141px,#400a67 143px,#0a0723 145px,#010106 148px,#050416 150px,#130a33 151px,#3a0964 152px,#711a6e 153px,#e05536 155px,#f68013 156px,#fca70d 158px,#fb9c07 161px,#f67e14 162px,#df5337 163px,#6f196e 165px,#380962 166px,#120a32 167px,#02010a 169px,#08051d 172px,#3d0965 174px,#8c2369 176px,#bc3754 178px,#c13a51 182px,#992865 184px,#4c0c6b 186px,#0c0826 188px,#010106 191px,#040313 195px,#340a5f 198px,#65156e 201px,#5c126e 206px,#360961 208px,#040314 211px,#010108 215px,#090621 217px,#3a0963 219px,#8a226a 222px,#972766 226px,#68166e 229px,#4a0c6b 230px,#10092d 232px,#010106 235px,#030311 239px,#360960 242px,#70196e 245px,#6c186e 250px,#450a69 252px,#07051b 255px,#010005 259px,#030311 262px,#340a5f 265px,#6f196e 268px,#6c186e 273px,#460b69 275px,#07051b 278px,#010005 282px,#010005 284px)"></i><i style="top:36px;height:2px;background:linear-gradient(90deg,#010005 0px,#030210 14px,#210c4a 20px,#180c3c 25px,#08061e 28px,#1b0c41 31px,#410a67 34px,#410a67 39px,#180c3d 42px,#02020c 45px,#030210 52px,#0d0827 59px,#010106 68px,#160b38 77px,#0a0722 82px,#010108 87px,#180c3d 91px,#330a5e 94px,#2c0b58 99px,#02020d 104px,#02020e 108px,#160b38 110px,#4b0c6b 112px,#791c6d 115px,#741b6e 119px,#370961 122px,#0b0724 124px,#010108 127px,#060419 129px,#2e0a5a 131px,#711a6e 133px,#9f2a63 136px,#902568 140px,#390963 143px,#09061f 145px,#010106 148px,#040314 150px,#120a32 151px,#370961 152px,#6c186e 153px,#d84c3e 155px,#f98c0b 157px,#fb9607 160px,#f06f20 162px,#d54a40 163px,#69166e 165px,#340a5f 166px,#110a30 167px,#02010a 169px,#07051b 172px,#370961 174px,#84206b 176px,#b33359 178px,#b83556 182px,#932667 184px,#490b6a 186px,#0c0826 188px,#010106 191px,#030311 195px,#300a5b 198px,#61146e 201px,#5c126e 206px,#380962 208px,#050417 211px,#010107 215px,#07051c 217px,#300a5b 219px,#6a176e 221px,#8e2469 224px,#7b1d6d 228px,#490b6a 230px,#110a30 232px,#02020c 234px,#03020f 239px,#2d0b59 242px,#66166e 245px,#65156e 250px,#430a68 252px,#07051b 255px,#010005 259px,#030210 262px,#2e0a5a 265px,#66166e 268px,#64156e 273px,#420a68 275px,#07051b 278px,#010005 282px,#010005 284px)"></i><i style="top:38px;height:2px;background:linear-gradient(90deg,#010005 0px,#030210 14px,#210c4a 20px,#180c3c 25px,#08061e 29px,#380962 34px,#2f0a5a 40px,#02010a 45px,#02020e 52px,#0a0723 59px,#010108 69px,#130a33 77px,#050417 83px,#02020e 88px,#2e0a5a 94px,#280b53 99px,#02020c 104px,#02020e 108px,#2c0b58 111px,#5c126e 113px,#741a6e 116px,#5f136e 120px,#310a5c 122px,#030210 125px,#02020c 128px,#120a32 130px,#4c0c6b 132px,#8e2469 135px,#8f2468 139px,#530e6d 142px,#320a5e 143px,#07051c 145px,#010106 148px,#040314 150px,#110a30 151px,#330a5e 152px,#67166e 153px,#cf4446 155px,#f57b17 157px,#f78410 160px,#e9612b 162px,#cc4248 163px,#62146e 165px,#300a5b 166px,#0f092c 167px,#010109 169px,#060419 172px,#310a5d 174px,#7b1d6d 176px,#aa2f5e 178px,#b0315b 182px,#8d2369 184px,#480b6a 186px,#0c0826 188px,#010106 191px,#030210 195px,#2a0b56 198px,#5e136e 201px,#5a116e 206px,#390963 208px,#050418 211px,#010106 215px,#10092d 218px,#440a68 220px,#7e1e6c 223px,#7f1e6c 227px,#480b6a 230px,#060419 233px,#010106 237px,#07051c 240px,#3e0966 243px,#63146e 246px,#5d126e 250px,#3f0a66 252px,#07051c 255px,#010005 259px,#07051c 263px,#3f0a66 266px,#64156e 269px,#5d126e 273px,#3e0966 275px,#07051b 278px,#010005 282px,#010005 284px)"></i><i style="top:40px;height:4px;background:linear-gradient(90deg,#010005 0px,#030210 14px,#210c4a 20px,#180c3c 25px,#06051a 29px,#2d0b58 35px,#240c4d 40px,#02010a 45px,#030311 53px,#050418 62px,#02010b 70px,#0f092c 77px,#010108 87px,#260c51 94px,#210c4a 99px,#02010b 104px,#02020e 108px,#280b53 111px,#540f6d 113px,#68166e 117px,#540f6d 120px,#290b54 122px,#03020f 125px,#02020c 128px,#10092d 130px,#440a68 132px,#7c1e6d 135px,#7d1e6c 139px,#460b69 142px,#060419 145px,#010108 149px,#0f092d 151px,#2e0a5a 152px,#5e136e 153px,#c13a51 155px,#ea6529 157px,#e9632a 161px,#bc3854 163px,#59106e 165px,#0d0829 167px,#010108 169px,#050416 172px,#290b54 174px,#4d0d6c 175px,#9c2964 178px,#a42c61 182px,#67166e 185px,#450a69 186px,#0c0826 188px,#010106 191px,#02020e 195px,#240c4f 198px,#4d0d6c 200px,#61136e 204px,#4d0d6c 207px,#250c4f 209px,#02020e 212px,#030312 217px,#330a5e 220px,#6d186e 223px,#69176e 228px,#440a69 230px,#07051b 233px,#010005 237px,#050416 240px,#440a69 244px,#59106e 248px,#4a0c6b 251px,#250c4f 253px,#02020e 256px,#02020c 262px,#1f0c47 265px,#460b69 267px,#58106e 272px,#370961 275px,#06051a 278px,#010005 283px,#010005 284px)"></i><i style="top:44px;height:6px;background:linear-gradient(90deg,#010005 0px,#030210 14px,#210c4a 20px,#180c3c 25px,#050417 29px,#200c49 36px,#130a33 41px,#010106 46px,#040314 62px,#02010a 70px,#0c0827 78px,#010108 87px,#220c4b 94px,#1c0c43 99px,#010106 105px,#08061e 109px,#3d0965 112px,#5d126e 115px,#56106d 119px,#380962 121px,#060419 124px,#010108 127px,#10092d 130px,#3e0966 132px,#6e186e 135px,#6d186e 139px,#3a0964 142px,#040315 145px,#010109 149px,#0f092d 151px,#2d0b59 152px,#5a116e 153px,#b43359 155px,#de5338 157px,#dc513a 161px,#ad305d 163px,#510e6c 165px,#0c0827 167px,#010108 169px,#040313 172px,#220c4c 174px,#430a68 175px,#902468 178px,#992865 182px,#65156e 185px,#450b69 186px,#0e092a 188px,#01010a 190px,#02010b 195px,#1c0c43 198px,#450b69 200px,#5d126e 204px,#500d6c 207px,#2c0b57 209px,#030312 212px,#02020d 217px,#230c4d 220px,#4e0d6c 222px,#65156e 226px,#550f6d 229px,#2d0b59 231px,#030311 234px,#01010a 239px,#150b37 242px,#440a68 245px,#4a0c6b 250px,#250c4f 253px,#030311 256px,#02010a 262px,#180c3d 265px,#460b69 268px,#4a0c6b 273px,#210c4a 276px,#03020f 279px,#010005 284px)"></i><i style="top:50px;height:6px;background:linear-gradient(90deg,#010005 0px,#02010a 13px,#210c4a 20px,#180c3c 25px,#050417 29px,#1b0c42 36px,#120a31 41px,#010106 46px,#040315 62px,#02010a 70px,#0e0829 78px,#02010a 87px,#250c50 94px,#1f0c47 99px,#02020c 104px,#040313 108px,#2d0b59 111px,#59116e 114px,#550f6d 119px,#360961 121px,#060419 124px,#010109 127px,#140b34 130px,#420a68 132px,#6d186e 135px,#61146e 140px,#380962 142px,#040314 145px,#02010a 149px,#120a32 151px,#320a5d 152px,#5d126e 153px,#b3325a 155px,#da4e3c 157px,#d84c3e 161px,#aa2f5e 163px,#520e6d 165px,#0e0829 167px,#010109 169px,#040312 172px,#210c4a 174px,#410a67 175px,#8e2469 178px,#9a2865 182px,#6d186e 185px,#2e0a59 187px,#06051a 189px,#010005 193px,#090721 197px,#3e0965 200px,#5b116e 204px,#460b69 208px,#200c49 210px,#02020d 213px,#02010a 217px,#1a0c3f 220px,#450a69 222px,#62146e 225px,#59116e 229px,#390963 231px,#06051a 234px,#010106 238px,#07051c 241px,#400a67 245px,#4a0c6b 250px,#2c0b57 253px,#02020c 257px,#02010a 262px,#160b39 265px,#430a68 268px,#430a68 274px,#150b37 277px,#02010a 280px,#010005 284px)"></i><i style="top:56px;height:8px;background:linear-gradient(90deg,#010005 0px,#02020c 13px,#210c4a 20px,#190c3e 25px,#050417 29px,#180c3d 38px,#010005 48px,#050417 62px,#02010a 70px,#0f092c 78px,#02020d 87px,#2a0b55 94px,#220c4c 99px,#010108 105px,#050418 108px,#460b69 112px,#5d126e 116px,#460b6a 120px,#1f0c47 122px,#02020e 125px,#040312 128px,#2f0a5b 131px,#67166e 134px,#69176e 139px,#360961 142px,#050417 145px,#010107 148px,#06051b 150px,#380962 152px,#8d2369 154px,#ca404a 156px,#d94d3d 160px,#c43c4f 162px,#530f6d 165px,#0f092c 167px,#02010a 169px,#040312 172px,#1f0c47 174px,#3e0966 175px,#8c2369 178px,#9a2865 182px,#741b6e 185px,#380962 187px,#0a0722 189px,#010106 192px,#03020e 196px,#210c4a 199px,#450a69 201px,#57106d 206px,#3d0965 209px,#040313 213px,#010108 217px,#120a32 220px,#3a0963 222px,#5e126e 225px,#530e6d 230px,#310a5c 232px,#050415 235px,#010108 239px,#0e092a 242px,#3a0964 245px,#4a0c6b 250px,#320a5e 253px,#030312 257px,#02010a 262px,#140b35 265px,#400a67 268px,#440a68 274px,#1a0c3f 277px,#02020d 280px,#010005 284px)"></i><i style="top:64px;height:6px;background:linear-gradient(90deg,#010005 0px,#02020c 13px,#1f0c48 19px,#190c3e 25px,#030311 30px,#1a0c3f 38px,#0b0724 44px,#010106 49px,#050417 62px,#02010b 70px,#110a30 78px,#030210 87px,#2b0b57 93px,#260c51 99px,#02020e 104px,#030311 107px,#250c4f 110px,#56106d 113px,#520e6d 119px,#320a5d 121px,#060419 124px,#02020d 127px,#1e0c45 130px,#4c0c6b 132px,#6d186e 135px,#5c126e 140px,#350a60 142px,#050417 145px,#010108 148px,#08061f 150px,#3d0965 152px,#8f2469 154px,#c63d4d 156px,#d44842 160px,#bf3952 162px,#540f6d 165px,#110a2f 167px,#02010b 169px,#040312 172px,#1e0c45 174px,#3c0964 175px,#89226a 178px,#9b2865 182px,#7b1d6d 185px,#430a68 187px,#0f092c 189px,#010106 192px,#050416 197px,#3d0965 201px,#550f6d 205px,#430a68 209px,#07051c 213px,#010108 217px,#0c0827 220px,#420a68 223px,#5e126e 227px,#4d0c6b 231px,#290b54 233px,#040312 236px,#02020c 240px,#160b39 243px,#400a67 246px,#420a68 252px,#1a0c3f 255px,#02020d 258px,#030210 263px,#3d0965 268px,#450a69 274px,#1f0c48 277px,#030211 280px,#010005 284px)"></i><i style="top:70px;height:6px;background:linear-gradient(90deg,#010005 0px,#02020e 13px,#1f0c48 19px,#190c3e 25px,#02020e 30px,#10092e 35px,#1c0c43 40px,#0e092a 45px,#010108 50px,#060419 62px,#02020c 70px,#120a32 78px,#040314 87px,#2f0a5b 93px,#290b54 99px,#03020f 104px,#040314 107px,#3e0966 111px,#5d126e 115px,#510e6d 119px,#310a5c 121px,#060419 124px,#03020f 127px,#230c4c 130px,#4f0d6c 132px,#6d186e 136px,#5b116e 140px,#330a5e 142px,#050417 145px,#01010a 148px,#0a0723 150px,#410a67 152px,#8f2469 154px,#c33b4f 156px,#cf4446 160px,#ba3655 162px,#540f6d 165px,#2e0a5a 166px,#050418 168px,#02010a 171px,#0b0724 173px,#3a0963 175px,#88226a 178px,#9b2964 182px,#801f6c 185px,#4c0c6b 187px,#07051b 190px,#010005 194px,#090620 198px,#360960 201px,#520e6d 205px,#460b69 209px,#180c3c 212px,#02020c 215px,#030311 219px,#250c50 222px,#540f6d 225px,#510e6c 231px,#330a5e 233px,#06051a 236px,#02010a 240px,#210c4a 244px,#440a69 247px,#3c0965 253px,#030312 258px,#02010a 262px,#10092e 265px,#3a0964 268px,#450a69 274px,#230c4e 277px,#02010b 281px,#010005 284px)"></i><i style="top:76px;height:6px;background:linear-gradient(90deg,#010005 0px,#02020e 13px,#1f0c48 19px,#1a0c3f 25px,#02010a 31px,#1f0c47 40px,#120a31 46px,#02010b 51px,#050418 63px,#02020e 71px,#140b35 78px,#07051c 87px,#340a5f 93px,#2b0b57 99px,#030210 104px,#060418 107px,#420a68 111px,#5d126e 115px,#500d6c 119px,#2f0a5b 121px,#060419 124px,#030312 127px,#280b53 130px,#5f136e 133px,#6a176e 138px,#480b6a 141px,#0d0829 144px,#010108 147px,#0d0827 150px,#450a69 152px,#ae305c 155px,#cc4248 158px,#b73457 162px,#550f6d 165px,#300a5b 166px,#06051a 168px,#02010a 171px,#0b0724 173px,#370962 175px,#86216b 178px,#9b2964 182px,#85206b 185px,#360a60 188px,#0a0722 190px,#010106 193px,#03020f 197px,#2e0a5a 201px,#500d6c 205px,#3e0966 210px,#030210 215px,#02020e 219px,#1d0c44 222px,#410a67 224px,#5a116e 228px,#4a0c6b 232px,#170b3b 235px,#02020c 238px,#030211 241px,#390963 246px,#440a68 252px,#250c50 255px,#02020d 259px,#03020f 263px,#370961 268px,#450a69 274px,#270b53 277px,#02020e 281px,#010005 284px)"></i><i style="top:82px;height:4px;background:linear-gradient(90deg,#010005 0px,#030210 13px,#1f0c48 19px,#1b0c41 25px,#010108 31px,#0a0723 36px,#220c4b 41px,#1a0c40 46px,#02020d 52px,#050417 64px,#02010a 71px,#150b37 79px,#0d0829 87px,#380962 93px,#2d0b59 99px,#030210 104px,#07051c 107px,#460b69 111px,#5d126e 115px,#4f0d6c 119px,#2e0a5a 121px,#060419 124px,#040314 127px,#2c0b57 130px,#61136e 133px,#62146e 139px,#310a5c 142px,#050417 145px,#02020c 148px,#0f092c 150px,#490b6a 152px,#ad305d 155px,#ca404a 158px,#b53458 162px,#56106d 165px,#310a5d 166px,#07051c 168px,#02010a 171px,#0b0724 173px,#360961 175px,#84206b 178px,#9b2964 182px,#88226a 185px,#3d0965 188px,#0d0829 190px,#010106 193px,#050418 198px,#380962 202px,#4e0d6c 207px,#340a5f 211px,#040314 215px,#02020c 219px,#170b3b 222px,#490b6a 225px,#540f6d 231px,#310a5d 234px,#030210 238px,#030210 241px,#3e0966 247px,#400a67 253px,#1c0c42 256px,#030311 259px,#02020e 263px,#3e0966 269px,#400a67 275px,#1c0c42 278px,#030210 281px,#010005 284px)"></i><i style="top:86px;height:4px;background:linear-gradient(90deg,#010005 0px,#030210 13px,#1f0c48 19px,#1b0c41 25px,#010108 31px,#09061f 36px,#2a0b56 41px,#220c4c 47px,#040313 52px,#030312 66px,#030311 73px,#160b39 80px,#190c3e 88px,#3b0964 93px,#2d0a59 99px,#030311 104px,#090620 107px,#370961 110px,#5d126e 114px,#4e0d6c 119px,#1b0c41 122px,#030210 125px,#0c0827 128px,#440a69 131px,#6a176e 135px,#61146e 139px,#300a5b 142px,#050417 145px,#02020c 148px,#100a2e 150px,#4b0c6b 152px,#ad305d 155px,#c83f4c 158px,#b33359 162px,#57106e 165px,#330a5e 166px,#08051d 168px,#02010a 171px,#0a0722 173px,#340a5f 175px,#83206b 178px,#9b2964 182px,#8a226a 185px,#430a68 188px,#060418 191px,#010106 195px,#0a0723 199px,#3f0a66 203px,#490b6a 209px,#290b54 212px,#03020f 216px,#030312 220px,#440a68 225px,#56106d 230px,#370961 234px,#040314 238px,#02020e 241px,#3c0965 247px,#400a67 253px,#1f0c48 256px,#02020c 260px,#060419 264px,#3d0965 269px,#400a67 275px,#1f0c47 278px,#02010a 282px,#010005 284px)"></i><i style="top:90px;height:6px;background:linear-gradient(90deg,#010005 0px,#030210 13px,#1f0c47 19px,#1a0c3f 25px,#010108 31px,#040313 35px,#320a5d 40px,#360a60 47px,#050416 53px,#050417 66px,#02020e 73px,#190c3d 80px,#260c50 88px,#3c0965 96px,#210c4b 100px,#040312 104px,#0d0827 107px,#3e0965 110px,#5d126e 114px,#4c0c6b 119px,#170c3b 122px,#030210 125px,#0f092b 128px,#470b6a 131px,#69176e 135px,#540f6d 140px,#2f0a5b 142px,#050417 145px,#02020e 148px,#120a32 150px,#4f0d6c 152px,#ad305d 155px,#c63d4d 158px,#b1325a 162px,#58106e 165px,#340a5f 166px,#08061f 168px,#02010b 171px,#0a0722 173px,#340a5f 175px,#82206c 178px,#9c2964 181px,#8e2469 185px,#4a0c6b 188px,#08051d 191px,#010106 195px,#08061f 199px,#3b0964 203px,#480b6a 209px,#2e0a5a 212px,#040312 216px,#03020f 220px,#2d0b59 224px,#540f6d 228px,#490b6a 233px,#1b0c42 236px,#030211 239px,#050416 242px,#390963 247px,#400a67 253px,#230c4e 256px,#03020e 260px,#050417 264px,#3a0964 269px,#400a67 275px,#210c4b 278px,#02020d 282px,#010106 284px)"></i><i style="top:96px;height:6px;background:linear-gradient(90deg,#010005 0px,#030210 13px,#1c0c43 20px,#130a33 26px,#010108 32px,#0a0722 36px,#3c0965 40px,#480b6a 46px,#2e0a59 49px,#06051b 53px,#0b0724 65px,#02010a 73px,#1e0c45 81px,#3d0965 93px,#280b54 99px,#040314 104px,#140b36 107px,#470b6a 110px,#5d126e 114px,#520e6d 118px,#220c4b 121px,#040313 124px,#08061e 127px,#4a0b6b 131px,#69166e 135px,#530e6d 140px,#2d0b59 142px,#050417 145px,#030210 148px,#150b37 150px,#520e6d 152px,#ab2f5e 155px,#c33b4f 159px,#af315c 162px,#59106e 165px,#360961 166px,#090621 168px,#02020c 171px,#0a0722 173px,#340a5f 175px,#84206b 178px,#a02a62 181px,#952667 185px,#550f6d 188px,#1c0c42 190px,#040313 192px,#010109 197px,#190c3f 201px,#3e0966 204px,#440a68 210px,#240c4f 213px,#03020e 217px,#050416 221px,#430a68 226px,#510e6c 232px,#350a60 235px,#050417 239px,#040314 242px,#360960 247px,#400a67 253px,#290b54 256px,#040313 260px,#050417 264px,#380962 269px,#3b0964 276px,#03020f 282px,#010106 284px)"></i><i style="top:102px;height:8px;background:linear-gradient(90deg,#010005 0px,#030210 13px,#190c3d 20px,#100a2e 26px,#010108 32px,#0b0724 36px,#3c0965 40px,#490b6a 46px,#230c4d 50px,#08061e 53px,#110a30 65px,#010108 73px,#170b3b 79px,#4f0d6c 90px,#240c4e 99px,#06051a 103px,#120a31 106px,#420a68 109px,#5d126e 113px,#4c0c6b 118px,#1a0c3f 121px,#030311 124px,#0a0722 127px,#3b0964 130px,#66156e 134px,#5c126e 139px,#2c0b57 142px,#050417 145px,#040313 148px,#190c3e 150px,#350a60 151px,#771c6d 153px,#b73557 156px,#b83556 161px,#7a1d6d 164px,#380962 166px,#0a0723 168px,#02020c 171px,#0a0723 173px,#340a5f 175px,#85216b 178px,#a42c61 181px,#9c2964 185px,#60136e 188px,#250c50 190px,#06051a 192px,#010106 196px,#0a0723 200px,#380962 204px,#3e0966 211px,#1d0c44 214px,#02020c 218px,#07051d 222px,#3b0964 226px,#500d6c 231px,#3c0965 235px,#040315 240px,#07051d 243px,#3a0963 248px,#370961 255px,#030210 261px,#050416 264px,#350960 269px,#3b0964 276px,#110a2f 280px,#010107 284px)"></i><i style="top:110px;height:6px;background:linear-gradient(90deg,#010005 0px,#030210 13px,#150b37 20px,#0a0723 27px,#010109 33px,#140b34 37px,#3b0964 40px,#490b6a 46px,#260c51 50px,#07051b 54px,#190c3d 64px,#010108 74px,#120a32 79px,#3d0965 85px,#61136e 90px,#280b54 98px,#08061e 103px,#1b0c42 106px,#4b0c6b 109px,#5d126e 115px,#350a60 119px,#040315 123px,#07051b 126px,#420a68 130px,#65156e 134px,#58106e 139px,#270b51 142px,#040315 145px,#040314 148px,#1c0c43 150px,#390963 151px,#932667 154px,#ba3655 157px,#b53458 161px,#791c6d 164px,#390963 166px,#0c0826 168px,#02020c 171px,#190c3e 174px,#510e6c 176px,#982865 179px,#a82e5f 184px,#84206b 187px,#4f0d6c 189px,#0a0722 192px,#010106 195px,#08061e 200px,#3a0963 205px,#380962 212px,#030211 218px,#050417 222px,#3e0966 227px,#4c0c6b 233px,#270b52 237px,#050416 241px,#0c0827 244px,#360961 248px,#390963 255px,#040314 261px,#090620 265px,#320a5e 269px,#3b0964 276px,#1f0c48 279px,#02020e 283px,#010108 284px)"></i><i style="top:116px;height:4px;background:linear-gradient(90deg,#010005 0px,#030210 13px,#130a33 21px,#040312 29px,#02020e 34px,#2f0a5b 39px,#4a0c6b 44px,#360961 49px,#07051b 54px,#1e0c45 63px,#100a2e 69px,#010109 74px,#07051c 78px,#3b0964 84px,#6c186e 90px,#2f0a5b 97px,#0b0724 102px,#160b38 105px,#440a69 108px,#5d126e 113px,#4d0d6c 117px,#1d0c45 120px,#040315 123px,#0e0829 126px,#3e0965 129px,#61146e 133px,#57106d 138px,#2a0b55 141px,#02020e 145px,#050417 148px,#1f0c47 150px,#3c0965 151px,#932667 154px,#b83556 157px,#b2325a 161px,#781c6d 164px,#3b0964 166px,#0d0827 168px,#02020e 171px,#190c3e 174px,#510e6c 176px,#9a2865 179px,#ad305c 183px,#9d2964 186px,#58106e 189px,#1e0c46 191px,#050416 193px,#02010a 198px,#160b39 202px,#3c0965 206px,#310a5d 213px,#02020d 219px,#090620 223px,#390963 227px,#4b0c6b 233px,#2d0b59 237px,#06051a 241px,#0b0725 244px,#330a5e 248px,#390963 255px,#140b34 259px,#030312 262px,#09061f 265px,#380962 270px,#360961 277px,#030210 283px,#02010a 284px)"></i><i style="top:120px;height:2px;background:linear-gradient(90deg,#010005 0px,#040312 14px,#0e082a 23px,#02010a 33px,#140b34 37px,#3b0964 40px,#4a0c6b 46px,#290b55 50px,#07051c 54px,#210c4a 63px,#130a33 69px,#010108 75px,#0b0724 79px,#3d0965 84px,#711a6e 90px,#310a5c 97px,#0b0725 102px,#1a0c3f 105px,#490b6a 108px,#5d126e 113px,#4b0c6b 117px,#1a0c3f 120px,#050417 123px,#140b34 126px,#450a69 129px,#60136e 133px,#510e6c 138px,#210c4a 141px,#040312 144px,#02020e 147px,#0e092b 149px,#3e0966 151px,#932667 154px,#b63457 157px,#b1325a 161px,#781c6d 164px,#3b0964 166px,#0d0829 168px,#02020e 171px,#0b0724 173px,#510e6c 176px,#9a2865 179px,#af315c 183px,#a02a63 186px,#3f0a66 190px,#0f092c 192px,#010108 195px,#050418 200px,#340a5f 205px,#390963 212px,#120a32 216px,#02020c 220px,#08051d 223px,#360961 227px,#4a0c6b 233px,#310a5c 237px,#07051c 241px,#0b0724 244px,#380962 249px,#340a5f 256px,#040313 262px,#09061f 265px,#370961 270px,#360961 277px,#02010a 284px)"></i><i style="top:122px;height:4px;background:linear-gradient(90deg,#010005 0px,#02020e 34px,#2f0a5b 39px,#4a0c6b 44px,#380962 49px,#08051d 54px,#210c4a 63px,#140b34 69px,#010109 75px,#0a0722 79px,#3d0965 84px,#711a6e 90px,#320a5d 97px,#0d0829 102px,#1f0c47 105px,#4b0c6b 108px,#5c126e 114px,#380962 118px,#08051d 122px,#0f092d 125px,#3d0965 128px,#5d126e 132px,#530f6d 137px,#280b53 140px,#02020e 144px,#060418 148px,#3f0a66 151px,#a62d60 155px,#b53358 160px,#912568 163px,#3b0964 166px,#050417 169px,#040314 172px,#310a5d 175px,#6c186e 177px,#a52c60 180px,#a92e5e 185px,#7b1d6d 188px,#420a68 190px,#06051a 193px,#010106 197px,#0a0723 201px,#310a5d 205px,#390963 212px,#150b37 216px,#02020c 220px,#0d0829 224px,#3d0965 228px,#440a68 235px,#260c50 238px,#06051a 242px,#110a30 245px,#370961 249px,#340a5f 256px,#040315 262px,#08051d 265px,#340a5f 270px,#350960 277px,#02020c 284px)"></i><i style="top:126px;height:4px;background:linear-gradient(90deg,#010005 0px,#02020e 34px,#2f0a5b 39px,#4a0c6b 44px,#390963 49px,#09061f 54px,#160b39 59px,#1c0c42 67px,#02010a 75px,#0a0722 79px,#3b0964 84px,#6f196e 90px,#320a5e 97px,#10092e 102px,#330a5e 106px,#5a116e 111px,#4d0c6b 116px,#210c4a 119px,#08061f 122px,#180c3c 125px,#460b69 128px,#5b116e 133px,#3e0965 138px,#07051c 142px,#010109 146px,#110a2f 149px,#410a67 151px,#a42c61 155px,#b2325a 160px,#902468 163px,#3d0965 166px,#0e092b 168px,#02020e 171px,#090620 173px,#490c6a 176px,#a02b62 180px,#a82e5f 185px,#7e1e6c 188px,#490b6a 190px,#09061f 193px,#010106 197px,#090620 201px,#360961 206px,#350a60 213px,#02020e 220px,#0b0724 224px,#380962 228px,#440a68 235px,#1d0c44 239px,#07051d 242px,#0f092d 245px,#340a5f 249px,#340a5f 256px,#040314 263px,#160b38 267px,#360961 271px,#2d0b59 278px,#02020c 284px)"></i><i style="top:130px;height:4px;background:linear-gradient(90deg,#010005 0px,#02020e 34px,#2e0a5a 39px,#4a0c6b 44px,#3b0964 49px,#0a0722 54px,#1e0c45 64px,#0d0829 70px,#02010b 76px,#1a0c3f 81px,#4e0d6c 86px,#6b176e 91px,#320a5e 97px,#140b34 102px,#4d0d6c 108px,#4f0d6c 115px,#2c0b57 118px,#0c0826 121px,#160b38 124px,#400a67 127px,#59106e 132px,#400a67 137px,#040314 142px,#02010a 146px,#120a31 149px,#440a69 151px,#a32c61 155px,#b0315b 160px,#8f2469 163px,#3d0965 166px,#060419 169px,#02020e 172px,#0e092a 174px,#390a63 176px,#972766 180px,#a72d60 185px,#8a226a 188px,#3e0a66 191px,#06051a 194px,#010108 198px,#0f092c 202px,#340a5f 206px,#360961 213px,#03020f 220px,#090620 224px,#3c0965 229px,#3e0966 236px,#150b38 240px,#08051d 243px,#360961 250px,#2f0a5b 257px,#040315 263px,#140b35 267px,#320a5e 271px,#2b0b57 278px,#02020e 284px)"></i><i style="top:134px;height:4px;background:linear-gradient(90deg,#010005 0px,#02020e 34px,#2d0b59 39px,#4a0c6b 44px,#3b0964 49px,#090621 55px,#1c0c43 64px,#0d0829 70px,#02010a 75px,#110a30 80px,#420a68 85px,#6b176e 90px,#330a5e 97px,#170c3b 102px,#4d0d6c 108px,#4b0c6b 115px,#260c51 118px,#0e092a 121px,#1f0c47 124px,#460b6a 127px,#510e6d 134px,#250c50 138px,#02020e 142px,#030210 147px,#290b54 150px,#62146e 152px,#a22b62 155px,#ae305c 160px,#8d2369 163px,#3e0966 166px,#060419 169px,#02010b 172px,#140b35 175px,#430a68 177px,#992865 181px,#9d2964 187px,#510e6c 191px,#1d0c44 193px,#02020d 196px,#030311 200px,#310a5d 206px,#310a5d 214px,#030311 220px,#07051c 224px,#380962 229px,#3e0966 236px,#190c3e 240px,#090620 243px,#1d0c44 247px,#380962 252px,#260c51 258px,#050417 263px,#120a31 267px,#2f0a5a 271px,#2a0b55 278px,#03020f 284px)"></i><i style="top:138px;height:4px;background:linear-gradient(90deg,#010005 0px,#02020e 34px,#2d0b59 39px,#4a0c6b 44px,#3d0965 49px,#0a0722 55px,#1b0c41 65px,#02010a 75px,#100a2e 80px,#400a67 85px,#68166e 90px,#2b0b57 98px,#1c0c43 102px,#4d0d6c 108px,#460b6a 115px,#120a31 120px,#1c0c43 123px,#4a0c6b 127px,#4b0c6b 134px,#290b54 137px,#030312 141px,#02010a 146px,#150b38 149px,#470b6a 151px,#a02b62 155px,#ac2f5d 160px,#8c2369 163px,#3e0966 166px,#06051a 169px,#02020d 173px,#1b0c41 176px,#4d0d6b 178px,#9a2865 182px,#972766 188px,#480b6a 192px,#0a0722 195px,#010108 198px,#08061e 202px,#330a5e 207px,#2e0a5a 215px,#030210 221px,#08051d 225px,#360961 230px,#3c0965 237px,#0e092a 244px,#350a60 251px,#260c51 258px,#060418 263px,#110a30 267px,#2f0a5a 272px,#210c4a 279px,#030210 284px)"></i><i style="top:142px;height:4px;background:linear-gradient(90deg,#010005 0px,#02020e 34px,#2d0b59 39px,#4a0c6b 44px,#340a5f 50px,#0b0725 55px,#190c3e 66px,#02010a 75px,#10092d 80px,#490b6a 86px,#66156e 91px,#2c0b58 98px,#210c4b 102px,#4f0d6c 109px,#420a68 115px,#140b36 120px,#4c0c6b 127px,#440a68 134px,#1e0c46 137px,#02020c 141px,#02010a 146px,#170b3a 149px,#490b6a 151px,#9f2a63 155px,#a52d60 161px,#741b6e 164px,#3e0966 166px,#07051b 169px,#010109 173px,#110a30 176px,#3d0a65 178px,#902568 182px,#9a2865 188px,#71196e 191px,#3f0a66 193px,#08051d 196px,#02010a 200px,#1a0c3f 205px,#370961 209px,#2c0b58 216px,#030210 222px,#07051d 226px,#340a5f 231px,#350a60 239px,#160b39 245px,#340a5f 252px,#250c50 258px,#060419 263px,#110a30 267px,#2c0b57 272px,#1f0c47 279px,#030210 284px)"></i><i style="top:146px;height:4px;background:linear-gradient(90deg,#010005 0px,#030210 34px,#3f0a66 41px,#430a68 48px,#1e0c45 52px,#0d0827 56px,#1a0c3f 65px,#02020e 76px,#2a0b55 83px,#63146e 89px,#510e6d 94px,#260c51 101px,#4f0d6c 110px,#3f0966 115px,#1a0c3f 120px,#4a0c6b 126px,#460b69 133px,#230c4e 136px,#030311 140px,#02020d 146px,#1a0c3f 149px,#4d0c6b 151px,#a02a62 155px,#a52d60 161px,#751b6e 164px,#410a67 166px,#08061f 169px,#010109 173px,#0c0826 176px,#480b6a 179px,#932667 183px,#972766 189px,#510e6c 193px,#200c49 195px,#030311 198px,#040312 202px,#360961 209px,#2d0b59 217px,#030311 223px,#08051d 227px,#330a5e 232px,#380962 240px,#230c4d 246px,#340a5f 255px,#160b39 260px,#07051b 264px,#2b0b56 272px,#1f0c48 279px,#040312 284px)"></i><i style="top:150px;height:4px;background:linear-gradient(90deg,#010108 0px,#040313 34px,#3b0964 41px,#3a0964 49px,#0f092c 55px,#190c3e 67px,#030311 75px,#120a31 80px,#490b6a 86px,#66156e 91px,#2e0a5a 101px,#4f0d6c 111px,#2b0b56 117px,#210c4a 120px,#4d0d6c 127px,#410a67 133px,#060419 139px,#02020d 145px,#10092d 148px,#510e6d 151px,#a12b62 155px,#a62d60 161px,#781c6d 164px,#450a69 166px,#0b0725 169px,#02020d 173px,#090620 176px,#3a0963 179px,#87216a 183px,#932567 189px,#5d126e 193px,#2f0a5b 195px,#07051b 198px,#040312 202px,#390963 210px,#370961 217px,#050416 224px,#0a0722 228px,#360961 233px,#390962 243px,#310a5c 257px,#090621 264px,#2d0a59 272px,#220c4b 279px,#050417 284px)"></i><i style="top:154px;height:4px;background:linear-gradient(90deg,#02010b 0px,#050416 34px,#360961 41px,#370961 49px,#0d0829 56px,#110a2f 68px,#040314 76px,#2a0b55 84px,#5b116e 90px,#2f0a5b 103px,#390a62 113px,#1c0c43 120px,#3c0a64 127px,#2a0b55 134px,#040314 140px,#050417 146px,#210c4a 149px,#4f0d6c 151px,#972766 155px,#9b2964 161px,#5c126e 165px,#2d0b58 167px,#07051c 170px,#060419 175px,#210c4a 178px,#4a0c6b 180px,#82206c 184px,#821f6c 190px,#460b69 194px,#090621 198px,#040314 202px,#1f0c47 207px,#3e0966 211px,#340a5f 219px,#07051c 225px,#0c0826 229px,#380962 234px,#420a67 248px,#2f0a5a 258px,#0d0828 264px,#2f0a5b 272px,#250c50 279px,#08051d 284px)"></i><i style="top:158px;height:2px;background:linear-gradient(90deg,#02020e 0px,#050418 34px,#370961 42px,#2e0a5a 50px,#0b0725 56px,#08051d 71px,#08061e 79px,#380962 87px,#4c0c6b 92px,#270b52 104px,#230c4c 115px,#160b39 120px,#2c0b58 129px,#180c3d 135px,#040313 141px,#0b0724 147px,#360961 150px,#83206b 154px,#952667 160px,#6c186e 164px,#2b0b57 167px,#09061f 170px,#07051c 175px,#340a5f 179px,#7a1d6d 184px,#781c6d 190px,#440a68 194px,#0b0724 198px,#06051a 203px,#3c0964 211px,#380962 219px,#08051d 226px,#10092d 230px,#390963 235px,#450a69 249px,#270b52 259px,#0e092b 264px,#2e0a5a 272px,#250c50 279px,#0a0722 284px)"></i><i style="top:160px;height:2px;background:linear-gradient(90deg,#030210 0px,#06051a 34px,#350a60 42px,#2c0b58 50px,#090621 57px,#07051c 79px,#380a61 91px,#200c49 107px,#130a33 118px,#200c49 131px,#040314 142px,#0c0826 147px,#350a60 150px,#7d1e6d 154px,#8d2369 160px,#68166e 164px,#2b0b57 167px,#0a0722 170px,#08061e 175px,#320a5e 179px,#741a6e 184px,#6c186e 191px,#2f0a5b 195px,#08061e 199px,#09061f 204px,#330a5e 211px,#290b55 220px,#08061e 226px,#140b36 231px,#350a60 236px,#380962 250px,#220c4b 259px,#0e092b 264px,#280b53 273px,#1b0c42 280px,#0a0722 284px)"></i><i style="top:162px;height:2px;background:linear-gradient(90deg,#040312 0px,#07051b 34px,#310a5d 42px,#2a0b56 50px,#08051d 57px,#07051c 81px,#220c4b 92px,#170b3b 110px,#110a30 122px,#140b36 133px,#050417 143px,#0d0829 147px,#480b6a 151px,#801f6c 155px,#7c1d6d 162px,#3e0966 166px,#0b0724 170px,#090621 175px,#310a5d 179px,#6d186e 184px,#66166e 191px,#2f0a5b 195px,#090621 199px,#0c0826 205px,#2a0b56 212px,#220c4b 220px,#08061e 227px,#2e0a5a 238px,#280b53 255px,#0f092c 265px,#210c4a 274px,#100a2e 282px,#0b0724 284px)"></i><i style="top:164px;height:2px;background:linear-gradient(90deg,#040313 0px,#07051c 34px,#2d0b59 43px,#200c49 51px,#060419 58px,#0a0722 85px,#100a2f 99px,#0a0723 136px,#0a0722 146px,#320a5e 150px,#781c6d 155px,#751b6e 162px,#3d0965 166px,#0c0826 170px,#0b0724 175px,#3f0a66 180px,#6a176e 185px,#61136e 191px,#2d0b59 195px,#0a0723 199px,#0f092c 206px,#220c4b 214px,#130a33 222px,#0b0724 229px,#230c4c 238px,#1f0c48 255px,#0e092b 265px,#1b0c41 276px,#0b0724 284px)"></i><i style="top:166px;height:2px;background:linear-gradient(90deg,#050416 0px,#09061f 35px,#1f0c47 44px,#140b34 52px,#050418 61px,#0b0724 146px,#310a5d 150px,#711a6e 155px,#6e186e 162px,#3b0964 166px,#0e092a 170px,#0c0826 175px,#3d0965 180px,#63146e 185px,#520e6d 192px,#1f0c48 196px,#0a0722 200px,#180c3c 218px,#0b0724 229px,#1d0c44 244px,#100a2e 267px,#100a2e 281px,#0c0826 284px)"></i><i style="top:168px;height:2px;background:linear-gradient(90deg,#050418 0px,#0a0723 37px,#0e092a 51px,#07051b 72px,#0c0826 146px,#390963 151px,#62146e 156px,#56106d 163px,#250c50 167px,#0b0725 171px,#110a30 176px,#480b6a 182px,#510e6c 190px,#270b52 195px,#0b0724 200px,#0e092a 222px,#0e092a 261px,#0c0826 284px)"></i><i style="top:170px;height:2px;background:linear-gradient(90deg,#07051c 0px,#0d0827 146px,#420a67 154px,#3f0a66 163px,#0d0827 171px,#150b37 177px,#3d0a65 184px,#2f0a5a 193px,#0d0827 200px,#0e092a 284px)"></i><i style="top:172px;height:2px;background:linear-gradient(90deg,#10092d 0px,#1f0c46 148px,#3e0966 157px,#280b52 167px,#1d0b44 175px,#3a0963 187px,#1d0b43 206px,#230b4b 284px)"></i><i style="top:174px;height:2px;background:linear-gradient(90deg,#1f0c47 0px,#350a60 170px,#440a68 284px)"></i><i style="top:176px;height:6px;background:linear-gradient(90deg,#150b38 0px,#330a5e 284px)"></i><i style="top:182px;height:4px;background:linear-gradient(90deg,#0e092a 0px,#230c4d 284px)"></i><i style="top:186px;height:4px;background:linear-gradient(90deg,#090621 0px,#120a31 284px)"></i><i style="top:190px;height:26px;background:#06051a"></i><i style="top:216px;height:2px;background:#010107"></i></div><div class="hm" style="left:856px;top:386px;width:285px;height:218px"><i style="top:0px;height:4px;background:linear-gradient(90deg,#010106 0px,#050417 11px,#390963 17px,#6a176e 23px,#5e126e 33px,#270b52 38px,#040314 43px,#050417 48px,#310a5c 52px,#71196e 55px,#c13a51 60px,#cb4149 68px,#982766 73px,#440a69 77px,#0a0722 81px,#02020e 86px,#160b39 90px,#470b6a 93px,#9d2964 99px,#a82e5f 107px,#7d1e6d 112px,#380962 116px,#08051d 120px,#040314 125px,#1e0c45 128px,#500e6c 130px,#b73557 133px,#ee6a24 135px,#f98c0b 136px,#fcab10 137px,#f3e45c 140px,#f1ee73 143px,#f2eb6b 146px,#fac52c 149px,#fcab0f 150px,#f98b0b 151px,#d64a40 153px,#6f196e 156px,#340a5f 158px,#08061e 161px,#050417 164px,#1b0c42 167px,#5d126e 170px,#ce4447 175px,#eb6529 180px,#dd5139 187px,#982766 191px,#4d0c6b 194px,#120a32 197px,#02020c 201px,#08051d 207px,#440a68 213px,#6c186e 219px,#60136e 228px,#290b55 233px,#040314 238px,#02010a 247px,#0e092b 252px,#470b6a 257px,#6d186e 263px,#5f136e 272px,#340a5f 276px,#040312 282px,#02010a 284px)"></i><i style="top:4px;height:4px;background:linear-gradient(90deg,#010106 0px,#050416 11px,#380962 17px,#67166e 23px,#62146e 32px,#320a5e 37px,#040314 43px,#050417 48px,#2f0a5b 52px,#6e186e 55px,#bd3854 60px,#c73e4c 68px,#952667 73px,#430a68 77px,#090621 81px,#02020e 86px,#150b38 90px,#460b6a 93px,#9c2964 99px,#a32c61 108px,#6c186e 113px,#360961 116px,#08051d 120px,#040314 125px,#1c0c43 128px,#4e0d6c 130px,#b43359 133px,#f8860f 136px,#fca40a 137px,#f5dc4e 140px,#f2e763 144px,#f5dc4e 147px,#fca40a 150px,#eb6429 152px,#8f2469 155px,#4e0d6c 157px,#0f092d 160px,#040314 163px,#10092d 166px,#440a68 169px,#a72d5f 173px,#e15635 177px,#e65e2e 185px,#c23b50 189px,#64156e 193px,#200c49 196px,#050417 199px,#03020f 205px,#1e0c45 210px,#4e0d6c 214px,#6d186e 221px,#57106e 229px,#290b55 233px,#040314 238px,#02010a 247px,#0e092b 252px,#470b6a 257px,#6d186e 263px,#5f136e 272px,#340a5f 276px,#040312 282px,#02010a 284px)"></i><i style="top:8px;height:6px;background:linear-gradient(90deg,#010106 0px,#040314 11px,#360961 17px,#67166e 24px,#59116e 33px,#310a5c 37px,#040312 43px,#050417 48px,#2d0b59 52px,#6a176e 55px,#b83557 60px,#c23b50 68px,#902568 73px,#400a67 77px,#09061f 81px,#02020e 86px,#150b37 90px,#450a69 93px,#9b2865 99px,#a52c60 107px,#7b1d6d 112px,#360961 116px,#08051d 120px,#040312 125px,#1b0c42 128px,#4c0c6b 130px,#af315b 133px,#f57d15 136px,#fb9a06 137px,#f7d23d 140px,#f5dc4d 145px,#fac52c 148px,#fb9a06 150px,#cf4446 153px,#6a176e 156px,#300a5c 158px,#08051d 161px,#09061f 165px,#2d0b59 168px,#741b6e 171px,#ca404a 175px,#e8602d 180px,#da4e3d 187px,#952667 191px,#4b0c6b 194px,#120a32 197px,#02020c 201px,#08051d 207px,#420a68 213px,#6a176e 219px,#5e126e 228px,#290b54 233px,#040314 238px,#02010a 247px,#0e092b 252px,#470b6a 257px,#6d186e 263px,#5f136e 272px,#340a5f 276px,#040312 282px,#02010a 284px)"></i><i style="top:14px;height:6px;background:linear-gradient(90deg,#010106 0px,#040314 11px,#330a5f 17px,#63146e 24px,#560f6d 33px,#2e0a5a 37px,#040312 43px,#050417 48px,#2b0b57 52px,#67166e 55px,#b1325a 60px,#bc3754 68px,#8b236a 73px,#3e0966 77px,#09061f 81px,#02020e 86px,#150b37 90px,#440a69 93px,#992865 99px,#9f2a63 108px,#6a176e 113px,#350a60 116px,#08051d 120px,#040312 125px,#1a0c40 128px,#490b6a 130px,#aa2f5e 133px,#f2751b 136px,#fa9008 137px,#fac52c 140px,#f8ce39 145px,#fca70c 149px,#fa8f09 150px,#c9404b 153px,#66166e 156px,#2e0a5a 158px,#08051d 161px,#08061e 165px,#2b0b57 168px,#721a6e 171px,#c83f4c 175px,#e65c2f 180px,#d74b3f 187px,#932567 191px,#4a0b6b 194px,#120a32 197px,#02020c 201px,#07051b 207px,#410a67 213px,#6a176e 220px,#5d126e 228px,#280b53 233px,#040314 238px,#02010a 247px,#0e092b 252px,#470b6a 257px,#6d186e 263px,#5f136e 272px,#340a5f 276px,#040312 282px,#02010a 284px)"></i><i style="top:20px;height:6px;background:linear-gradient(90deg,#010106 0px,#040314 11px,#3c0965 18px,#60136e 25px,#530e6d 33px,#2c0b58 37px,#040312 43px,#040415 48px,#290b54 52px,#62146e 55px,#ab2f5e 60px,#b1325a 69px,#741b6e 74px,#3b0964 77px,#08061e 81px,#02020e 86px,#150b37 90px,#440a68 93px,#962766 99px,#9d2964 108px,#68166e 113px,#340a5f 116px,#08051d 120px,#040312 125px,#190c3e 128px,#470b6a 130px,#a52c61 133px,#ef6c23 136px,#fb9c07 138px,#fac127 142px,#fbb71c 147px,#fb9a06 149px,#dd5139 152px,#82206c 155px,#460b69 157px,#0d0829 160px,#040313 163px,#0e092b 166px,#400a67 169px,#a02a62 173px,#da4e3c 177px,#e05536 185px,#bb3755 189px,#60136e 193px,#1e0c46 196px,#050417 199px,#02020e 205px,#1c0c43 210px,#4b0c6b 214px,#69176e 221px,#540f6d 229px,#280b53 233px,#040314 238px,#02010a 247px,#0e092b 252px,#470b6a 257px,#6d186e 263px,#5f136e 272px,#340a5f 276px,#040312 282px,#02010a 284px)"></i><i style="top:26px;height:6px;background:linear-gradient(90deg,#010106 0px,#040314 11px,#3a0963 18px,#5d126e 25px,#490b6a 34px,#160b39 39px,#02020c 45px,#08051d 49px,#390963 53px,#8f2468 58px,#b0315b 63px,#a42c61 70px,#4b0c6b 76px,#0e092a 80px,#02020c 85px,#140b35 90px,#420a68 93px,#952667 99px,#9b2964 108px,#67166e 113px,#330a5e 116px,#07051c 120px,#040312 125px,#180c3c 128px,#440a69 130px,#9f2a63 133px,#ea6429 136px,#fa9008 138px,#fcb418 142px,#fcab0f 147px,#fa8f09 149px,#d84c3e 152px,#7e1e6c 155px,#440a68 157px,#0d0828 160px,#040312 163px,#0e092b 166px,#57106d 170px,#c33b50 175px,#e15635 180px,#d24644 187px,#8e2469 191px,#470b6a 194px,#09061f 198px,#02010a 203px,#120a32 209px,#3f0a66 213px,#66156e 219px,#5a116e 228px,#260c51 233px,#02020e 239px,#030210 249px,#210c4a 254px,#520e6d 258px,#6f196e 265px,#550f6d 273px,#260c51 277px,#040312 282px,#02010a 284px)"></i><i style="top:32px;height:2px;background:linear-gradient(90deg,#010106 0px,#040312 11px,#3e0a66 19px,#56106d 27px,#3b0964 35px,#050417 42px,#040313 48px,#230c4c 52px,#58106e 55px,#9f2a63 61px,#982865 70px,#450b69 76px,#0d0827 80px,#02020c 85px,#130a33 90px,#4f0d6c 94px,#922567 100px,#8d2369 109px,#400a67 115px,#07051b 120px,#030311 125px,#160b39 128px,#59116e 131px,#b33359 134px,#ed6925 137px,#fa930b 140px,#fa930b 147px,#e05536 151px,#751b6e 155px,#3e0a66 157px,#0b0725 160px,#050416 164px,#180c3c 167px,#510e6c 170px,#b93656 175px,#d84c3e 180px,#c83f4b 187px,#86216b 191px,#420a68 194px,#08061e 198px,#02010b 204px,#110a30 209px,#450b69 214px,#61146e 221px,#4e0d6c 229px,#230c4e 233px,#040313 238px,#02020c 248px,#150b37 253px,#440a68 257px,#69176e 264px,#59116e 272px,#240c4f 277px,#040312 282px,#02010a 284px)"></i><i style="top:34px;height:2px;background:linear-gradient(90deg,#010108 0px,#050417 13px,#280a4f 23px,#210b49 34px,#040312 44px,#0c0826 51px,#3b0d5e 57px,#531267 66px,#330b59 74px,#050418 81px,#060419 88px,#400d62 97px,#4d1065 107px,#250a4c 114px,#03020f 121px,#060419 127px,#2d0b55 131px,#731a6a 135px,#a4305a 140px,#a02d5c 148px,#62146b 153px,#1e0b44 157px,#040312 161px,#07051b 166px,#430e63 172px,#781c6a 178px,#71196a 187px,#300b59 193px,#050418 198px,#03020f 206px,#310b59 218px,#280b51 229px,#02020d 239px,#040314 251px,#330b5a 261px,#2b0b54 273px,#02020d 283px,#02010b 284px)"></i><i style="top:36px;height:2px;background:linear-gradient(90deg,#040313 0px,#0b0725 24px,#1d0b43 38px,#0a0722 70px,#1d0c44 97px,#040312 121px,#0c0826 129px,#440b68 135px,#69166e 141px,#5e136e 149px,#2d0b58 154px,#08061e 159px,#07051c 167px,#3e0a65 177px,#420b67 189px,#170b3b 196px,#040315 203px,#130a33 213px,#260b50 223px,#170b3b 233px,#030311 243px,#0b0724 255px,#250b4f 265px,#190b3d 277px,#060419 284px)"></i><i style="top:38px;height:28px;background:linear-gradient(90deg,#07051b 0px,#0d0829 23px,#320a5e 36px,#240c4f 51px,#08051d 63px,#130a33 74px,#370961 85px,#2a0b55 100px,#07051b 113px,#0a0722 127px,#360960 132px,#85216b 138px,#932667 146px,#70196e 151px,#340a5f 155px,#0a0722 160px,#0c0826 167px,#4f0d6c 175px,#6e186e 183px,#5c126e 191px,#2b0b57 196px,#08061f 202px,#0d0829 209px,#370962 218px,#320a5e 231px,#07051b 242px,#0b0725 253px,#3b0964 262px,#3a0963 275px,#0b0725 284px)"></i><i style="top:66px;height:6px;background:linear-gradient(90deg,#07051b 0px,#0d0827 22px,#380962 35px,#2e0a5a 50px,#08051d 63px,#130b34 73px,#400a67 82px,#430a68 97px,#160b39 106px,#06051b 116px,#0a0723 127px,#370961 132px,#89226a 138px,#982766 146px,#731a6e 151px,#360961 155px,#0a0722 160px,#0d0829 167px,#4f0d6c 174px,#7c1e6d 181px,#70196e 190px,#320a5e 196px,#090621 202px,#0e092a 209px,#3e0a66 218px,#390963 231px,#07051b 242px,#0a0723 252px,#430a68 261px,#510e6c 272px,#2c0b58 279px,#0d0828 284px)"></i><i style="top:72px;height:6px;background:linear-gradient(90deg,#07051b 0px,#0e092a 22px,#410a67 33px,#420a68 48px,#090621 62px,#0f092d 71px,#490c6a 80px,#60136e 91px,#410a67 101px,#0a0722 111px,#09061f 126px,#1d0c45 130px,#4b0c6b 133px,#982865 139px,#982766 148px,#4a0c6b 154px,#0e092b 159px,#09061f 165px,#330a5e 171px,#7c1e6d 177px,#922568 185px,#791c6d 191px,#3b0964 196px,#0d0828 201px,#0a0722 207px,#420a67 216px,#520e6d 227px,#280b53 235px,#08051d 242px,#0c0826 252px,#4a0c6a 260px,#63146e 268px,#500e6c 276px,#230c4c 281px,#0f092c 284px)"></i><i style="top:78px;height:4px;background:linear-gradient(90deg,#07051b 0px,#0d0829 21px,#480b6a 32px,#530e6d 46px,#2b0b57 54px,#0a0722 63px,#130a33 71px,#500e6c 79px,#721a6e 88px,#5c126e 99px,#290b55 105px,#090620 112px,#090621 126px,#200c48 130px,#500e6c 133px,#a12b62 139px,#a02b62 148px,#4e0d6c 154px,#0e092b 159px,#090621 165px,#2b0b56 170px,#66166e 174px,#9e2a63 180px,#982865 189px,#440a68 196px,#0f092c 201px,#090621 206px,#310a5d 213px,#5e136e 221px,#4f0d6c 231px,#250c4f 236px,#08051d 242px,#0a0722 251px,#400a67 258px,#70196e 265px,#63146e 275px,#290b54 281px,#110a2f 284px)"></i><i style="top:82px;height:2px;background:linear-gradient(90deg,#07051b 0px,#0d0827 21px,#450b68 33px,#59116e 50px,#330c58 66px,#5f136e 76px,#84206b 85px,#58106d 99px,#1f0c47 106px,#07051c 114px,#0e092b 123px,#400c63 129px,#932666 134px,#cb4248 139px,#c83f4c 147px,#83206b 152px,#350a60 156px,#0c0826 160px,#0b0725 166px,#360a60 171px,#8f2468 177px,#b83556 184px,#ae305c 190px,#4f0e6b 198px,#1a0b3f 205px,#1c0c43 210px,#4e0d6b 218px,#4c0d6a 230px,#210c4a 236px,#08051d 242px,#0f092c 250px,#550f6d 258px,#83206b 265px,#781c6d 274px,#3c0965 280px,#140b34 284px)"></i><i style="top:84px;height:2px;background:linear-gradient(90deg,#07051b 0px,#0e082a 30px,#310a5b 44px,#6d186e 58px,#721a6e 81px,#340a5d 93px,#08051d 109px,#0c0826 120px,#340a5f 125px,#7f1e6c 130px,#bc3754 136px,#bc3854 145px,#7a1d6d 151px,#380962 155px,#0b0725 160px,#090621 168px,#310b5a 175px,#741b6d 182px,#89226a 191px,#540f6d 202px,#120a32 211px,#09061f 245px,#430a68 256px,#5e136e 266px,#450b68 276px,#0e092b 284px)"></i><i style="top:86px;height:14px;background:linear-gradient(90deg,#07051b 0px,#0b0725 36px,#3d0965 47px,#811f6c 60px,#7e1e6c 78px,#320a5e 91px,#090620 102px,#0a0722 119px,#2d0b58 124px,#6c186e 128px,#b63457 134px,#be3853 144px,#85206b 150px,#350a60 155px,#0b0724 160px,#09061f 169px,#230c4c 175px,#56106d 180px,#84206b 188px,#761b6d 199px,#370961 206px,#0a0722 213px,#07051b 243px,#1f0c48 251px,#490b6a 258px,#4b0c6b 272px,#240c4f 279px,#0c0827 284px)"></i><i style="top:100px;height:12px;background:linear-gradient(90deg,#07051b 0px,#0c0826 36px,#3b0964 46px,#8d2369 59px,#8f2469 77px,#400a67 90px,#0c0826 100px,#07051b 117px,#190c3e 122px,#520e6d 126px,#be3952 133px,#d24743 141px,#ba3655 147px,#5c126e 153px,#1e0c46 157px,#08051d 162px,#0d0829 171px,#480b6a 178px,#8c2369 186px,#88226a 198px,#3c0965 206px,#0a0722 213px,#060419 243px,#1f0c48 251px,#4b0c6b 259px,#470b6a 273px,#1e0c45 280px,#0c0826 284px)"></i><i style="top:112px;height:24px;background:linear-gradient(90deg,#07051b 0px,#0c0826 36px,#3c0964 46px,#8d2469 59px,#8f2468 77px,#400a67 90px,#0c0826 100px,#07051b 117px,#1a0c40 122px,#57106e 126px,#ca404a 133px,#dd5239 142px,#ba3655 148px,#4f0d6c 154px,#10092d 159px,#060419 166px,#170b3a 173px,#4c0c6b 178px,#942667 186px,#8f2468 198px,#3f0a66 206px,#0c0827 212px,#040314 225px,#0a0722 246px,#440a69 257px,#4d0c6b 271px,#230c4d 279px,#0b0724 284px)"></i><i style="top:136px;height:8px;background:linear-gradient(90deg,#07051b 0px,#0b0724 36px,#3d0965 47px,#83206b 60px,#801f6c 78px,#3a0963 90px,#0a0722 101px,#090721 119px,#2f0a5a 124px,#721a6e 128px,#c13b50 134px,#c93f4b 144px,#9c2964 149px,#470b6a 154px,#0e092a 159px,#060419 167px,#140b34 173px,#4d0d6c 179px,#84206b 187px,#7d1e6c 198px,#360961 206px,#08061e 213px,#060419 244px,#350a60 254px,#540f6d 264px,#400a67 275px,#0b0724 284px)"></i><i style="top:144px;height:4px;background:linear-gradient(90deg,#08061f 0px,#0e092a 37px,#4a0c6b 49px,#821f6c 62px,#741a6e 80px,#320a5e 91px,#0a0722 102px,#0b0723 119px,#2d0b59 124px,#6c186e 128px,#b63458 134px,#bd3853 144px,#84206b 150px,#350a5f 155px,#0b0725 160px,#08061f 169px,#2b0b57 176px,#6d186e 183px,#811f6c 193px,#65156e 201px,#2a0b55 207px,#08051d 214px,#090620 245px,#450b69 256px,#57106d 269px,#2f0a5a 278px,#0c0827 284px)"></i><i style="top:148px;height:4px;background:linear-gradient(90deg,#120a32 0px,#120a32 36px,#4b0c6b 48px,#8a226a 61px,#83206b 79px,#340a5f 93px,#130a33 105px,#170b3a 119px,#490c6a 125px,#b53458 133px,#c63e4d 142px,#a72d60 148px,#430a68 155px,#140b36 161px,#190b3d 171px,#57106d 179px,#88226a 187px,#7d1e6c 199px,#390a63 207px,#120a31 215px,#140b36 245px,#4f0d6c 255px,#68166e 266px,#4e0d6c 276px,#190c3e 284px)"></i><i style="top:152px;height:12px;background:linear-gradient(90deg,#160b39 0px,#040315 27px,#120a32 40px,#4f0d6c 49px,#922568 61px,#902568 78px,#3b0964 94px,#1c0c43 107px,#240c4e 120px,#6b176e 127px,#b93656 134px,#bc3854 145px,#721a6e 152px,#260c50 159px,#1c0c43 168px,#430a68 176px,#8a226a 186px,#821f6c 199px,#320a5d 209px,#180c3c 219px,#1e0c46 245px,#5e136e 256px,#6f196e 269px,#3c0964 280px,#240c4e 284px)"></i><i style="top:164px;height:8px;background:linear-gradient(90deg,#160b39 0px,#040314 27px,#120a32 40px,#4f0d6c 49px,#922568 61px,#902568 78px,#3b0964 94px,#1c0c43 107px,#230c4c 120px,#70196e 128px,#af315c 135px,#a92e5f 146px,#450a69 155px,#1c0c43 162px,#260c51 172px,#68166e 181px,#87216b 190px,#6f196e 201px,#2a0b55 210px,#180c3c 221px,#1e0c45 245px,#5b126e 256px,#6c186e 269px,#3a0964 280px,#230c4c 284px)"></i><i style="top:172px;height:2px;background:linear-gradient(90deg,#1c0c42 0px,#08061e 26px,#130a33 39px,#500d6c 49px,#8f2468 61px,#8b236a 79px,#380962 95px,#1f0c48 112px,#300a5b 122px,#811f6c 130px,#a82e5f 137px,#972766 147px,#3b0964 156px,#1e0c45 165px,#390963 175px,#7e1e6c 187px,#71196e 200px,#2c0b58 210px,#1c0c43 222px,#220c4b 245px,#5e136e 257px,#65156e 272px,#2a0b56 283px,#250c50 284px)"></i><i style="top:174px;height:2px;background:linear-gradient(90deg,#430b68 0px,#3f0a65 40px,#6f196d 66px,#550f6d 90px,#420a67 118px,#731a6c 139px,#5d126e 151px,#3e0a65 164px,#61146e 195px,#3b0a63 221px,#480b6a 252px,#540f6d 273px,#3e0a65 284px)"></i><i style="top:176px;height:2px;background:#1b093d"></i><i style="top:178px;height:38px;background:linear-gradient(90deg,#010109 0px,#07051b 284px)"></i><i style="top:216px;height:2px;background:#010005"></i></div><svg width="1271" height="721" font-family="Liberation Sans, sans-serif"><style>text{stroke:currentColor;stroke-width:0.12px}</style><rect x="152.5" y="107.2" width="285.0" height="217.6" fill="none" stroke="#000" stroke-width="1.4"/><text x="295.0" y="101.2" font-size="14" text-anchor="middle" textLength="79.6" lengthAdjust="spacingAndGlyphs">Candidate f</text><line x1="149.0" x2="152.5" y1="290.3" y2="290.3" stroke="#000" stroke-width="1"/><text x="145.3" y="294.2" font-size="11" text-anchor="end">50</text><line x1="149.0" x2="152.5" y1="252.0" y2="252.0" stroke="#000" stroke-width="1"/><text x="145.3" y="255.9" font-size="11" text-anchor="end">100</text><line x1="149.0" x2="152.5" y1="213.7" y2="213.7" stroke="#000" stroke-width="1"/><text x="145.3" y="217.6" font-size="11" text-anchor="end">150</text><line x1="149.0" x2="152.5" y1="175.4" y2="175.4" stroke="#000" stroke-width="1"/><text x="145.3" y="179.3" font-size="11" text-anchor="end">200</text><line x1="149.0" x2="152.5" y1="137.1" y2="137.1" stroke="#000" stroke-width="1"/><text x="145.3" y="141.0" font-size="11" text-anchor="end">250</text><text transform="translate(121.2 216.0) rotate(-90)" font-size="13.5" text-anchor="middle" textLength="98.3" lengthAdjust="spacingAndGlyphs">No. observations</text><line x1="152.5" x2="152.5" y1="324.8" y2="328.3" stroke="#000" stroke-width="1"/><text x="152.5" y="339.8" font-size="11" text-anchor="middle">2.210</text><line x1="209.5" x2="209.5" y1="324.8" y2="328.3" stroke="#000" stroke-width="1"/><text x="209.5" y="339.8" font-size="11" text-anchor="middle">2.212</text><line x1="266.5" x2="266.5" y1="324.8" y2="328.3" stroke="#000" stroke-width="1"/><text x="266.5" y="339.8" font-size="11" text-anchor="middle">2.214</text><line x1="323.5" x2="323.5" y1="324.8" y2="328.3" stroke="#000" stroke-width="1"/><text x="323.5" y="339.8" font-size="11" text-anchor="middle">2.216</text><line x1="380.5" x2="380.5" y1="324.8" y2="328.3" stroke="#000" stroke-width="1"/><text x="380.5" y="339.8" font-size="11" text-anchor="middle">2.218</text><line x1="437.5" x2="437.5" y1="324.8" y2="328.3" stroke="#000" stroke-width="1"/><text x="437.5" y="339.8" font-size="11" text-anchor="middle">2.220</text><text x="295.0" y="355.9" font-size="13.4" text-anchor="middle" textLength="65" lengthAdjust="spacingAndGlyphs">Period [d]</text><rect x="153.3" y="108.0" width="13.0" height="18.0" fill="#fff" stroke="#000" stroke-width="0.6"/><rect x="153.1" y="131.0" width="13.6" height="129.7" fill="#fdf0f5" stroke="#000" stroke-width="0.8"/><rect x="153.1" y="261.8" width="13.6" height="62.0" fill="#fdf4f8" stroke="#000" stroke-width="0.8"/><rect x="167.1" y="126.1" width="14.0" height="70.5" fill="#fff" stroke="#000" stroke-width="0.8"/><rect x="153.4" y="127.7" width="13" height="2.2" fill="#d0103a"/><text transform="translate(164.8 125.6) rotate(-90)" font-size="11.2" fill="#000080" style="color:#000080" textLength="15.8" lengthAdjust="spacingAndGlyphs">pw</text><text transform="translate(179.6 194.3) rotate(-90)" font-size="11.6" fill="#000080" style="color:#000080" textLength="62" lengthAdjust="spacingAndGlyphs">ESPRESSO</text><text transform="translate(164.8 259.5) rotate(-90)" font-size="11.6" fill="#000080" style="color:#000080" textLength="63.3" lengthAdjust="spacingAndGlyphs">HARPSpost</text><text transform="translate(164.8 323.9) rotate(-90)" font-size="11.6" fill="#000080" style="color:#000080" textLength="58.3" lengthAdjust="spacingAndGlyphs">HARPSpre</text><rect x="504.4" y="107.2" width="285.0" height="217.6" fill="none" stroke="#000" stroke-width="1.4"/><text x="646.9" y="101.2" font-size="14" text-anchor="middle" textLength="54.7" lengthAdjust="spacingAndGlyphs">Planet e</text><line x1="500.9" x2="504.4" y1="290.3" y2="290.3" stroke="#000" stroke-width="1"/><text x="497.2" y="294.2" font-size="11" text-anchor="end">50</text><line x1="500.9" x2="504.4" y1="252.0" y2="252.0" stroke="#000" stroke-width="1"/><text x="497.2" y="255.9" font-size="11" text-anchor="end">100</text><line x1="500.9" x2="504.4" y1="213.7" y2="213.7" stroke="#000" stroke-width="1"/><text x="497.2" y="217.6" font-size="11" text-anchor="end">150</text><line x1="500.9" x2="504.4" y1="175.4" y2="175.4" stroke="#000" stroke-width="1"/><text x="497.2" y="179.3" font-size="11" text-anchor="end">200</text><line x1="500.9" x2="504.4" y1="137.1" y2="137.1" stroke="#000" stroke-width="1"/><text x="497.2" y="141.0" font-size="11" text-anchor="end">250</text><text transform="translate(473.1 216.0) rotate(-90)" font-size="13.5" text-anchor="middle" textLength="98.3" lengthAdjust="spacingAndGlyphs">No. observations</text><line x1="504.4" x2="504.4" y1="324.8" y2="328.3" stroke="#000" stroke-width="1"/><text x="504.4" y="339.8" font-size="11" text-anchor="middle">4.40</text><line x1="561.4" x2="561.4" y1="324.8" y2="328.3" stroke="#000" stroke-width="1"/><text x="561.4" y="339.8" font-size="11" text-anchor="middle">4.41</text><line x1="618.4" x2="618.4" y1="324.8" y2="328.3" stroke="#000" stroke-width="1"/><text x="618.4" y="339.8" font-size="11" text-anchor="middle">4.42</text><line x1="675.4" x2="675.4" y1="324.8" y2="328.3" stroke="#000" stroke-width="1"/><text x="675.4" y="339.8" font-size="11" text-anchor="middle">4.43</text><line x1="732.4" x2="732.4" y1="324.8" y2="328.3" stroke="#000" stroke-width="1"/><text x="732.4" y="339.8" font-size="11" text-anchor="middle">4.44</text><line x1="789.4" x2="789.4" y1="324.8" y2="328.3" stroke="#000" stroke-width="1"/><text x="789.4" y="339.8" font-size="11" text-anchor="middle">4.45</text><text x="646.9" y="355.9" font-size="13.4" text-anchor="middle" textLength="65" lengthAdjust="spacingAndGlyphs">Period [d]</text><rect x="505.2" y="108.0" width="13.0" height="18.0" fill="#fff" stroke="#000" stroke-width="0.6"/><rect x="505.0" y="131.0" width="13.6" height="129.7" fill="#fdf0f5" stroke="#000" stroke-width="0.8"/><rect x="505.0" y="261.8" width="13.6" height="62.0" fill="#fdf4f8" stroke="#000" stroke-width="0.8"/><rect x="519.0" y="126.1" width="14.0" height="70.5" fill="#fff" stroke="#000" stroke-width="0.8"/><text transform="translate(516.7 125.6) rotate(-90)" font-size="11.2" fill="#000080" style="color:#000080" textLength="15.8" lengthAdjust="spacingAndGlyphs">pw</text><text transform="translate(531.5 194.3) rotate(-90)" font-size="11.6" fill="#000080" style="color:#000080" textLength="62" lengthAdjust="spacingAndGlyphs">ESPRESSO</text><text transform="translate(516.7 259.5) rotate(-90)" font-size="11.6" fill="#000080" style="color:#000080" textLength="63.3" lengthAdjust="spacingAndGlyphs">HARPSpost</text><text transform="translate(516.7 323.9) rotate(-90)" font-size="11.6" fill="#000080" style="color:#000080" textLength="58.3" lengthAdjust="spacingAndGlyphs">HARPSpre</text><rect x="856.4" y="107.2" width="285.0" height="217.6" fill="none" stroke="#000" stroke-width="1.4"/><text x="998.9" y="101.2" font-size="14" text-anchor="middle" textLength="55.0" lengthAdjust="spacingAndGlyphs">Planet b</text><line x1="852.9" x2="856.4" y1="290.3" y2="290.3" stroke="#000" stroke-width="1"/><text x="849.2" y="294.2" font-size="11" text-anchor="end">50</text><line x1="852.9" x2="856.4" y1="252.0" y2="252.0" stroke="#000" stroke-width="1"/><text x="849.2" y="255.9" font-size="11" text-anchor="end">100</text><line x1="852.9" x2="856.4" y1="213.7" y2="213.7" stroke="#000" stroke-width="1"/><text x="849.2" y="217.6" font-size="11" text-anchor="end">150</text><line x1="852.9" x2="856.4" y1="175.4" y2="175.4" stroke="#000" stroke-width="1"/><text x="849.2" y="179.3" font-size="11" text-anchor="end">200</text><line x1="852.9" x2="856.4" y1="137.1" y2="137.1" stroke="#000" stroke-width="1"/><text x="849.2" y="141.0" font-size="11" text-anchor="end">250</text><text transform="translate(825.1 216.0) rotate(-90)" font-size="13.5" text-anchor="middle" textLength="98.3" lengthAdjust="spacingAndGlyphs">No. observations</text><line x1="856.4" x2="856.4" y1="324.8" y2="328.3" stroke="#000" stroke-width="1"/><text x="856.4" y="339.8" font-size="11" text-anchor="middle">9.20</text><line x1="894.4" x2="894.4" y1="324.8" y2="328.3" stroke="#000" stroke-width="1"/><text x="894.4" y="339.8" font-size="11" text-anchor="middle">9.22</text><line x1="932.4" x2="932.4" y1="324.8" y2="328.3" stroke="#000" stroke-width="1"/><text x="932.4" y="339.8" font-size="11" text-anchor="middle">9.24</text><line x1="970.4" x2="970.4" y1="324.8" y2="328.3" stroke="#000" stroke-width="1"/><text x="970.4" y="339.8" font-size="11" text-anchor="middle">9.26</text><line x1="1008.4" x2="1008.4" y1="324.8" y2="328.3" stroke="#000" stroke-width="1"/><text x="1008.4" y="339.8" font-size="11" text-anchor="middle">9.28</text><line x1="1046.4" x2="1046.4" y1="324.8" y2="328.3" stroke="#000" stroke-width="1"/><text x="1046.4" y="339.8" font-size="11" text-anchor="middle">9.30</text><line x1="1084.4" x2="1084.4" y1="324.8" y2="328.3" stroke="#000" stroke-width="1"/><text x="1084.4" y="339.8" font-size="11" text-anchor="middle">9.32</text><line x1="1122.4" x2="1122.4" y1="324.8" y2="328.3" stroke="#000" stroke-width="1"/><text x="1122.4" y="339.8" font-size="11" text-anchor="middle">9.34</text><text x="998.9" y="355.9" font-size="13.4" text-anchor="middle" textLength="65" lengthAdjust="spacingAndGlyphs">Period [d]</text><rect x="857.2" y="108.0" width="13.0" height="18.0" fill="#fff" stroke="#000" stroke-width="0.6"/><rect x="857.0" y="131.0" width="13.6" height="129.7" fill="#fdf0f5" stroke="#000" stroke-width="0.8"/><rect x="857.0" y="261.8" width="13.6" height="62.0" fill="#fdf4f8" stroke="#000" stroke-width="0.8"/><rect x="871.0" y="126.1" width="14.0" height="70.5" fill="#fff" stroke="#000" stroke-width="0.8"/><text transform="translate(868.7 125.6) rotate(-90)" font-size="11.2" fill="#000080" style="color:#000080" textLength="15.8" lengthAdjust="spacingAndGlyphs">pw</text><text transform="translate(883.5 194.3) rotate(-90)" font-size="11.6" fill="#000080" style="color:#000080" textLength="62" lengthAdjust="spacingAndGlyphs">ESPRESSO</text><text transform="translate(868.7 259.5) rotate(-90)" font-size="11.6" fill="#000080" style="color:#000080" textLength="63.3" lengthAdjust="spacingAndGlyphs">HARPSpost</text><text transform="translate(868.7 323.9) rotate(-90)" font-size="11.6" fill="#000080" style="color:#000080" textLength="58.3" lengthAdjust="spacingAndGlyphs">HARPSpre</text><rect x="152.5" y="386.0" width="285.0" height="217.6" fill="none" stroke="#000" stroke-width="1.4"/><text x="295.0" y="380.3" font-size="14" text-anchor="middle" textLength="53.5" lengthAdjust="spacingAndGlyphs">Planet c</text><line x1="149.0" x2="152.5" y1="569.1" y2="569.1" stroke="#000" stroke-width="1"/><text x="145.3" y="573.0" font-size="11" text-anchor="end">50</text><line x1="149.0" x2="152.5" y1="530.8" y2="530.8" stroke="#000" stroke-width="1"/><text x="145.3" y="534.7" font-size="11" text-anchor="end">100</text><line x1="149.0" x2="152.5" y1="492.5" y2="492.5" stroke="#000" stroke-width="1"/><text x="145.3" y="496.4" font-size="11" text-anchor="end">150</text><line x1="149.0" x2="152.5" y1="454.2" y2="454.2" stroke="#000" stroke-width="1"/><text x="145.3" y="458.1" font-size="11" text-anchor="end">200</text><line x1="149.0" x2="152.5" y1="415.9" y2="415.9" stroke="#000" stroke-width="1"/><text x="145.3" y="419.8" font-size="11" text-anchor="end">250</text><text transform="translate(121.2 494.8) rotate(-90)" font-size="13.5" text-anchor="middle" textLength="98.3" lengthAdjust="spacingAndGlyphs">No. observations</text><line x1="152.5" x2="152.5" y1="603.6" y2="607.1" stroke="#000" stroke-width="1"/><text x="152.5" y="618.6" font-size="11" text-anchor="middle">21.4</text><line x1="193.2" x2="193.2" y1="603.6" y2="607.1" stroke="#000" stroke-width="1"/><text x="193.2" y="618.6" font-size="11" text-anchor="middle">21.5</text><line x1="233.9" x2="233.9" y1="603.6" y2="607.1" stroke="#000" stroke-width="1"/><text x="233.9" y="618.6" font-size="11" text-anchor="middle">21.6</text><line x1="274.6" x2="274.6" y1="603.6" y2="607.1" stroke="#000" stroke-width="1"/><text x="274.6" y="618.6" font-size="11" text-anchor="middle">21.7</text><line x1="315.4" x2="315.4" y1="603.6" y2="607.1" stroke="#000" stroke-width="1"/><text x="315.4" y="618.6" font-size="11" text-anchor="middle">21.8</text><line x1="356.1" x2="356.1" y1="603.6" y2="607.1" stroke="#000" stroke-width="1"/><text x="356.1" y="618.6" font-size="11" text-anchor="middle">21.9</text><line x1="396.8" x2="396.8" y1="603.6" y2="607.1" stroke="#000" stroke-width="1"/><text x="396.8" y="618.6" font-size="11" text-anchor="middle">22.0</text><line x1="437.5" x2="437.5" y1="603.6" y2="607.1" stroke="#000" stroke-width="1"/><text x="437.5" y="618.6" font-size="11" text-anchor="middle">22.1</text><text x="295.0" y="634.1" font-size="12" text-anchor="middle" textLength="56.3" lengthAdjust="spacingAndGlyphs">Period [d]</text><rect x="153.3" y="386.8" width="13.0" height="18.0" fill="#fff" stroke="#000" stroke-width="0.6"/><rect x="153.1" y="409.8" width="13.6" height="129.7" fill="#fdf0f5" stroke="#000" stroke-width="0.8"/><rect x="153.1" y="540.6" width="13.6" height="62.0" fill="#fdf4f8" stroke="#000" stroke-width="0.8"/><rect x="167.1" y="404.9" width="14.0" height="70.5" fill="#fff" stroke="#000" stroke-width="0.8"/><text transform="translate(164.8 404.4) rotate(-90)" font-size="11.2" fill="#000080" style="color:#000080" textLength="15.8" lengthAdjust="spacingAndGlyphs">pw</text><text transform="translate(179.6 473.1) rotate(-90)" font-size="11.6" fill="#000080" style="color:#000080" textLength="62" lengthAdjust="spacingAndGlyphs">ESPRESSO</text><text transform="translate(164.8 538.3) rotate(-90)" font-size="11.6" fill="#000080" style="color:#000080" textLength="63.3" lengthAdjust="spacingAndGlyphs">HARPSpost</text><text transform="translate(164.8 602.7) rotate(-90)" font-size="11.6" fill="#000080" style="color:#000080" textLength="58.3" lengthAdjust="spacingAndGlyphs">HARPSpre</text><rect x="504.4" y="386.0" width="285.0" height="217.6" fill="none" stroke="#000" stroke-width="1.4"/><text x="646.9" y="380.3" font-size="14" text-anchor="middle" textLength="103.0" lengthAdjust="spacingAndGlyphs">Rotation Period</text><line x1="500.9" x2="504.4" y1="569.1" y2="569.1" stroke="#000" stroke-width="1"/><text x="497.2" y="573.0" font-size="11" text-anchor="end">50</text><line x1="500.9" x2="504.4" y1="530.8" y2="530.8" stroke="#000" stroke-width="1"/><text x="497.2" y="534.7" font-size="11" text-anchor="end">100</text><line x1="500.9" x2="504.4" y1="492.5" y2="492.5" stroke="#000" stroke-width="1"/><text x="497.2" y="496.4" font-size="11" text-anchor="end">150</text><line x1="500.9" x2="504.4" y1="454.2" y2="454.2" stroke="#000" stroke-width="1"/><text x="497.2" y="458.1" font-size="11" text-anchor="end">200</text><line x1="500.9" x2="504.4" y1="415.9" y2="415.9" stroke="#000" stroke-width="1"/><text x="497.2" y="419.8" font-size="11" text-anchor="end">250</text><text transform="translate(473.1 494.8) rotate(-90)" font-size="13.5" text-anchor="middle" textLength="98.3" lengthAdjust="spacingAndGlyphs">No. observations</text><line x1="504.4" x2="504.4" y1="603.6" y2="607.1" stroke="#000" stroke-width="1"/><text x="504.4" y="618.6" font-size="11" text-anchor="middle">37.0</text><line x1="540.0" x2="540.0" y1="603.6" y2="607.1" stroke="#000" stroke-width="1"/><text x="540.0" y="618.6" font-size="11" text-anchor="middle">37.5</text><line x1="575.6" x2="575.6" y1="603.6" y2="607.1" stroke="#000" stroke-width="1"/><text x="575.6" y="618.6" font-size="11" text-anchor="middle">38.0</text><line x1="611.3" x2="611.3" y1="603.6" y2="607.1" stroke="#000" stroke-width="1"/><text x="611.3" y="618.6" font-size="11" text-anchor="middle">38.5</text><line x1="646.9" x2="646.9" y1="603.6" y2="607.1" stroke="#000" stroke-width="1"/><text x="646.9" y="618.6" font-size="11" text-anchor="middle">39.0</text><line x1="682.5" x2="682.5" y1="603.6" y2="607.1" stroke="#000" stroke-width="1"/><text x="682.5" y="618.6" font-size="11" text-anchor="middle">39.5</text><line x1="718.1" x2="718.1" y1="603.6" y2="607.1" stroke="#000" stroke-width="1"/><text x="718.1" y="618.6" font-size="11" text-anchor="middle">40.0</text><line x1="753.8" x2="753.8" y1="603.6" y2="607.1" stroke="#000" stroke-width="1"/><text x="753.8" y="618.6" font-size="11" text-anchor="middle">40.5</text><line x1="789.4" x2="789.4" y1="603.6" y2="607.1" stroke="#000" stroke-width="1"/><text x="789.4" y="618.6" font-size="11" text-anchor="middle">41.0</text><text x="646.9" y="634.1" font-size="12" text-anchor="middle" textLength="56.3" lengthAdjust="spacingAndGlyphs">Period [d]</text><rect x="505.2" y="386.8" width="13.0" height="18.0" fill="#fff" stroke="#000" stroke-width="0.6"/><rect x="505.0" y="409.8" width="13.6" height="129.7" fill="#fdf0f5" stroke="#000" stroke-width="0.8"/><rect x="505.0" y="540.6" width="13.6" height="62.0" fill="#fdf4f8" stroke="#000" stroke-width="0.8"/><rect x="519.0" y="404.9" width="14.0" height="70.5" fill="#fff" stroke="#000" stroke-width="0.8"/><defs><linearGradient id="rl"><stop offset="0" stop-color="#e0206a"/><stop offset="1" stop-color="#3a0a80"/></linearGradient></defs><rect x="505.3" y="406.5" width="13" height="2.2" fill="url(#rl)"/><text transform="translate(516.7 404.4) rotate(-90)" font-size="11.2" fill="#000080" style="color:#000080" textLength="15.8" lengthAdjust="spacingAndGlyphs">pw</text><text transform="translate(531.5 473.1) rotate(-90)" font-size="11.6" fill="#000080" style="color:#000080" textLength="62" lengthAdjust="spacingAndGlyphs">ESPRESSO</text><text transform="translate(516.7 538.3) rotate(-90)" font-size="11.6" fill="#000080" style="color:#000080" textLength="63.3" lengthAdjust="spacingAndGlyphs">HARPSpost</text><text transform="translate(516.7 602.7) rotate(-90)" font-size="11.6" fill="#000080" style="color:#000080" textLength="58.3" lengthAdjust="spacingAndGlyphs">HARPSpre</text><rect x="856.4" y="386.0" width="285.0" height="217.6" fill="none" stroke="#000" stroke-width="1.4"/><text x="998.9" y="380.3" font-size="14" text-anchor="middle" textLength="54.4" lengthAdjust="spacingAndGlyphs">Planet d</text><line x1="852.9" x2="856.4" y1="569.1" y2="569.1" stroke="#000" stroke-width="1"/><text x="849.2" y="573.0" font-size="11" text-anchor="end">50</text><line x1="852.9" x2="856.4" y1="530.8" y2="530.8" stroke="#000" stroke-width="1"/><text x="849.2" y="534.7" font-size="11" text-anchor="end">100</text><line x1="852.9" x2="856.4" y1="492.5" y2="492.5" stroke="#000" stroke-width="1"/><text x="849.2" y="496.4" font-size="11" text-anchor="end">150</text><line x1="852.9" x2="856.4" y1="454.2" y2="454.2" stroke="#000" stroke-width="1"/><text x="849.2" y="458.1" font-size="11" text-anchor="end">200</text><line x1="852.9" x2="856.4" y1="415.9" y2="415.9" stroke="#000" stroke-width="1"/><text x="849.2" y="419.8" font-size="11" text-anchor="end">250</text><text transform="translate(825.1 494.8) rotate(-90)" font-size="13.5" text-anchor="middle" textLength="98.3" lengthAdjust="spacingAndGlyphs">No. observations</text><line x1="856.4" x2="856.4" y1="603.6" y2="607.1" stroke="#000" stroke-width="1"/><text x="856.4" y="618.6" font-size="11" text-anchor="middle">49.0</text><line x1="897.1" x2="897.1" y1="603.6" y2="607.1" stroke="#000" stroke-width="1"/><text x="897.1" y="618.6" font-size="11" text-anchor="middle">49.5</text><line x1="937.8" x2="937.8" y1="603.6" y2="607.1" stroke="#000" stroke-width="1"/><text x="937.8" y="618.6" font-size="11" text-anchor="middle">50.0</text><line x1="978.5" x2="978.5" y1="603.6" y2="607.1" stroke="#000" stroke-width="1"/><text x="978.5" y="618.6" font-size="11" text-anchor="middle">50.5</text><line x1="1019.3" x2="1019.3" y1="603.6" y2="607.1" stroke="#000" stroke-width="1"/><text x="1019.3" y="618.6" font-size="11" text-anchor="middle">51.0</text><line x1="1060.0" x2="1060.0" y1="603.6" y2="607.1" stroke="#000" stroke-width="1"/><text x="1060.0" y="618.6" font-size="11" text-anchor="middle">51.5</text><line x1="1100.7" x2="1100.7" y1="603.6" y2="607.1" stroke="#000" stroke-width="1"/><text x="1100.7" y="618.6" font-size="11" text-anchor="middle">52.0</text><line x1="1141.4" x2="1141.4" y1="603.6" y2="607.1" stroke="#000" stroke-width="1"/><text x="1141.4" y="618.6" font-size="11" text-anchor="middle">52.5</text><text x="998.9" y="634.1" font-size="12" text-anchor="middle" textLength="56.3" lengthAdjust="spacingAndGlyphs">Period [d]</text><rect x="857.2" y="386.8" width="13.0" height="18.0" fill="#fff" stroke="#000" stroke-width="0.6"/><rect x="857.0" y="409.8" width="13.6" height="129.7" fill="#fdf0f5" stroke="#000" stroke-width="0.8"/><rect x="857.0" y="540.6" width="13.6" height="62.0" fill="#fdf4f8" stroke="#000" stroke-width="0.8"/><rect x="871.0" y="404.9" width="14.0" height="70.5" fill="#fff" stroke="#000" stroke-width="0.8"/><text transform="translate(868.7 404.4) rotate(-90)" font-size="11.2" fill="#000080" style="color:#000080" textLength="15.8" lengthAdjust="spacingAndGlyphs">pw</text><text transform="translate(883.5 473.1) rotate(-90)" font-size="11.6" fill="#000080" style="color:#000080" textLength="62" lengthAdjust="spacingAndGlyphs">ESPRESSO</text><text transform="translate(868.7 538.3) rotate(-90)" font-size="11.6" fill="#000080" style="color:#000080" textLength="63.3" lengthAdjust="spacingAndGlyphs">HARPSpost</text><text transform="translate(868.7 602.7) rotate(-90)" font-size="11.6" fill="#000080" style="color:#000080" textLength="58.3" lengthAdjust="spacingAndGlyphs">HARPSpre</text></svg></body></html>
